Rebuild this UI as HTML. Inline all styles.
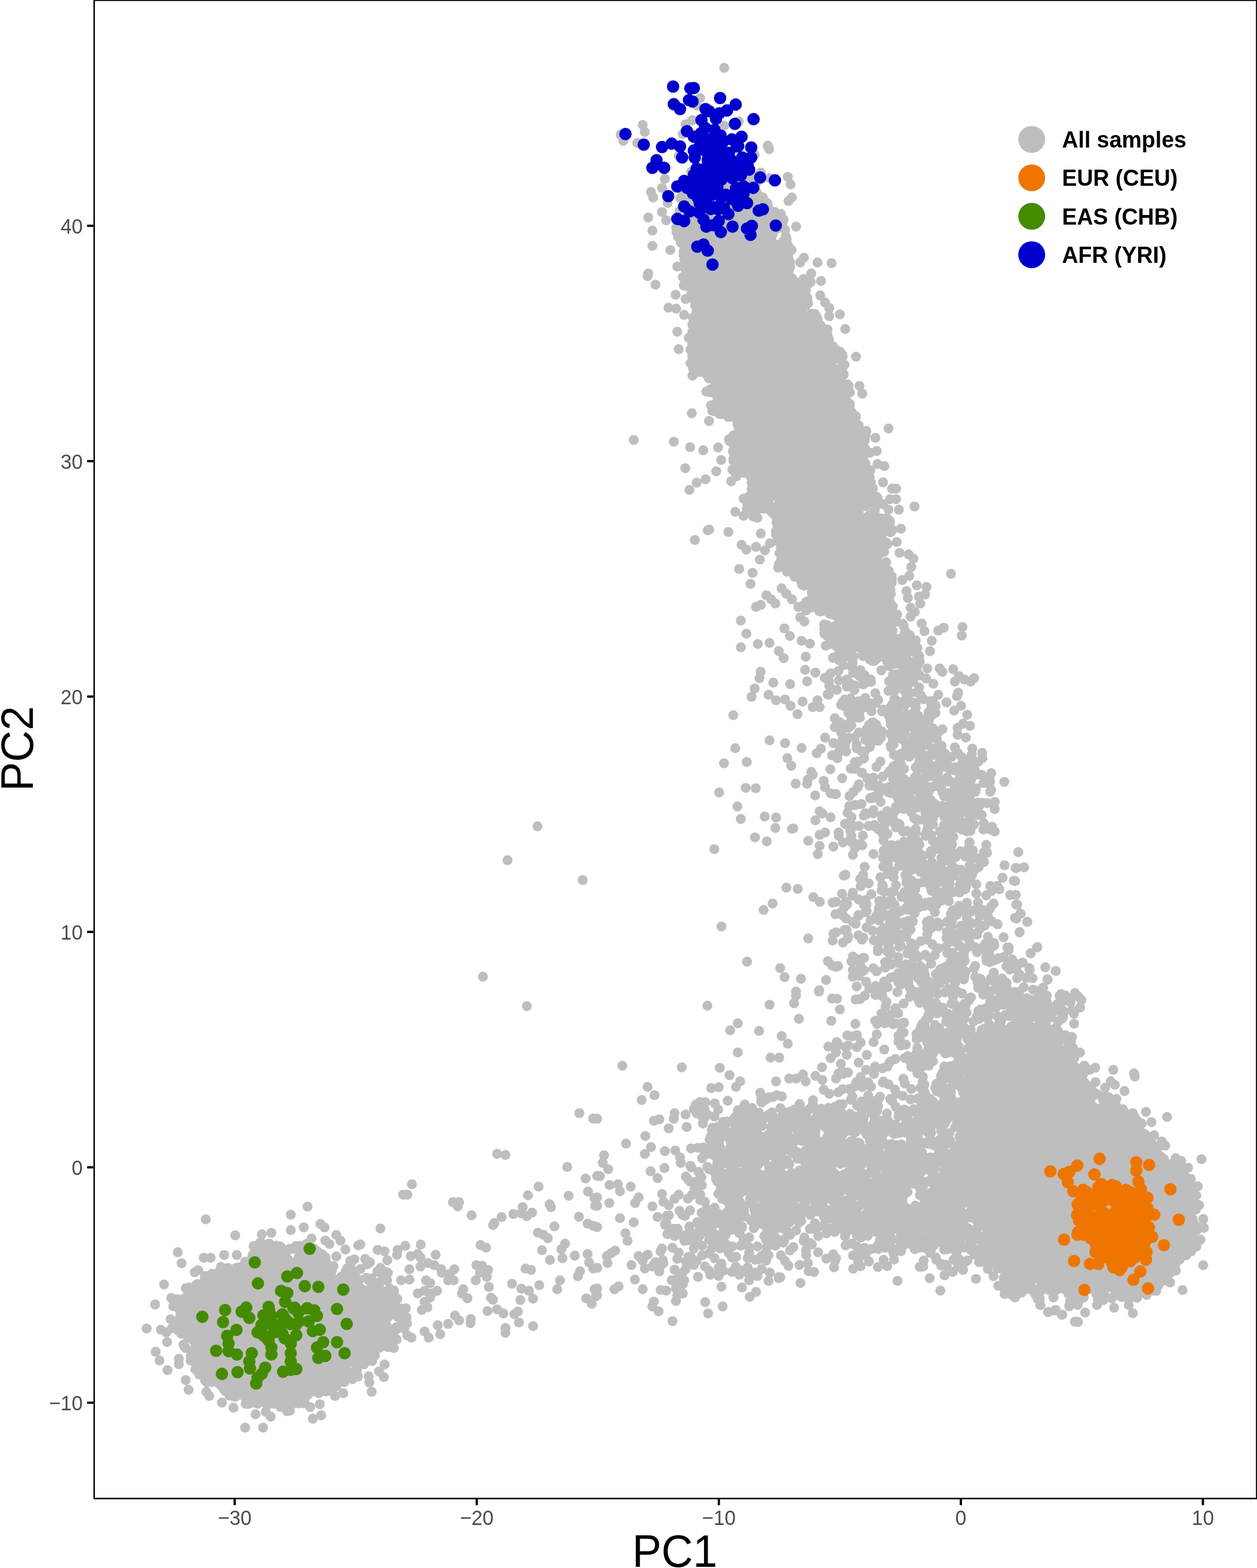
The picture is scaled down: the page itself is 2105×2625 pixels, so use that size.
<!DOCTYPE html>
<html lang="en"><head><meta charset="utf-8"><title>PCA plot: PC1 vs PC2</title>
<style>
html,body{margin:0;padding:0;background:#fff}
body{width:2105px;height:2625px;overflow:hidden}
svg{display:block}
text{font-family:"Liberation Sans",sans-serif}
.tick{font-size:33.33px;fill:#4d4d4d}
.title{font-size:73.33px;fill:#000}
.leg{font-size:37.5px;font-weight:bold;fill:#000}
.pt{fill:none;stroke-linecap:round}
</style></head>
<body>
<svg width="2105" height="2625" viewBox="0 0 2105 2625">
<rect x="0" y="0" width="2105" height="2625" fill="#fff"/>
<g id="points">
<path fill="#bebebe" d="M438 2096 L396 2137 L370 2138 L330 2166 L315 2187 L317 2202 L314 2221 L317 2233 L345 2288 L357 2299 L415 2332 L462 2332 L472 2334 L485 2344 L508 2324 L538 2319 L580 2297 L586 2291 L593 2275 L609 2262 L615 2249 L626 2239 L641 2236 L646 2221 L660 2206 L638 2186 L627 2167 L586 2152 L578 2143 L576 2131 L563 2134 L550 2132 L507 2099 L499 2105 L486 2107 Z"/>
<path fill="#bebebe" d="M1649 1751 L1638 1778 L1655 1904 L1650 1918 L1617 1942 L1608 1970 L1664 2048 L1664 2070 L1653 2081 L1650 2096 L1665 2107 L1687 2107 L1696 2115 L1701 2132 L1695 2150 L1722 2142 L1736 2145 L1747 2143 L1766 2146 L1769 2149 L1789 2149 L1800 2160 L1810 2151 L1820 2149 L1832 2151 L1843 2158 L1893 2157 L1904 2148 L1922 2143 L1937 2128 L1949 2123 L1985 2078 L1986 2023 L1971 1963 L1938 1955 L1923 1940 L1921 1928 L1903 1908 L1894 1887 L1877 1878 L1861 1855 L1822 1843 L1795 1805 L1781 1796 L1777 1786 L1737 1739 L1717 1736 L1710 1742 Z"/>
<path fill="#bebebe" d="M1167 314 L1153 346 L1149 382 L1163 428 L1161 472 L1179 495 L1181 505 L1174 555 L1169 570 L1174 588 L1174 605 L1190 610 L1199 620 L1205 633 L1207 649 L1204 673 L1215 679 L1235 682 L1249 695 L1251 708 L1242 738 L1242 779 L1260 780 L1272 792 L1276 822 L1271 836 L1297 838 L1310 851 L1318 877 L1316 892 L1325 916 L1320 940 L1335 944 L1354 965 L1361 967 L1373 979 L1375 992 L1369 1007 L1402 1012 L1414 1024 L1414 1046 L1402 1058 L1393 1059 L1396 1068 L1413 1070 L1437 1082 L1496 1097 L1524 1097 L1524 1086 L1519 1076 L1501 1060 L1491 1038 L1477 1021 L1473 996 L1476 971 L1470 961 L1464 932 L1475 884 L1460 882 L1448 870 L1446 857 L1454 835 L1442 812 L1438 797 L1442 768 L1434 734 L1420 720 L1417 706 L1406 685 L1404 671 L1408 657 L1397 639 L1392 622 L1396 602 L1377 586 L1371 575 L1368 559 L1356 546 L1340 519 L1335 484 L1319 482 L1307 470 L1305 455 L1308 422 L1291 374 L1267 349 L1251 313 Z"/>
<path class="pt" stroke="#bebebe" stroke-width="16.7" d="M1212.4 1277.8h0M1250.5 1275.5h0M1318.6 1269.3h0M1325 1282h0M1367.8 1261.2h0M1393.3 1264.6h0M1390.5 1287.8h0M1358.6 1292.4h0M1360.9 1297h0M1352.8 1305.1h0M1351.6 1312.1h0M1332.4 1312.1h0M1379.4 1307.4h0M1381.7 1317.8h0M1391 1328.2h0M1397.9 1329.4h0M1365.1 1331.7h0M1204.3 1326.6h0M1248.7 1319h0M1265.6 1319.5h0M1234.8 1350.2h0M1240.6 1371h0M1280.6 1366.9h0M1299.6 1368.7h0M1298.4 1386.1h0M1328.5 1386.8h0M1326.2 1387.7h0M1372.5 1358.3h0M1377.1 1361.8h0M1391 1368.3h0M1365.5 1373.4h0M1264.4 1401.8h0M1284.1 1408.5h0M1353.5 1407.6h0M1372.5 1397.7h0M1381.7 1393.7h0M1372.5 1416.2h0M1369.5 1430h0M1395.6 1417.3h0M1196.2 1421.5h0M1316.9 1486h0M1335.9 1488.1h0M1362.1 1501.8h0M1372.9 1509.9h0M1394.4 1511h0M1293.8 1512.6h0M1278.8 1523.3h0M1399.1 1530.7h0M1208.2 1551h0M1353.5 1571.2h0M1395.6 1563.1h0M1394.4 1574.6h0M1251 1609.8h0M1386.4 1609.3h0M1393.3 1616.3h0M1399.1 1618.6h0M1306.5 1620.9h0M1313.9 1635.9h0M1341.2 1638.7h0M1383.3 1640.6h0M1372 1657.9h0M1333.1 1660h0M1184.6 1683.6h0M1288.7 1682h0M1333.1 1666.9h0M1329.7 1679.7h0M1371.3 1660h0M1393.3 1671.6h0M1337.8 1705.6h0M1392.1 1709h0M1235.5 1713.2h0M1222.8 1724.8h0M1271.1 1725.9h0M1308.8 1734.5h0M1319.3 1747.4h0M1235.5 1761.8h0M1290.3 1770.6h0M1304.9 1770.6h0M1042.3 1784.2h0M1141.6 1786.8h0M1205.4 1787.7h0M1221.6 1800h0M1239.4 1810.4h0M1232.5 1819.6h0M1299.6 1810.4h0M1321.6 1805.7h0M1333.1 1805.7h0M1344.7 1798.8h0M1349.3 1810.4h0M1365.5 1801.1h0M1377.1 1808.1h0M1376.6 1786.8h0M1400 1805.7h0M1379.4 1824.3h0M1388.7 1831.2h0M1273 1829.3h0M1286.9 1837h0M1300.8 1833.5h0M1084.4 1819.6h0M1096 1833.5h0M1074.5 1841.6h0M1190.9 1821.5h0M1203.6 1820.1h0M1171.7 1845.1h0M1218.6 1842.8h0M1161.9 1856.6h0M1129.6 1863.6h0M1128.4 1872.8h0M1148.1 1865.9h0M1094.9 1876.3h0M1104.1 1874h0M1119.8 1889h0M1149.9 1886.7h0M1080.7 1901.8h0M1048.4 1914.5h0M1090.2 1920.3h0M1079.8 1931.8h0M1113.4 1927.2h0M1130.7 1926h0M1138.8 1937.6h0M1140 1946.9h0M1157.3 1922.6h0M1011.6 1934.1h0M1009.3 1946.9h0M1018.5 1957.3h0M1004.6 1968.8h0M1089.5 1960.8h0M1112.7 1955.4h0M1101.1 1972.3h0M1020.8 1983.9h0M1034.7 1982.7h0M1038.2 1994.3h0M1056.2 1986.7h0M1069.4 2004.7h0M1063.6 2014h0M1020.4 2014h0M1000 2004.7h0M1000 2018.6h0M1108.7 1998.9h0M1111 2011.6h0M1129.6 2007h0M1136.5 2000.1h0M1092.5 2019.7h0M1038.2 2039.4h0M1061.3 2046.4h0M1120.3 2034.8h0M1115.7 2046.4h0M1000 1872.8h0M1400 1752.5h0M1400 1761.8h0M1047.4 2064.6h0M1050.9 2077.4h0M1129.6 2069.3h0M1136.5 2064.6h0M1161.9 2078.5h0M1171.2 2069.3h0M1192 2066.9h0M1199 2073.9h0M1215.2 2060h0M1238.3 2064.6h0M1245.2 2073.9h0M1254.5 2071.6h0M1279.9 2069.3h0M1289.2 2076.2h0M1298.4 2071.6h0M1312.3 2075h0M1347 2071.6h0M1356.3 2080.8h0M1370.2 2069.3h0M1384 2064.6h0M1397.9 2062.3h0M1316.9 2060h0M1333.1 2060h0M1030.1 2093.5h0M1023.1 2098.2h0M1016.2 2102.8h0M1017.4 2114.4h0M1069.4 2102.8h0M1084.4 2100.5h0M1076.3 2110.9h0M1108.7 2090.1h0M1126.1 2088.9h0M1136.5 2097h0M1134.2 2107.4h0M1109.9 2109.7h0M1097.2 2113.2h0M1152.7 2104h0M1161.9 2090.1h0M1175.8 2085.4h0M1192 2090.1h0M1205.9 2090.1h0M1175.8 2101.6h0M1166.6 2110.9h0M1196.6 2106.3h0M1208.2 2115.5h0M1226.7 2086.6h0M1240.6 2085.4h0M1254.5 2087.8h0M1268.4 2086.6h0M1284.6 2087.8h0M1298.4 2085.4h0M1254.5 2097h0M1252.2 2106.3h0M1225.6 2105.1h0M1270.7 2108.6h0M1286.9 2101.6h0M1307.7 2101.6h0M1314.6 2110.9h0M1320.4 2119h0M1328.5 2087.8h0M1359.7 2083.1h0M1345.9 2077.4h0M1396.8 2106.3h0M1000 2122.5h0M1057.4 2117.8h0M1079.8 2123.6h0M1092.5 2120.2h0M1104.1 2122.5h0M1111 2114.4h0M1129.6 2125.5h0M1148.1 2124.8h0M1161.9 2117.8h0M1180.5 2120.2h0M1187.4 2127.1h0M1203.6 2122.5h0M1225.6 2129.4h0M1240.6 2128.2h0M1275.3 2124.8h0M1289.2 2130.6h0M1354 2128.2h0M1363.2 2129.4h0M1063.2 2142.1h0M1168.9 2137.5h0M1189.7 2134h0M1202.4 2132.9h0M1124.9 2143.3h0M1134.2 2141h0M1145.7 2143.3h0M1143.4 2150.2h0M1238.3 2134h0M1254.5 2134h0M1254.5 2143.3h0M1268.4 2136.3h0M1286.9 2144.4h0M1304.2 2139.8h0M1340.5 2147.9h0M1000 2157.2h0M1035.9 2153.7h0M1028.9 2158.3h0M1076.3 2158.3h0M1106.4 2159.5h0M1115.7 2160.6h0M1131.9 2157.2h0M1143.4 2165.3h0M1134.2 2168.7h0M1208.2 2154.2h0M1242.5 2155.5h0M1266 2162.9h0M1255.6 2171h0M1000 2168.7h0M1094.9 2179.1h0M1092.5 2187.2h0M1102.9 2195.3h0M1131.9 2178h0M1180.9 2179.8h0M1210.1 2187.2h0M1185.8 2198.8h0M1126.1 2211.8h0M1084.4 462.3h0M1097.6 476.7h0M1131.4 493.5h0M1148.1 500.5h0M1119.6 515.1h0M1132.3 516.7h0M1145.7 527.1h0M1134.2 555.3h0M1136.5 584.5h0M1159.6 628.9h0M1182.8 655.5h0M1158.5 691.8h0M1187.4 704.8h0M1061.3 736.5h0M1128.4 739.5h0M1155.7 748.5h0M1177.7 753.8h0M1202.4 749.2h0M1207.5 770h0M1147.6 783.9h0M1199.4 789h0M1181.6 802.4h0M1166.6 808.2h0M1154.5 820.2h0M1224.4 805.9h0M1374.8 470.4h0M1373.6 494.7h0M1381.7 506.3h0M1388.7 515.5h0M1388.7 529.4h0M1245.2 834.8h0M1231.3 856.8h0M1212.8 113.7h0M1172.4 164.1h0M1167.7 176.8h0M1076.3 209.2h0M1079.8 220.8h0M1039.3 225.4h0M1044 235.8h0M1067.1 239.3h0M1159.6 201.1h0M1148.1 208.1h0M1212.8 210.4h0M1237.1 203.4h0M1143.4 224.3h0M1285.7 243.9h0M1288 249.7h0M1136.5 261.3h0M1263.7 259h0M1157.3 287.9h0M1274.1 289h0M1113.4 299.4h0M1108.7 314.5h0M1289.2 298.3h0M1319.3 296h0M1323.9 308.7h0M1090.2 321.4h0M1093.7 330.7h0M1143.4 323.7h0M1326.2 330.7h0M1320.4 336.5h0M1108.7 355h0M1118 339.9h0M1085.6 364.2h0M1115.7 368.8h0M1284.6 339.9h0M1307.7 358.4h0M1312.3 367.7h0M1092.5 386.2h0M1333.1 379.3h0M1092.5 411.6h0M1122.6 418.6h0M1369 439.4h0M1392.6 440.6h0M1346.3 431.3h0M1340.1 439.4h0M1085.6 457.9h0M1134.2 446.4h0M1358.6 457.9h0M1245.2 863.5h0M1261.4 864.6h0M1268.4 866.9h0M1187.9 886.6h0M1185.1 887.8h0M1219.8 890.5h0M1163.6 904h0M1274.1 893.1h0M1289.2 909.7h0M1241.8 912.1h0M1249.9 920.2h0M1266 915.5h0M1281.1 921.3h0M1300.8 890.1h0M1272.5 936.8h0M1305.4 925.9h0M1237.8 952.5h0M1260.3 959h0M1256.8 977.5h0M1308.8 984.9h0M1316.9 994.2h0M1283.4 996.5h0M1291.5 1003.4h0M1298.4 1010.4h0M1274.1 1012.7h0M1266 1016.2h0M1326.2 1003.4h0M1240.6 1038.8h0M1340.1 1033.5h0M1347 1040.5h0M1313.5 1052h0M1249.9 1060.8h0M1322.7 1064.7h0M1342.4 1072.8h0M1356.3 1077.5h0M1269.1 1078.2h0M1288.7 1076.3h0M1240.6 1083.7h0M1304.2 1090.2h0M1312.3 1101.8h0M1349.3 1099.4h0M1348.2 1121.4h0M1273.7 1124.4h0M1271.8 1135.3h0M1365.5 1126h0M1391 1127.2h0M1295 1142.9h0M1323.2 1145.3h0M1351.6 1140.6h0M1263.7 1152.7h0M1258.6 1166.5h0M1286.9 1163.1h0M1299.6 1172.3h0M1314.6 1171.2h0M1323.9 1181.6h0M1344 1174.6h0M1369 1172.3h0M1360.9 1183.9h0M1372.5 1183.9h0M1335.5 1195.5h0M1227.9 1197.3h0M1397.9 1202.4h0M1397.9 1217.4h0M1381.7 1234.8h0M1288.7 1239.4h0M1314.6 1244h0M1231.3 1252.6h0M1342.4 1252.1h0M1374.8 1253.3h0M1395.6 1244h0M1681.8 1309h0M1645.2 1269.3h0M1638.3 1275h0M1705.4 1426.6h0M1682.2 1448.5h0M1700.8 1453.2h0M1714.6 1452h0M1697.7 1474.7h0M1691.5 1498.3h0M1700.8 1498.3h0M1701.9 1514.5h0M1708.8 1529.5h0M1699.6 1536.5h0M1720.4 1543.4h0M1707.2 1560.8h0M1736.6 1586.2h0M1726.2 1595.5h0M1686.9 1586.2h0M1689.2 1612.8h0M1703.1 1614h0M1712.3 1611.6h0M1723.9 1620.9h0M1750.5 1619.3h0M1767.8 1625.5h0M1754 1639.4h0M1747 1653.3h0M1402.3 1269.3h0M1410.4 1302.8h0M1400 1329.4h0M1415 1379.1h0M1404.6 1398.8h0M1411.6 1410.4h0M1413.9 1557.3h0M1411.6 1578.1h0M1400 1560.8h0M1403.5 1617.4h0M1440.5 1615.1h0M1406.9 1528.4h0M1400 1509.9h0M1400 2106.3h0M1435.9 2102.8h0M1437 2113.2h0M1479.8 2109h0M1497.2 2108.6h0M1546.9 2110.4h0M1575.8 2115.5h0M1595.5 2129.4h0M1581.6 2135.2h0M1612.8 2125.9h0M1556.9 2139.8h0M1502.9 2144.4h0M1574.7 2160.6h0M1634.4 2141h0M1663.7 2136.3h0M1671.8 2152.5h0M1682.2 2166.4h0M1699.6 2172.2h0M1741.2 2174.5h0M1742.4 2184.9h0M1764.4 2172.2h0M1755.1 2196.5h0M1767.8 2193h0M1778.3 2201.1h0M1791 2184.9h0M1800 2212.7h0M1531.9 2091.2h0M1427.8 2082h0M1469.4 2085.4h0M1490.2 2085.4h0M1406.5 526.4h0M1415.5 550.9h0M1433.5 597.2h0M1439.3 646.2h0M1444 659h0M1487.9 717.3h0M1465.9 733h0M1468.2 755h0M1481 780.4h0M1469.4 776.9h0M1478.7 807.7h0M1493.7 818.1h0M1500.6 818.1h0M1500.6 835.9h0M1490.2 835.9h0M1478.7 844h0M1531.4 848h0M1505.3 853.3h0M1487.9 853.3h0M1508.7 885h0M1501.8 907.4h0M1506.4 925.5h0M1521.5 928.2h0M1529.6 935.2h0M1526.1 949.1h0M1522.6 964.1h0M1511 971h0M1535.3 979.8h0M1551.5 982.6h0M1518 989.6h0M1549.2 995.3h0M1538.8 998.8h0M1520.3 1001.1h0M1541.1 1010.4h0M1524.9 1017.3h0M1531.9 1024.3h0M1524.9 1032.4h0M1543.4 1043.9h0M1548.1 1056.6h0M1592.5 960.6h0M1580.5 1050.9h0M1571.2 1055.5h0M1611.7 1049.7h0M1610.5 1064h0M1560.3 1072.8h0M1557.3 1090.2h0M1552.7 1119.1h0M1573.5 1119.1h0M1578.1 1124.9h0M1596.2 1120.3h0M1563.1 1144.6h0M1605.9 1131.8h0M1599 1141.1h0M1615.2 1137.6h0M1625.6 1141.1h0M1631.3 1135.3h0M1604.7 1159.6h0M1602.4 1165.4h0M1571.2 1163.1h0M1585.1 1175.8h0M1609.4 1181.6h0M1597.8 1189.7h0M1619.8 1196.6h0M1612.8 1211.6h0M1624.4 1215.1h0M1603.6 1218.6h0M1603.6 1230.2h0M1617.5 1234.8h0M1578.1 1220.9h0M1577 1248.7h0M1599 1251h0M1628.3 1253.3h0M1705.1 1426.6h0M1715 1452.1h0M1702.3 1453.2h0M1700 1475.2h0M1701.2 1498.3h0M1703.5 1514.5h0M1709.3 1529.6h0M1702.3 1537.7h0M1720.4 1543h0M1707.6 1560.3h0M1737 1585.5h0M1725.9 1596h0M1712.7 1611.7h0M1704.6 1615.2h0M1724.3 1623.3h0M1750.4 1619.3h0M1768.2 1625.6h0M1754.4 1640.1h0M1706.9 1633.7h0M1718.5 1637.1h0M1714.3 1652.6h0M1730.1 1656.8h0M1739.3 1659.1h0M1746.3 1654.5h0M1774.5 1667.2h0M1805.3 1667.9h0M1811 1674.1h0M1808.7 1686.9h0M1772.9 1684.6h0M1779.8 1691.5h0M1794.9 1691.5h0M1778 1705.4h0M1730.1 1674.1h0M1746.3 1689.2h0M1742.8 1703.1h0M1755.5 1722.7h0M1744 1722.7h0M1772.9 1728.5h0M1784.4 1733.1h0M1787.9 1740.1h0M1794.9 1754h0M1771.7 1747h0M1759 1751.6h0M1764.8 1760.9h0M1808.7 1762.1h0M1797.2 1767.8h0M1834.2 1787.5h0M1864.3 1791h0M1899 1796.8h0M1815.7 1784h0M1824.9 1791h0M1900.5 1802.3h0M1860 1810.4h0M1866.9 1816.2h0M1850.7 1820.8h0M1883.1 1826.6h0M1834.6 1811.6h0M1919 1861.3h0M1897 1863.6h0M1954.4 1869.9h0M1928.3 1878.7h0M1932.9 1900.6h0M1945.6 1911h0M1951.4 1918h0M2012 1940.7h0M1968.7 1938.8h0M1978 1943.4h0M1989.6 1955h0M1994.2 1973.5h0M2005.8 1986.2h0M2003.4 2001.3h0M2008.1 2017.5h0M2015 2040.6h0M2016.2 2055.6h0M2005.8 2054.5h0M2010.4 2075.3h0M2003.4 2086.9h0M2015 2118.1h0M1980.3 2159.7h0M1959.5 2147h0M1936.3 2160.9h0M1920.2 2167.8h0M1742 2184.7h0M1737.4 2174.3h0M1764 2172h0M1755.9 2196.3h0M1766.3 2194h0M1779 2200.9h0M1790.6 2187h0M1804.5 2184.7h0M1817.2 2197.4h0M1805.2 2212.9h0M1836.9 2184.7h0M1865.8 2189.3h0M1897 2198.6h0M1890.1 2184.7h0M1980.3 2159.7h0M515.1 2020.1h0M486.9 2033.5h0M344.6 2041.4h0M536.6 2049h0M543.6 2054.8h0M508.8 2054.8h0M486.9 2059.4h0M393.9 2068.2h0M454.5 2064h0M438.3 2066.3h0M521.6 2073.3h0M563.2 2067.5h0M570.2 2076.8h0M551.6 2082.5h0M544.7 2076.8h0M578.3 2091.8h0M563.2 2103.4h0M600 2084.9h0M297.6 2096.4h0M375.4 2101h0M396.6 2101h0M304.1 2114.9h0M341.1 2105.7h0M352.7 2105.7h0M331.9 2126.5h0M326.1 2130h0M274.7 2150.3h0M311 2156.6h0M286.8 2172.8h0M297.2 2175.1h0M259.7 2183.9h0M290.2 2186.6h0M285.6 2208.6h0M245.6 2224.1h0M269.4 2226h0M278.7 2230.6h0M287.9 2223.7h0M279.8 2246.8h0M260.6 2263h0M267.1 2277.6h0M299.5 2274.6h0M299.5 2283.8h0M280.5 2293.8h0M311 2310.4h0M315.7 2326.6h0M345.7 2330.1h0M350.4 2337h0M371.7 2348.1h0M390.9 2356.7h0M427.9 2367.6h0M445.2 2363.6h0M453.3 2371.7h0M410.5 2390h0M440.6 2390h0M523.9 2375.2h0M537.8 2369.4h0M519.3 2355.5h0M535.5 2350.9h0M574.8 2332.4h0M560.9 2337h0M970.2 1863.5h0M993.3 1872.7h0M832.5 1931.7h0M846.4 1933.6h0M949.8 1953.7h0M980.6 1972.9h0M1000 1968.7h0M689.8 1982.6h0M675.2 2000h0M682.1 2000h0M901.9 1986.5h0M884.1 2001.1h0M952.3 2001.8h0M984.7 1994.9h0M995.6 2005.7h0M996.8 2018.5h0M758.5 2012.7h0M768.9 2012.7h0M766.6 2019.6h0M875.3 2020.8h0M920.4 2016.2h0M922.7 2020.8h0M789.7 2034.7h0M839.9 2037.7h0M859.8 2032.4h0M873 2031.2h0M882.2 2035.8h0M891 2030h0M825.6 2050.9h0M827.9 2047.4h0M969.5 2037h0M984 2048.5h0M993.3 2052h0M1000 2054.3h0M637 2056.6h0M928.5 2053.2h0M900.8 2063.6h0M910 2067.1h0M917.4 2072.8h0M603.5 2083.3h0M704.6 2083.7h0M678.7 2085.6h0M665.9 2092.5h0M632.4 2092.5h0M644 2094.8h0M804.7 2084.4h0M814 2088.6h0M946.3 2082.1h0M940.1 2091.3h0M907.7 2093.2h0M984 2099.4h0M962.5 2102.2h0M729.6 2100.6h0M664.8 2100.6h0M687.9 2102.9h0M699.5 2099.4h0M704.1 2105.2h0M920.9 2109.4h0M941.9 2106.4h0M611.6 2107.5h0M619.7 2113.3h0M648.6 2109.9h0M986.4 2113.3h0M993.3 2123.7h0M637 2122.6h0M685.6 2124.9h0M704.1 2120.3h0M716.8 2114.5h0M727.2 2118h0M738.8 2124.9h0M740 2130.7h0M760.8 2124.9h0M752.7 2133h0M797.8 2118h0M807.1 2119.1h0M817.5 2126h0M803.6 2130.7h0M815.2 2137.6h0M796.6 2143.4h0M879.9 2123.7h0M889.2 2126h0M971.3 2128.4h0M967.8 2136.5h0M750.4 2143.4h0M759.6 2143.4h0M671.7 2143.4h0M685.6 2142.2h0M713.4 2143.4h0M720.3 2148h0M857.5 2149.2h0M937.8 2143.4h0M903.1 2151.5h0M818.6 2154.5h0M873 2157.3h0M885.7 2160.8h0M933.1 2158.4h0M995.6 2158.4h0M775.8 2158.4h0M773.5 2165.4h0M782.8 2173.5h0M699.5 2165.4h0M711 2160.8h0M722.6 2165.4h0M731.9 2160.8h0M720.3 2172.3h0M711 2179.3h0M715.7 2188.5h0M706.4 2193.1h0M822.1 2172.3h0M825.6 2175.8h0M871.4 2176.3h0M892.7 2174.2h0M981.7 2173.5h0M991 2182.7h0M997.9 2170h0M816.3 2194.8h0M832.5 2192h0M842.9 2198.9h0M867.2 2195.5h0M861.4 2200.1h0M761.9 2202.4h0M768.9 2210.5h0M788.5 2208.2h0M787.9 2215.1h0M869.1 2214h0M750.4 2216.3h0M733 2218.6h0M892.7 2220.2h0M846.4 2223.2h0M846.4 2231.3h0M711 2229h0M718 2239.4h0M737.2 2233.6h0M682.1 2235.9h0M689.1 2239.4h0M644 2284.4h0M634.7 2296h0M642.8 2305.3h0M617.4 2304.1h0M618.5 2314.5h0M622.4 2330h0M627.8 2269.4h0M623.1 2278.7h0M900.1 1383.3h0M849.9 1440.2h0M975.8 1473.5h0M808.7 1635.2h0M882.3 1684.3h0M1682.1 1736.7h0M641.9 2167.6h0M1231.3 306.9h0M526.1 2320.5h0M376.2 2326.6h0M583.4 2296.9h0M1473.1 947.5h0M1425.3 1078.1h0M1245.8 719.6h0M1312.4 879.5h0M1664.4 2039.1h0M1649.3 1763h0M1189.1 651.8h0M1427.8 1084.3h0M1170 566.9h0M1774.1 1755.2h0M1297.8 862.6h0M1635.4 2030.8h0M1964.9 2111.6h0M1411.9 680.1h0M1642.5 2102.7h0M1999.8 2008.5h0M1415.6 701.3h0M1494.7 1055.6h0M1877 2170.5h0M1702.2 2167.8h0M1340.5 484.1h0M1966 1957.5h0M1886.2 2168.2h0M1678.3 1731.9h0M1978.8 2081h0M1638.7 1909.3h0M1401.4 663.7h0M1387.3 618.3h0M1232.9 747.8h0M1930.8 2160.7h0M1146 461.8h0M1234.7 710.3h0M509.7 2335.9h0M1393.6 1028.7h0M1368.2 998.5h0M1144.5 323.7h0M1795.5 1814.2h0M1474 1024.5h0M1153.1 331.8h0M1635.4 1923h0M1766 2150.8h0M315.7 2176.7h0M1656 1735.5h0M1163.5 299.3h0M1243.1 302.6h0M1926.4 2137h0M1201.2 656.4h0M320.7 2230.1h0M1994.2 2073.1h0M1243.8 687.8h0M1468.1 918.3h0M1176.7 504.1h0M593.1 2128.2h0M1655.8 1734.2h0M1166.7 521.2h0M1754.6 2146.7h0M1669.6 2069.2h0M1421.5 691.3h0M1850.3 2169.3h0M1452.9 1086.2h0M1273.4 806.8h0M1936.1 1946.8h0M1991.9 2091.6h0M1740.9 2157.5h0M529.8 2326h0M1481.5 1012.5h0M582 2303.7h0M1302.5 362.4h0M1436.7 806h0M1160.5 555.5h0M1658.5 1897h0M1258.8 775.7h0M328.6 2170.7h0M597.8 2294.4h0M667.6 2196.2h0M1640.6 2013.7h0M1726.6 2140.2h0M1239.3 699h0M1261.4 854.6h0M1982.4 2085.7h0M1756.4 1757.5h0M1934.2 1936.5h0M1177.2 580.2h0M1297.4 365.6h0M1192.5 657.2h0M1468.6 952.7h0M534.2 2331.1h0M1244.9 305.3h0M1393.6 622.5h0M1440.5 797.3h0M1385.2 1046.7h0M1980.7 1974.9h0M1502.5 1028.9h0M1198.5 640h0M1445.2 1098.3h0M1476.8 1002.4h0M1221.6 309.9h0M1145.2 385.1h0M1154 415.6h0M1682.9 2158.2h0M1786.5 1783.4h0M1143.5 463.8h0M1494.9 1100.6h0M596.5 2288.9h0M1238.4 688.3h0M609.5 2266.7h0M1193.2 308.7h0M312.4 2234.1h0M1769.7 2158.9h0M1429.9 1078h0M1230 774h0M625.9 2145.9h0M1913 1925.7h0M312.2 2209.9h0M1167.3 559.1h0M1650.6 1856.7h0M593.5 2108.4h0M1321.1 416.7h0M1227 310.6h0M482.1 2111.5h0M1640.6 1880.2h0M1477.8 1006.3h0M317.9 2233.4h0M1642.7 2101.5h0M1723.3 1740.1h0M1984.6 2000.1h0M1445.5 736.4h0M1400.3 1072.3h0M315.5 2225.9h0M349.8 2136.3h0M1788.6 2153.6h0M1160.7 554.6h0M2001.1 2016.1h0M1199.8 621.3h0M1310.6 466.1h0M1892.6 1886.3h0M1197 659h0M1477.2 1019.5h0M1258.8 801h0M1440.5 740.3h0M1407.6 655.7h0M1409.1 653.2h0M1322.9 923.7h0M1195.2 622.5h0M1984.4 1969.2h0M1320.4 483.5h0M1928.7 1939.9h0M1765.3 2153h0M1260.4 298.6h0M1198.4 615.4h0M1241.7 298.7h0M404.1 2132h0M1653.3 1889.3h0M1230.4 697.9h0M428.3 2334.2h0M423.4 2100.3h0M344.4 2287.5h0M490.1 2349.8h0M1349.6 494.8h0M1476.4 868.2h0M1918.7 1911.9h0M650.9 2184.7h0M1717.1 1712.3h0M1146.7 429h0M319.3 2270.4h0M321.8 2187h0M1640.3 1819.6h0M1695 1736.3h0M1226.7 692.5h0M1458.7 832.2h0M1229.7 696.2h0M1154.6 332.8h0M1407.1 1084.3h0M1397.3 1013.9h0M1212.1 683.4h0M1515 1110.1h0M1196 686.1h0M1212.5 686.4h0M1669.7 2053.3h0M1929.5 2145.9h0M384.2 2324.9h0M1938.1 1936.2h0M1461.2 841.5h0M1721.3 1732.5h0M1932.1 1926.3h0M350 2151.1h0M1675.7 1737.6h0M1371.5 1005h0M1382.8 555.1h0M1162.7 433.4h0M1957.9 2122.1h0M1647.4 1818h0M626.9 2175.6h0M1247.3 722.2h0M1644.9 2112.4h0M475.1 2108.5h0M1664.4 2052.8h0M1247.1 737.8h0M307.9 2183.1h0M1405.7 591.7h0M1955.8 1957.9h0M1458.5 807.6h0M1374.6 1013.4h0M1638.1 2044.5h0M1308.5 934.3h0M1158.7 569.9h0M1972.5 1972.4h0M1911.5 1921.7h0M1795.3 2151.8h0M656.7 2231.7h0M597.6 2141.1h0M335.6 2287.9h0M1319.7 410.8h0M1295.1 859.5h0M617.7 2243.9h0M1637.1 1747.2h0M1293.2 371.3h0M1518.6 1071.4h0M333.9 2289.7h0M1918.7 1933.9h0M1979.9 1966h0M2004.4 2059.6h0M1172.7 525.9h0M546.2 2113.5h0M314.9 2203.2h0M1146 434.4h0M1196.2 637h0M1401.4 1082.6h0M601.6 2157.9h0M412.3 2117.3h0M1285.9 351.1h0M1466.6 888.1h0M629.8 2178.1h0M1635.8 1781.3h0M1755.9 2148.6h0M1529.8 1078.2h0M1723.7 1684.7h0M1357.4 964.6h0M1630.5 1793.8h0M1682 2101.8h0M1484.5 868.1h0M1368.6 974h0M332.2 2170.1h0M1883.2 1881.1h0M1854.5 1855.2h0M1132.9 388.9h0M1313.9 870.5h0M1793.4 1784.7h0M1156.4 337.6h0M1445.1 781.5h0M1410.6 1036.2h0M1160.2 594.4h0M1202.9 298h0M353.7 2144.3h0M1954.3 2110.9h0M584.3 2299.6h0M1159.7 471.3h0M1158.9 340.3h0M1369 533.7h0M1635.5 2096.6h0M1416.9 704.9h0M1514 1115.3h0M1883 1877.4h0M1213.7 692.4h0M1471.6 883.2h0M1380.2 1045.3h0M1446.3 754.7h0M1345.8 950.3h0M1807.8 2163.4h0M1478.8 980.7h0M467.5 2344.8h0M1517.8 1100.2h0M1305.9 454.3h0M544.1 2106h0M1478 951.7h0M1424 1078h0M310.8 2256.7h0M1156.8 364h0M1646.6 1739.8h0M1251.4 709.4h0M1197.6 648.3h0M1158.7 469.9h0M1188.4 608.9h0M550.8 2317.3h0M1487.1 962.3h0M1272.6 805.6h0M1391.2 1016.7h0M1654.3 1744.4h0M1237.1 735.7h0M1232.2 310.2h0M1163.9 622.3h0M1349.8 540.1h0M1630.5 1928.6h0M1270.7 342.5h0M614.2 2271.5h0M1388.9 1027.3h0M1461.4 1106.7h0M1359.4 991.6h0M1144.4 364.2h0M1452.5 828.1h0M1337.1 504.4h0M1865.3 1865.8h0M1185.1 619.3h0M1645.6 2070.6h0M1437.6 748.6h0M1292 857.2h0M1998.5 2048.1h0M1977.8 1959.5h0M1384 1063.1h0M1409.5 642.3h0M637.4 2173.9h0M1486.2 911.1h0M1298.4 357.3h0M1333.8 485.7h0M1168.3 490.8h0M1938.2 1952.1h0M1249.2 751.6h0M1994.8 1999.7h0M1911.2 1909.4h0M354.8 2132.6h0M1685.8 1728.2h0M1604.8 1947.2h0M1163 312.5h0M623.6 2244.6h0M1624.5 1940.2h0M1405.6 625.5h0M1648 2085.3h0M1960.4 1958.7h0M1354 1007h0M462.6 2085.4h0M297.9 2212.8h0M610 2251.3h0M1189 656.6h0M1639.6 1811.2h0M1662.9 1734.1h0M1624.7 1771.9h0M1257.8 325.2h0M1526 1082.8h0M1934 2135.8h0M1164.9 332.2h0M1537.2 1100.2h0M1380.5 1053.2h0M354.9 2143.8h0M374.3 2316.3h0M1594.1 1979.2h0M581.3 2132.3h0M525.7 2090.1h0M1152.6 314.8h0M1480.2 990.6h0M1815.3 1839.9h0M1762.5 1766.4h0M1307.9 375.5h0M1363.4 990.2h0M1361.1 976.3h0M1468 1102.9h0M342.9 2292.8h0M1335.5 947.4h0M1171.3 569.1h0M1521.3 1091.3h0M1635.5 2038.2h0M1975.5 2108.5h0M1160.1 404.6h0M1999.9 2049.8h0M1362.5 530.2h0M1894.7 1868.2h0M1355.8 552.3h0M1168.2 496.8h0M500.2 2104.3h0M1223.7 680.4h0M1285.4 346.9h0M1144.9 391h0M1467.6 967.4h0M394.6 2334.4h0M1449 775.3h0M1959.8 1948.8h0M1174.3 496.8h0M1639.7 1818.8h0M1896.5 1897.1h0M1827.5 1838h0M1144.9 410.3h0M1660.6 1743h0M1260.7 782.6h0M1226.4 786.3h0M1373.1 1012.2h0M1847.4 2176.4h0M635.2 2256.7h0M1194 652.2h0M1445.3 1095.2h0M495.8 2086h0M1985.5 1984.3h0M1276.8 829.8h0M1772.7 2148.9h0M1817.1 1841.6h0M1426.3 690h0M1435.1 754.9h0M1619.9 2010.1h0M1999.9 2060.5h0M1609.9 2004.5h0M585 2120.3h0M1230.2 769.6h0M1206 645.3h0M596.7 2142.3h0M322.4 2167.6h0M1805.8 1806.5h0M419.9 2348.7h0M669 2203.6h0M1187 311.2h0M412.5 2127.4h0M1450.7 721.4h0M1164.8 448.6h0M328.6 2256.6h0M320.5 2223.5h0M1323 438.1h0M1981.3 2026.2h0M587.2 2304.7h0M1168.4 561.2h0M1178.7 491.2h0M1450.3 870.2h0M1981.7 2041.5h0M1275 814.7h0M1240.2 768.3h0M1316.1 895.6h0M1256.6 791.3h0M1657 1893.4h0M1522.1 1080.8h0M335.5 2168.5h0M1919.6 2149.5h0M1794.4 1787h0M391.8 2136.6h0M1708.7 1695.1h0M1650.5 2030.3h0M1261.5 842.7h0M539.3 2127.7h0M1635.7 1796.1h0M512.9 2335.6h0M1643.3 1910.9h0M1182 527.6h0M1920.9 1936.7h0M1149.9 339.5h0M1627.9 1926h0M1608.8 1977.2h0M1685.6 2147h0M1529.5 1077.8h0M1277.7 822.8h0M1386 1162.5h0M1634.7 1883.7h0M582.9 2148.2h0M1147.5 470.6h0M1683.4 1741.9h0M1833.5 1830.1h0M1364.6 533.7h0M1485.7 1009.5h0M1272.5 842.9h0M1774.7 1781.7h0M1317.8 957.1h0M1699.7 1744.9h0M1635.7 2040.9h0M1163.4 567.8h0M1212.8 675.7h0M1442.5 778.5h0M343.9 2165.2h0M545.3 2105.2h0M1535.8 1096.8h0M1467.4 864.4h0M1645.8 2050.6h0M407.4 2119h0M635.5 2243.1h0M336.4 2286.4h0M1218.2 683.6h0M523.6 2113.7h0M1217.9 301.2h0M1619.3 1933.6h0M1903.7 2166.7h0M1790.1 2161.8h0M1491.2 891.1h0M1257 323.1h0M565.9 2302.2h0M1846.2 1853.9h0M1485.7 1016h0M1891 2151.7h0M1666.4 2114.3h0M1448.4 736.8h0M620.5 2269.9h0M1955.9 2110.6h0M1326.1 954.1h0M1157.5 334.8h0M1736 2164.7h0M1381 1134.9h0M1420.6 1076.1h0M1232.7 773.9h0M1633.3 2028.6h0M1251.6 844.6h0M1437.3 800.5h0M1330.9 486.6h0M319.2 2277.6h0M1440.7 742.1h0M1268.9 845.5h0M1648.2 2024.2h0M1250.1 301.8h0M1213.8 313.4h0M1190 625.2h0M1655 2033.8h0M1644.8 2077.2h0M601.3 2267.1h0M632.6 2257.5h0M1172.6 588.8h0M1476.8 1010.3h0M1237.4 767.2h0M1386.6 576.4h0M414.7 2336.3h0M475.4 2101.7h0M483.2 2109.2h0M1486.6 962.7h0M1643.1 1921.4h0M1466.5 916.4h0M1163.1 336.7h0M1456.7 758.2h0M1660.5 1749.8h0M1537.7 1107h0M1939.3 2146.2h0M1981.9 2075.7h0M1711.7 1683h0M323.7 2271.1h0M1654.2 2124.5h0M1951.6 2120.3h0M1845.9 2164.7h0M409 2134.1h0M548.5 2308.4h0M1637.4 1772.1h0M1656.9 2051.1h0M1633.1 2031h0M1315.8 901.9h0M1908.3 1904.2h0M1470.3 907.4h0M1587.6 1970.3h0M1153.7 448.7h0M1924.9 2132.9h0M1637.7 1850.9h0M466.8 2348.4h0M1860 2154.2h0M1649.9 1860.7h0M391.8 2126.1h0M1395.8 643.3h0M1747.3 1741.4h0M1289.8 380.7h0M1698 2155h0M1168.4 501.6h0M645.4 2167.4h0M399.9 2330.5h0M1371.2 553.4h0M1322.4 872.3h0M572.1 2136.8h0M1371.7 980h0M1652.7 1732.5h0M1874.9 2166.6h0M1491.9 1106.9h0M1825.5 1849.2h0M1319.3 487.9h0M1505.4 1102.4h0M1774.2 2149.8h0M382 2122.9h0M1177.2 558.2h0M1878.3 2171.4h0M1651.6 1752.7h0M1259.5 799.7h0M1692 2107.6h0M1209.6 303.1h0M651 2186.6h0M1797.5 1814.2h0M1395.5 635.8h0M1677.7 2111.1h0M1170.3 311.9h0M1412.1 1057.6h0M1196.9 647.7h0M474.6 2339h0M1704.3 2145.2h0M1458.3 878.7h0M1194.3 611h0M1494.1 1099.4h0M1415.4 647.6h0M1483.3 973.8h0M1378.9 999.9h0M1970.9 2111.4h0M512.4 2095.9h0M1478.2 982.9h0M1754.8 1750.3h0M1282 360.5h0M1394.2 1054.2h0M1265.4 836.4h0M1765.7 2150.7h0M475.8 2095.8h0M1625.4 1812.3h0M1277.4 330.5h0M1501.5 1040.6h0M1704.9 2141.4h0M1464.6 1106.2h0M1907.6 1893.6h0M1177.7 596.5h0M1653.1 2099.4h0M676.3 2221.2h0M315.9 2217.7h0M1441.9 1085.9h0M632.3 2150.3h0M442.5 2333.4h0M1995.4 2043.1h0M378.9 2327.9h0M1477.6 947.4h0M593.6 2282.5h0M1606.4 1995.7h0M1158.3 586.4h0M1898.8 1896.7h0M1812.2 1797.3h0M356.5 2151.2h0M1241.7 307.6h0M1808.4 1832.3h0M661.2 2194.2h0M1408.6 1077.5h0M1273.8 801.8h0M1732.7 1726.6h0M1847.2 1841.4h0M1270.9 791.8h0M526.7 2105.9h0M1920.8 1917.3h0M1406.9 1026h0M1891.6 1879.6h0M1465.8 941.8h0M376.9 2328.5h0M473.9 2091.4h0M1447.4 796.5h0M1649.6 1735h0M1484.2 991.8h0M1352 498.9h0M1169.9 622.5h0M1432.9 698.9h0M1949.4 1962.8h0M1147.2 377.4h0M670.2 2207.3h0M1839 2156.6h0M1776.3 2148.1h0M665.9 2193.9h0M1386 562h0M652.8 2249.3h0M1458.2 1099.5h0M1372.3 568.9h0M1411.2 1081.4h0M1313.2 423.7h0M1234.5 734.5h0M403.9 2133.6h0M1241.5 772.9h0M1197.6 296.9h0M1172.6 494.7h0M1399.5 1021.1h0M1314.6 861.9h0M1987.8 2085h0M1469.3 841.9h0M579.2 2128h0M1973 1972.2h0M1691.2 2104.8h0M1469.5 893.9h0M1639.4 2103.1h0M1660.3 2057.2h0M1486.8 970.9h0M1413.5 1040.6h0M1346.6 980.7h0M1487.8 1105.8h0M1215.4 318.5h0M1664.5 2075.2h0M1162.1 558.8h0M1995.4 2085.2h0M1775 1767h0M1761.4 1772.6h0M1672.9 2121.8h0M1357.4 981.6h0M1271 814.2h0M1300.4 850.6h0M1167.7 504.9h0M586.4 2148.4h0M1473.1 927.3h0M349.2 2142.8h0M1147.6 415.8h0M1658.1 1900.5h0M1369.7 577.2h0M1394.5 604h0M1966.6 1952.6h0M1249.6 726h0M1763.5 2154.4h0M1446.2 876h0M1240.5 761.7h0M475.5 2355.9h0M1312.2 850.5h0M1392.7 1062.2h0M1293.1 379.5h0M1307.5 465.9h0M1772.6 2154.2h0M1185.3 605.8h0M621.2 2274.3h0M330.3 2173.6h0M1258.7 808.2h0M1687.4 2158.9h0M1138.7 373.9h0M344.9 2306.5h0M510.3 2324.3h0M1176.5 601.9h0M1243.3 316.8h0M1289.3 352.2h0M1198.1 610.4h0M1531.8 1089.4h0M1665.6 1744.1h0M1984.3 2072.5h0M1726 1740.3h0M1268.8 325.1h0M1422.8 678.6h0M1407.2 632.2h0M601.7 2142.6h0M1620.3 1921.8h0M1917.5 1933.9h0M1173.3 611.4h0M1871.8 1880.3h0M393.8 2320.8h0M1173.7 518.6h0M1405.9 1058.2h0M661 2180.9h0M1321.3 452h0M1809 2173.9h0M1400.6 637h0M1162.2 320.3h0M1311.4 444.2h0M562.2 2303.9h0M499.5 2349.4h0M1413.4 1054.7h0M1390.7 585.4h0M1513.1 1066.3h0M1401.3 1029.2h0M1441.6 764h0M1467.6 939.1h0M1448.1 723.9h0M1619 1980.4h0M1492.5 1014.3h0M1720.7 1709.9h0M1308.6 441.7h0M1495 1014.9h0M1189.6 653h0M1271.3 845.7h0M1855.2 1842.8h0M1638.6 2006.6h0M1402.9 671.9h0M1634.3 2019.1h0M1849.7 2159.7h0M1371.3 585.4h0M1509.9 1096.2h0M1262.1 325.9h0M1790 1781.2h0M1408 615.5h0M1250.7 852.2h0M1393.1 594.5h0M305.2 2229.6h0M1760.4 2147.3h0M1186.8 633.3h0M1640.6 2014h0M640.9 2168.2h0M1994.7 2095h0M1290.2 847.7h0M1936.1 2150.9h0M1278.7 851.7h0M1326 927.4h0M316.6 2155.3h0M1235.8 297.6h0M1623.2 1935.9h0M1644.6 2036.2h0M1442.3 1078.7h0M622.6 2158.4h0M1710.7 1680.1h0M1982.2 2008.1h0M1431.7 738.7h0M1448.7 1088.6h0M1353.3 507.5h0M1356.4 528.1h0M1701.8 2120.1h0M1591.3 1975.7h0M1200.9 672.1h0M1828.8 1826.2h0M343.9 2297.1h0M1640 1904.3h0M1433.3 696.8h0M1159.3 453.2h0M594.3 2135.9h0M500.6 2334.5h0M1658.6 2083.1h0M1366.6 528.7h0M345 2283.2h0M1357.9 525.5h0M1696.3 1731.6h0M1183.4 627.1h0M302 2202.3h0M327.5 2161.4h0M1139.8 375.4h0M1632.3 1793.5h0M533 2118.9h0M1163.1 558.9h0M1725.6 1698.1h0M1309.3 854.7h0M1309.9 916.8h0M1166.3 586.5h0M1926.8 1942.6h0M1235.5 791.1h0M587.2 2301.1h0M307.2 2174.7h0M1414.5 683.5h0M1670.6 2118.2h0M1162.2 500.6h0M1635 1747.2h0M1160.5 617.2h0M1321.1 898h0M1469.8 833.8h0M571.7 2298.1h0M1382.4 555h0M1693.5 2141.7h0M1343 978.7h0M589.2 2136.9h0M1508.7 1113.2h0M1999 2020.3h0M593.4 2270.2h0M640.4 2172.5h0M437.2 2086.9h0M328.6 2261h0M1310.6 867.2h0M1228.1 768.3h0M1536.6 1084.9h0M1508.8 1103.9h0M1353.8 969.5h0M1170.4 301.2h0M1323 932.8h0M635.6 2158.3h0M1750.1 2157h0M1661.5 2103.2h0M1762.9 1756.1h0M1804.5 1796.5h0M1671.7 1738.2h0M1644.6 1867.2h0M1173.4 519.2h0M1848.8 1845.5h0M1862 1845.5h0M1270.8 782.1h0M427.8 2085.7h0M1295.7 376.7h0M1383 1047.4h0M1209.8 681.7h0M1929.8 1915.6h0M1244.4 709.8h0M1242.1 780.9h0M635.8 2186.5h0M1314.6 458.7h0M339 2278.2h0M1656.8 2078.3h0M358.4 2311.8h0M587.7 2299.1h0M1637.4 2012.2h0M1227.4 755.4h0M1228.4 685.8h0M1373.5 585.6h0M1220.2 682.3h0M1699.5 2121.6h0M1208.4 300.8h0M448.4 2328.2h0M1164.3 511.5h0M1168.8 578.7h0M1177.2 312h0M646.9 2199.6h0M1303.5 409.9h0M1465.7 862.6h0M1365 560.5h0M438.8 2329.4h0M1599.9 1961.4h0M1466.4 947.8h0M468.4 2339.2h0M346.6 2314.1h0M1238.1 309.6h0M1880.5 1857.1h0M539.4 2100h0M450.9 2081.9h0M1260.1 790.4h0M1372.2 1023.7h0M1700.5 2117.6h0M1173.9 488.6h0M1269.6 326.7h0M1248.2 309.7h0M372.9 2125.6h0M1752.9 1730.3h0M1167.3 505.6h0M1340.1 968.5h0M1628.1 1780.6h0M1304.9 439h0M1149.3 449h0M1498.3 1095.3h0M1405 636.1h0M1780.6 1797.5h0M1360.7 1010.4h0M1649.7 1838.6h0M317.8 2172.3h0M408.5 2133.1h0M1169.3 610.5h0M545.8 2116.9h0M528.7 2329.3h0M1929.4 1946.8h0M1528.9 1086.9h0M469.4 2355.3h0M1270.7 841.5h0M1693.8 1729.4h0M1414.2 610.4h0M1640.5 1755.7h0M631.4 2149h0M384.1 2336.4h0M1515.2 1059.2h0M1721.9 2155.9h0M1246 791.6h0M1466 1103h0M1231.2 311h0M1644.3 1821.9h0M1411.4 1033h0M1385.8 551.7h0M1726.6 2153.6h0M1646.7 1851.2h0M510.3 2323.4h0M1526.1 1077.6h0M1159.6 555.2h0M1631.9 2100.1h0M1491.4 884.2h0M1313.8 455.2h0M1602.1 1950.8h0M1447.4 738.7h0M1274.7 329.9h0M1182.3 516.8h0M1708.5 1689.8h0M1949.3 2130.1h0M1486.6 1001.9h0M1999.3 2019.6h0M1894.6 1885.1h0M370.6 2126.8h0M1420.3 692h0M1264.3 825.4h0M309.6 2184.2h0M1453 875.9h0M1754.6 1747.4h0M1259.8 325.1h0M1161.7 617.8h0M1369.4 559.4h0M1401.9 674.2h0M1477.6 1093.5h0M1446.5 808.6h0M1352.6 528.7h0M1256.2 705.8h0M1792.4 2164.3h0M1711.2 1722.8h0M1951.9 2131.9h0M1218.8 310h0M1412 704.5h0M424.7 2086.1h0M1630 1788.1h0M1721.6 1740.9h0M1899.5 1905.9h0M1390.2 1014.7h0M1984.6 2033.1h0M1515.3 1102.7h0M1638.5 1740.7h0M1485.5 883.8h0M1704.6 1723.6h0M1146.8 397.9h0M1219.6 698h0M379.6 2131.9h0M1798.5 2158.8h0M328.4 2160.4h0M1344.7 497.9h0M1426.9 1075.9h0M1782.6 1778.9h0M1184 308.2h0M1330.3 965.3h0M641.5 2225.8h0M1132.9 384.6h0M1824.1 1820.4h0M546.7 2135.9h0M1975.1 1989.9h0M555.8 2318.8h0M1959.6 2131h0M1171.7 516.4h0M364 2310.5h0M672 2208.6h0M1613.8 1936.7h0M1774 1788.1h0M1645.9 1759.1h0M363.4 2302.5h0M1166.9 584.2h0M1282.3 366.8h0M1354.4 474.7h0M1207.1 660.7h0M343.5 2311h0M1209.4 633.4h0M1633.3 1769.2h0M1982.6 2041.2h0M1635.3 1768.5h0M1262.9 332.2h0M1491.2 987.9h0M1660.7 1731.4h0M1376.1 1008.3h0M498.2 2333.1h0M1419.3 1032.4h0M1724.7 1733h0M1981.3 2028.2h0M1625.2 1993.2h0M1891.7 1873.6h0M1446.2 868.4h0M542.4 2117.5h0M1358.8 1001.8h0M1748.8 1743.5h0M1326.7 466h0M1237.9 688.5h0M624.8 2253.1h0M1281.5 841.5h0M1879.5 1874.6h0M1877.9 1858.3h0M1801.4 2166.8h0M299.5 2212.5h0M1998.9 2054h0M1610.4 1966.8h0M1334.5 480.3h0M1375.1 1023.7h0M1469.6 876.1h0M1605 1986.5h0M1369.6 993.8h0M333.6 2301h0M308.7 2254.3h0M1862.7 1860.7h0M1500.8 1039.3h0M1624.4 2004.4h0M333.5 2283.3h0M1367.1 969.2h0M1772.4 2150.2h0M1956.6 1958.4h0M1394.6 1052.2h0M629.6 2151.6h0M1235.9 692.8h0M1407.9 1023.5h0M1156.6 452h0M1344.5 511.4h0M1816.1 1812.4h0M1754.5 1757.5h0M1632 1816.1h0M620.5 2268.3h0M1877.3 2166.4h0M1725.9 2158.9h0M1438.2 742.3h0M1663.6 1747.7h0M1457.6 787.3h0M1785.7 2148.5h0M303.5 2217.9h0M1253.3 831.9h0M561.7 2317.7h0M1408.4 1052.3h0M1805.7 1815.6h0M1644.1 1762.1h0M562.7 2318h0M1723.5 1717.1h0M1975.7 1948.3h0M1166.6 498.4h0M627.8 2262h0M1166 325.7h0M327 2158.1h0M1414.5 1051.9h0M1899.3 2165h0M579.8 2147.2h0M1776.2 1766.8h0M486.6 2345.9h0M318.8 2206h0M1170.6 320.8h0M353.6 2293.8h0M584.7 2138.5h0M1467.9 831.7h0M403.3 2138.6h0M1148.9 357.6h0M1162.9 609.1h0M1449.2 1084.4h0M1977.6 2081.2h0M477.1 2353.7h0M431.5 2112.2h0M1240 294h0M1428.7 722.9h0M579.7 2308.5h0M1272.2 328.7h0M1310.2 931h0M358.5 2145.4h0M1536.5 1114h0M1901.1 1902.7h0M1686.1 2124.3h0M1250.2 689.7h0M1220.6 735.3h0M634.5 2150.8h0M1475.1 1014.4h0M1369.4 986.8h0M511.9 2332.8h0M1480.4 1027.9h0M1651.8 1742.5h0M560.9 2312.1h0M1286.3 835.7h0M592.7 2278h0M1424.9 718.6h0M1827.4 1833.4h0M421.9 2332.3h0M1245.3 297h0M1449.1 807.8h0M1233.3 797.4h0M1978.9 2078.2h0M435.9 2339.3h0M1260.8 804.9h0M610.5 2275.9h0M451.3 2350.3h0M1770.8 1779.7h0M1811.9 2169.5h0M1198.9 684h0M667 2196.2h0M1286.7 364.9h0M1878.9 2156.6h0M441.8 2336.4h0M1837.7 1832.2h0M1404.1 599.8h0M1389.5 593.8h0M1810.1 1832.2h0M1630.7 1933.5h0M348.1 2138.7h0M1403.5 1051.2h0M422.2 2104.6h0M1271 794.4h0M1473.2 998.6h0M1281.7 337.7h0M1336.4 501.8h0M1200.3 643.8h0M1158.9 591h0M1157.5 562.2h0M314.7 2239h0M1910.7 2157.3h0M1165.9 556h0M1481.9 1010.4h0M504.3 2091.6h0M1765 1759.9h0M1986.4 2070.5h0M1406.1 1015.6h0M635.2 2241.1h0M414.5 2129.1h0M1919.4 1917.5h0M1511.8 1044.3h0M1448.7 760.3h0M1513.3 1097.3h0M1335.4 475.1h0M1703.5 1746.9h0M1228.4 728.6h0M1767.6 1782.5h0M1238.1 751h0M1171.3 548.9h0M1421 645.6h0M1679.1 2121h0M1211.1 683.7h0M1627 2016.5h0M1403.7 1083.7h0M1179.4 535.9h0M338.6 2296.2h0M1364.2 566.8h0M394.2 2123.3h0M1465.7 888.6h0M1156.4 608.2h0M1407 1026.4h0M621.6 2249.8h0M1263.1 786.4h0M1926.1 1913.9h0M1997.4 2040.5h0M681.7 2215.6h0M1830 1851.8h0M657.1 2187.6h0M1256.5 337.9h0M1465.9 870.7h0M1472.5 896.1h0M1898.3 1870.8h0M1359.4 1016.8h0M562.4 2308.2h0M1261.5 294.9h0M1373.9 1010.6h0M657.2 2184h0M335.4 2290.3h0M1652.3 1913.2h0M1694 2132.4h0M1987.4 2027.9h0M1161.7 329.5h0M299 2183.2h0M1421.5 1075h0M1675 2100.2h0M1698.1 2157.2h0M665.5 2223.6h0M1264 832.4h0M1258.9 319.2h0M1308.1 420.7h0M1915.8 2157.6h0M485.3 2090.5h0M1197.9 677.3h0M301.9 2224.6h0M1239.2 780.2h0M1416.6 1068.6h0M1896.6 2164.3h0M1317.4 934.7h0M1629.5 1792.1h0M1637.7 1824.2h0M1285.9 343.4h0M1297.5 354.8h0M1925.6 2145.1h0M602.5 2263h0M1622.5 1936.1h0M1319.9 440.6h0M1658.3 2031.9h0M1989.2 2037.7h0M1320.3 486.2h0M327.2 2255.6h0M1491.8 994.3h0M1232.9 780.5h0M1988.5 2088.6h0M1738.5 1745.8h0M592.9 2296.9h0M1381 1004.8h0M1938.2 1934.7h0M460 2331.2h0M1244.4 312.2h0M503.7 2085.6h0M1173.6 526.9h0M1622.1 2013.5h0M1241.1 735.3h0M1660.4 2107.8h0M1684.7 2152.5h0M1468.8 953.4h0M1159.3 596.5h0M1406.9 588.8h0M1673.5 1740.4h0M513.4 2082.3h0M1703.5 2156h0M1243.9 719.2h0M306.3 2187.9h0M1856.1 1836.5h0M1409.2 1012.2h0M1423.2 657.2h0M1746.4 1738.9h0M1431.9 1080.7h0M660.3 2225.3h0M1156.3 585.4h0M1393.8 1062.3h0M1438.8 790.5h0M1773 1788.4h0M650.4 2196.7h0M1828.2 2158.3h0M1639.2 1749.8h0M1789 2165.8h0M1894.5 1886.7h0M1867.4 2165.7h0M635.7 2178.7h0M389.8 2321h0M1469.5 953h0M1467.2 842.2h0M1687.5 1750.2h0M1340.6 472.8h0M1448.7 838.2h0M1668.5 1734h0M1224.7 695.4h0M1599 1982.8h0M1998.6 2077.5h0M397.8 2121.9h0M1609.2 1925.4h0M1178.6 306h0M464.5 2099.9h0M1406.3 1024.6h0M1699.7 2164.8h0M1473.8 888.7h0M1885.7 1865.1h0M1231.2 308.9h0M1817.6 2146.3h0M1493.4 975.4h0M1667.4 1748.1h0M1288.5 853.4h0M1637.1 1863.8h0M1170.2 528.1h0M1271 851.8h0M1493.2 1021.9h0M658.9 2189.2h0M1439.8 773.1h0M1604.8 1991.4h0M338.2 2154.9h0M1214.4 303.6h0M347.4 2299.9h0M1208.8 305.9h0M1942.6 2126.8h0M341.5 2159h0M1440.6 1085.1h0M1386.5 590.7h0M1202.3 645.8h0M1225.7 697.7h0M1950.6 2132.5h0M1481.6 965.5h0M1719.6 1689.5h0M1927.2 1917.3h0M1921.5 2152.2h0M1330.6 485h0M1785.2 1801.3h0M338 2269h0M1645.5 2089.6h0M1315.6 473.9h0M1515.4 1062.6h0M1487.1 1092.3h0M1913.1 2158.9h0M1351.8 530.7h0M1659.9 2038.7h0M1643 2042.8h0M668.1 2191.4h0M1690.4 1740.5h0M1320.8 454.7h0M1717.4 2143.7h0M1342.9 527.1h0M354.1 2156.3h0M1980.2 2019.8h0M1410.8 666.2h0M1138.1 353.4h0M1920.2 2142.6h0M1210.9 655.5h0M1482.6 977.6h0M1140.1 406h0M1440.1 728.3h0M1287.6 841.5h0M1634 1917.3h0M404.7 2326.3h0M634.1 2152.7h0M1773.1 2154.2h0M457.2 2100h0M1733.6 2166.5h0M1229.7 762.6h0M1954.9 2129.2h0M1965.3 2113.5h0M532.3 2095.7h0M1160.4 532h0M1703.5 2129.1h0M1707.7 2154.7h0M1713.7 1672.2h0M1410.5 621.2h0M343.7 2136h0M1382.8 1081h0M397.8 2335.7h0M1772.6 2152.5h0M1423.6 1091.5h0M1883.4 2160.5h0M1473.1 910.1h0M1904.3 2144h0M612.6 2265.9h0M1145.7 446.8h0M1151.5 326.6h0M1359 1010.1h0M1372 986.4h0M1627 1807.2h0M1184.1 506.9h0M1331.3 964.2h0M1158.8 297.6h0M1250.3 729.3h0M1318.9 893.2h0M1409 1086.4h0M631.7 2183.7h0M534.1 2332.4h0M1162.6 338.7h0M1479.7 873.4h0M1519.8 1068.5h0M541.1 2111.1h0M1198.1 302.7h0M1787 1779.2h0M1742 1741.8h0M1895.5 2161.1h0M1646.4 1927.2h0M311.3 2194.5h0M1884.9 1864.1h0M1223.6 308.1h0M1647.1 1924.5h0M1164.8 544.3h0M1316.6 441.9h0M1972.6 1949.4h0M1661.3 2037.7h0M317.7 2207.7h0M1157.7 492.6h0M1489.5 1115h0M654.1 2193.1h0M1305.5 907.9h0M491.4 2336.9h0M1180.4 512.5h0M547.7 2121.9h0M1411.5 1086.4h0M1813.9 2169.4h0M1770.6 1761.6h0M1346.6 487.1h0M1642.6 2070.6h0M1496.9 1036.9h0M1681.7 1736.6h0M1307.7 436.2h0M1397 1011.7h0M1985.4 1972.4h0M1927.2 2151.2h0M668.6 2190.4h0M1180 299.6h0M1655.3 2102.3h0M1940 1943.8h0M1350 1021.7h0M1223.1 316.1h0M510.3 2334.3h0M1440.1 725.4h0M1729.1 1726.1h0M1591.1 1962.3h0M385.1 2133.6h0M1349.5 484.8h0M1375 981.6h0M1976.1 1995h0M1464.2 872.2h0M617.9 2274.9h0M1336.8 1016h0M598 2268h0M1698.5 2145.9h0M1303.1 950.3h0M1155.5 304.6h0M1863.9 1867.3h0M579.4 2301.7h0M1208.4 693.3h0M1155.6 384.2h0M1539.3 1098h0M1466.1 923.2h0M1757.6 2160.3h0M1204.5 692.7h0M469.2 2099.2h0M459.2 2344.7h0M1810.6 2168h0M658.3 2183.5h0M1145.2 478h0M377.7 2305.6h0M1150.2 478.8h0M328.8 2169.1h0M1265.1 822.9h0M1622.5 1943.8h0M1485.9 878.8h0M448.2 2342.2h0M628.7 2149.6h0M1498.9 1108.7h0M1207.3 307.6h0M1429.6 1099h0M355 2310.5h0M1897.5 1904.7h0M299.5 2191.4h0M466.2 2346.2h0M393.5 2338.4h0M1489.5 1099.7h0M428.2 2343.3h0M1474.8 909.3h0M1321.4 449.9h0M1150 393.4h0M1160.2 492h0M1360.9 543.9h0M558.5 2119.6h0M641.6 2177.7h0M509.8 2345.9h0M1357.6 472.1h0M1262.7 808.4h0M666.5 2197.8h0M1203.9 624.7h0M1170.6 298h0M331 2149.7h0M652.1 2192.6h0M1285.3 839.4h0M1428.8 729.3h0M1670.9 2123.6h0M1411.9 697.6h0M680.6 2206.6h0M365.9 2130h0M1491.1 990.2h0M1302.9 451h0M1448.2 818.3h0M1254.5 317.2h0M631.2 2239.2h0M1506.8 1094.1h0M1380.6 1060.9h0M1313.2 462.4h0M1643 1828.1h0M1437.4 725.6h0M1315.2 866.9h0M1627.6 1994h0M1869.5 1839.6h0M555.7 2127.6h0M563.6 2320.6h0M666.3 2190.7h0M1448.7 750.6h0M1675.3 1742.4h0M1159.3 564h0M1245.5 736.9h0M557.5 2321h0M1761.6 1743h0M379.6 2308h0M1772.4 1781h0M1656.9 2082.4h0M1470.2 971.1h0M1634.1 1827.2h0M1462.8 834.3h0M1710.9 1706.9h0M1409 1075.3h0M331.8 2296.7h0M1637.2 1932.8h0M1256.6 849.1h0M317.4 2202.3h0M1741.5 2163.2h0M525.2 2094h0M1520.7 1107.3h0M1702.3 1737.6h0M1981.7 2014.4h0M421 2114.2h0M1348.2 483.8h0M1266.4 306.1h0M431.8 2336.1h0M1360.9 1015.3h0M415.8 2350.4h0M1372.5 543.3h0M1304.8 846.4h0M355.1 2304.9h0M1317.8 893.3h0M1635.4 1928.4h0M1453.2 882.8h0M408.8 2127.8h0M1169.2 595.4h0M1924.7 1911.1h0M552.8 2309.3h0M1945 2134.3h0M1764.9 2153.4h0M1646.3 1750.1h0M625.4 2264.1h0M1787 1803.6h0M1959.8 2121.4h0M1460.9 862.5h0M1328.5 477.5h0M1515.9 1099.5h0M1303.4 855.3h0M1465.5 852.6h0M603.4 2265.9h0M1744 1720.4h0M1239.1 316.4h0M1912.9 1922h0M1967.3 1961.6h0M1936.2 1956h0M1476 996.6h0M1480.6 923.8h0M1412.7 644.2h0M1482.1 1018.7h0M511.2 2088.8h0M1416.6 669.8h0M1444.2 824.4h0M1212.9 644.1h0M485.5 2361.4h0M456.9 2348.2h0M1533.7 1072.2h0M642.5 2193.4h0M1169.2 549.7h0M1521.4 1064.7h0M1245.9 710.1h0M1304.9 842h0M1706.5 1729h0M438.3 2081.1h0M1157.2 608.3h0M322.6 2265.1h0M1150.9 408.5h0M1789.3 1778h0M1968.6 2116.8h0M448.9 2095.6h0M1523.5 1063h0M431.4 2350h0M1729.2 2157.8h0M1318.6 453.7h0M1610.5 1936.4h0M1779.8 2148.7h0M1142.5 332h0M1905.4 1891.3h0M1947.1 2142.5h0M1682.4 2154h0M1876.3 1865.9h0M1352.2 473.5h0M1421.4 646h0M445.1 2349.6h0M1337.9 956h0M432.2 2097.8h0M1251.6 716.7h0M396.5 2136.2h0M409.5 2338h0M1874.9 2165h0M1889 2168.5h0M1971.1 1966.3h0M1327.8 945.4h0M1445.7 783.3h0M1482 954.1h0M587.6 2303.2h0M1370.4 571.3h0M1981 1974h0M1762.7 1772.8h0M1197 636.7h0M664.7 2198.2h0M1328.1 472.7h0M1391.4 1062.4h0M1306.9 451.9h0M1192.2 318.7h0M1196 688.3h0M357 2309.7h0M1982.2 2035.5h0M1159.3 576.2h0M1293.8 392.2h0M1159.6 481.6h0M1814.9 2172.2h0M1887.1 2172.7h0M1632.4 1929.8h0M1229.3 697.1h0M1400.9 1031.8h0M661 2183h0M1867.2 2156.1h0M1971.2 2093.3h0M1485.8 1000.7h0M562.2 2315.7h0M1344.4 469.9h0M1198.8 314.1h0M1319.6 463.2h0M1867.9 2155h0M390.7 2314.8h0M1484.2 941.4h0M1461 1094.4h0M1399.8 585.5h0M1759.9 1774h0M1490.8 963.9h0M1634.4 1822.1h0M1752.8 1746.9h0M455.4 2345.4h0M1295.6 851h0M1648.1 1845.8h0M1200.8 640.7h0M1381.8 577.6h0M553.8 2328.6h0M1306.9 476.9h0M576.1 2143.6h0M1708 1682.4h0M1621 1991.4h0M1480.6 1097.3h0M1401.9 1030h0M1708.3 1706.8h0M1713.2 2159.2h0M1477.3 1099.2h0M1155.7 399.9h0M1210.2 296.9h0M1769.9 2152.4h0M1258.4 845.9h0M538.3 2108.7h0M1465.9 902.6h0M1305.3 845.5h0M1163.6 304.5h0M1235.2 697h0M1672.8 1732h0M1625.7 1766.3h0M609.3 2284h0M1637.6 1735.2h0M1419.1 643.5h0M1306.4 369.3h0M364.2 2314.4h0M1140.7 370h0M336.5 2282.3h0M1683.2 2120.7h0M1489.2 974.2h0M1988.6 1973.5h0M1698.1 1744h0M1896 1880.3h0M459.8 2336.8h0M1819.3 1841.9h0M1228.4 743.6h0M1443.7 796.1h0M1922.2 1923.9h0M607.3 2281.7h0M1490.5 872.3h0M1537.9 1097.6h0M1600.1 1987.3h0M1691.2 2111.9h0M376.6 2139.2h0M1323.4 909.1h0M1348 493.5h0M1666.4 2115.3h0M1726.8 1724.8h0M582.9 2135.7h0M1168.9 433.8h0M1493.4 1023.7h0M411.2 2350.1h0M658 2225.4h0M589.3 2275.4h0M1658.7 2048h0M330.7 2261.4h0M1170 535.5h0M1908.8 1899.2h0M352.7 2297.9h0M330.2 2249.9h0M1202.3 634.4h0M646.7 2175.2h0M1540.4 1107.7h0M1798.3 2160.1h0M1145.8 420.7h0M1291.2 853.4h0M372.2 2126.5h0M1394.9 579.7h0M1498.8 1035.6h0M1177.4 606.3h0M1155.1 379.7h0M1627.3 2023h0M1374.4 544.9h0M1366.6 971.4h0M1485.1 867.7h0M1442.6 758.2h0M1678.7 1742.8h0M1767.2 2160.9h0M387.6 2137h0M618.2 2277.6h0M512.5 2084.2h0M1682.1 2128.1h0M1137.9 398h0M535 2321.4h0M1307.6 917.6h0M1495.6 1040.7h0M1983.2 2033h0M1227.7 677h0M1841.9 2162h0M1232.3 771.8h0M1352.7 958.1h0M1638.5 2004.2h0M1825.7 1838.3h0M1171.6 612.6h0M1486.6 1014.9h0M1624.1 1924.7h0M298.5 2217.1h0M1619.9 2013.3h0M1801.6 2156.3h0M648.1 2188.8h0M1451.1 1084.7h0M1438 712.2h0M1695.1 2168.3h0M1616.1 2006h0M1621.1 1917.2h0M1139 387h0M1683.6 1749.1h0M1145 373.4h0M1266.3 320.8h0M1609.8 1979.2h0M1300 369.3h0M1200.2 681.2h0M537.2 2112.7h0M1299.4 888.9h0M607.8 2256.5h0M1719.5 1687.5h0M648 2175.4h0M1449.4 847.2h0M1300.9 862.8h0M1344.7 967.8h0M1165.4 476.8h0M1654.2 1897h0M1524.7 1110.7h0M1249.6 756.5h0M1456.5 800h0M1190.6 678.9h0M1283 848.3h0M1305.5 368.4h0M1623.7 1939.2h0M640.6 2253.5h0M1921.8 2157.6h0M469.7 2330.3h0M1888.9 2169.4h0M1185.6 621.3h0M1474.9 1002.7h0M1627.6 1775.9h0M1697.9 2115.4h0M1729.3 2141.3h0M1653.2 1746.3h0M1606.1 1958.8h0M1301.4 382.9h0M319 2167.3h0M1136 387.9h0M1420 721h0M1154.9 431.6h0M1970 2088.1h0M599.5 2304.6h0M1657.8 2102.6h0M1608.2 1945.9h0M2001.5 2082.6h0M1318 913h0M1644 1779h0M1622.6 1917.5h0M1186.6 309.5h0M1895.9 2171.8h0M1191 656.4h0M1643.3 1857.8h0M1134.3 381.3h0M1164.9 469.6h0M1990.3 2057.2h0M452 2091.2h0M1149.2 459.7h0M1242 710.4h0M331.1 2267h0M339 2148.9h0M1153.9 380.7h0M1714.5 1704.3h0M1159.4 543.5h0M394.2 2132.4h0M640.9 2161.5h0M1313.5 864.5h0M1478.5 1029.9h0M1160.6 567.7h0M1471.9 1002.8h0M358.7 2137.8h0M1151.4 408.6h0M497.3 2326.9h0M656.8 2244.5h0M1239.6 762h0M342.3 2275.6h0M1290.9 354.5h0M1372.1 560.2h0M1913.1 1927.4h0M671.1 2190.7h0M450.2 2346h0M671.1 2220h0M1446.8 1098h0M598.4 2270.8h0M1639.8 1737.3h0M335 2274.9h0M374.7 2304.9h0M1680.7 2139.8h0M311.6 2196.7h0M1401.6 676.1h0M1175.2 317.7h0M610.9 2249.2h0M1641.2 2037.3h0M1311.6 403.9h0M444.2 2088h0M1631.5 2026.1h0M1888.5 1888.4h0M389.4 2131.9h0M1261 313.3h0M1639.5 1774.4h0M1372.5 978.7h0M534.5 2320.1h0M528.6 2110.1h0M1481.3 975.8h0M339.3 2277.2h0M649.2 2196h0M1431.6 698.2h0M628.7 2257.1h0M1893.1 2158.6h0M581.6 2123.3h0M1310.2 378.8h0M1649.6 1882.5h0M318.1 2180.3h0M1309.6 939.1h0M1708.6 1713.9h0M1132.4 381.5h0M636.4 2174.1h0M641.5 2172.1h0M1180.9 509.9h0M506.9 2321.9h0M1918.2 1899.6h0M528.7 2317.4h0M421.7 2348.6h0M1620.1 1925h0M1957.9 1951.9h0M1992.7 2032.5h0M1446.8 867.9h0M1244.8 782.7h0M575 2136.3h0M1422.3 1072.5h0M1152.3 471.8h0M1162 619.4h0M1911.8 2163.3h0M1485.8 1108.3h0M1164.3 598.2h0M1302.5 467.3h0M1668.9 2116.1h0M1876.9 1882.2h0M1406.2 1056.7h0M510.7 2338.1h0M1406.6 1039.4h0M1848.6 1836.4h0M1960.5 2107.1h0M1861.1 1848.8h0M1461.1 937.8h0M1421.3 1069.7h0M1163.4 621.5h0M1312.3 469.3h0M1267.2 829.8h0M1411 653.9h0M630.8 2168.3h0M1476.2 900.8h0M1398.4 1048.2h0M1135.5 396.9h0M1196.9 616.5h0M317.5 2192.7h0M1750.3 2144h0M1436.5 787.1h0M1311.3 902.3h0M2002.5 2025h0M1840.2 2152h0M1649.9 1734h0M1831.7 2149h0M1386.1 598.8h0M1891.5 1878.7h0M1426.4 1083.9h0M1151.3 421.6h0M613.6 2265.3h0M1603.3 1988h0M1602.9 1984.9h0M1957.7 2109.6h0M1908.3 2145.1h0M1147.9 313.8h0M1269.3 336.9h0M1358.6 525.1h0M1895.3 2156.2h0M1649.8 1754.8h0M1463.6 855.4h0M1960.9 2121.4h0M1228.1 313.7h0M1687.9 1730.9h0M1779.8 2157.4h0M1310.5 891.6h0M1135.5 363.9h0M576.7 2313.8h0M1638.6 2042.1h0M479.1 2355.2h0M1639.6 2112.9h0M543.9 2126.6h0M1372.3 586.6h0M1904.2 2172.5h0M469.5 2086.9h0M434.9 2100h0M1807.8 2168.6h0M1160.6 545.4h0M313.9 2169.8h0M1649.1 2050.3h0M1631.3 2033.2h0M551.2 2119.7h0M1482.4 1096.2h0M1614.3 1946.8h0M389.1 2336.9h0M1473.6 1015.5h0M1162.2 454h0M1178.8 308.6h0M1467.5 956.6h0M1294.4 377h0M1437.2 762.3h0M554.1 2316.8h0M1437.6 716.8h0M342.9 2138.6h0M1683.7 2146.2h0M1486.1 969.7h0M1695.9 2148.2h0M1454.8 822.4h0M586.6 2110.9h0M1644.9 1793.8h0M1169.8 301.7h0M1615.8 1989.8h0M1663.3 1736.6h0M1413.1 627.2h0M1994.9 1997.2h0M1398.4 644.2h0M1520.2 1081.4h0M1940.1 2151.7h0M1989.2 2083.1h0M593.5 2268.5h0M1239.4 299h0M645.9 2215.9h0M1452.6 821.1h0M1974.7 2091.2h0M1644.6 1741.1h0M1792.7 2170.2h0M1176.9 621.8h0M1221.6 738.1h0M386.2 2139.4h0M1267.7 803.5h0M1663.9 2113.6h0M662.3 2227.2h0M378.1 2319.8h0M1442.9 787.8h0M589.9 2308.8h0M1636.5 2028.4h0M503.6 2100.9h0M1296.2 359h0M1651.7 1741.1h0M588 2114.1h0M1461.9 817.3h0M1479.8 1094.7h0M1392.2 606.3h0M1239.2 779.1h0M1161.3 434.7h0M1149.5 429.5h0M388.5 2323.6h0M1467.6 1097.1h0M1665.1 2072.3h0M1336.7 943.8h0M1519.5 1061.9h0M1246.7 692.8h0M1434.6 714.9h0M1653.3 2070.2h0M1259.6 776.6h0M328.6 2284.2h0M298.7 2227.7h0M631.5 2153.6h0M1776.3 1775.4h0M1819 1816.1h0M1360.5 968.6h0M1887.5 1870.5h0M1511.1 1072.8h0M1635.1 1885.4h0M1274.4 354.2h0M314.9 2161.8h0M1480 991h0M1992.1 1982.2h0M1490.2 873.5h0M1206.1 653h0M1462 877.9h0M1267.1 791.3h0M618.2 2255.1h0M1520.6 1071.4h0M1905.3 1876.5h0M1253.5 717h0M1787.1 1798.4h0M1188.7 622.8h0M1378.4 1016h0M1402.9 657h0M424.3 2330.6h0M1454.5 794.3h0M495.6 2345.2h0M369.8 2121h0M1234 728.3h0M1757.8 1739.9h0M1302.9 369.4h0M1325.9 910.4h0M1140.5 376.2h0M664.6 2190.3h0M587.9 2302.3h0M1382.9 594.6h0M1422.4 1086.7h0M1215.2 673.5h0M1716.4 1712.2h0M1302 906.1h0M1657.8 1889h0M1352.3 505.2h0M1481.1 942.5h0M1698.9 2137.4h0M1646.9 1751.3h0M1638.8 1911h0M1660.2 1735.7h0M1234 733.5h0M1630.5 1808.8h0M1600.6 1945.7h0M459.1 2350.2h0M1304.6 848.5h0M1893.9 1870.9h0M563.8 2311.8h0M1812.3 2149.6h0M1879.5 2160.7h0M1169.3 303.4h0M1648.2 2035.8h0M328 2166.8h0M1301.8 416.1h0M1332.8 473.2h0M1400.7 1068.1h0M1412.3 683.6h0M1325 478.6h0M592.2 2271h0M680.8 2205.3h0M1374.5 981.7h0M1168.7 559.2h0M1457.5 1097h0M1994.3 2090.6h0M1175.4 601h0M1252.9 295.4h0M1901 2157.5h0M1172.5 558.3h0M1251.1 696.8h0M331.3 2285.8h0M335.6 2293.9h0M669.3 2198.3h0M1192.7 687.5h0M382.9 2319.4h0M1626.8 1806.3h0M1602.3 1987.6h0M321.6 2157.2h0M1195.1 615.1h0M1307.4 904.4h0M1350.4 1007.5h0M1160.3 601.2h0M666.2 2204.5h0M1210.9 299.9h0M1169.9 299.3h0M1391.3 1078.2h0M1969.9 1976.7h0M491.9 2337.1h0M508 2349.4h0M1266.1 782.5h0M1752.6 1756h0M1484.4 908.7h0M1491.7 1108.7h0M1255.5 700.6h0M1621.8 1930.2h0M1792 2178.7h0M1228.2 770.8h0M478.4 2098.9h0M1140.7 380.3h0M1808.1 1804h0M1369.1 1013.4h0M1988.7 2091h0M1669.7 2114.5h0M1632.6 2074.6h0M1388.1 568.6h0M1637.1 1799.2h0M1394.9 1101.3h0M1331.7 939.3h0M612.2 2160.4h0M1189.6 631.9h0M1396.6 618.1h0M1748 1724.5h0M1664.1 2103.3h0M1481.1 986.1h0M1651.8 1898.5h0M1450.4 866.6h0M1311.8 435h0M1317.9 857.7h0M1916.6 1901.6h0M1272.8 841.6h0M1384.9 1023.3h0M1148.2 388.6h0M1150.7 308h0M1346.9 470.6h0M1807.8 1793.7h0M1387.6 1005.7h0M1242.1 742.3h0M1298.6 410.2h0M1343.3 523h0M1237 716h0M1903.1 2148.1h0M1649.7 1893.6h0M1980.1 2009.5h0M1996.6 2075.1h0M1456.8 1104.2h0M1825.1 2155.8h0M1843.4 1855.1h0M1148.7 457.2h0M1401.5 1074.1h0M329.7 2279.6h0M1947.3 1950.1h0M1144.7 427.3h0M1251.9 839.9h0M1449.1 872.1h0M1432 739h0M1638 1799h0M308.3 2221.8h0M1653.6 1869.7h0M1180.3 613.3h0M1387.2 1066h0M1311.5 901.1h0M1641.6 2026.2h0M457.2 2338.3h0M617.1 2263.4h0M2002.8 2076.1h0M344.7 2301h0M1749.2 1731.3h0M1290.4 363.8h0M1485 909.4h0M1645.4 2081.3h0M663.2 2222.2h0M1364.6 544.9h0M1684.9 2155.4h0M1472.1 886.3h0M1336.7 491.4h0M1768.4 1779.2h0M1863.9 1851.7h0M1270.4 839.5h0M1941.1 1946.5h0M490.9 2090.6h0M1450.7 754.3h0M1476.5 880.7h0M1322.5 441.3h0M1446.2 869.3h0M1321.4 477.6h0M303.2 2218.8h0M1464.2 949.6h0M1449.7 727.7h0M1408.8 1010.7h0M1151.1 359.4h0M1341.1 972h0M1606.3 1960.6h0M1159.9 478.7h0M674.9 2214.5h0M1489.8 964.6h0M1456.3 862.4h0M1806.7 2174.1h0M1860.7 1859.5h0M1368.4 993.1h0M1151.6 312h0M1788.2 2158h0M1627 1838.9h0M1916.5 1918.3h0M1330.1 472.9h0M1205.2 307.7h0M1494.5 887.2h0M1174.1 298.2h0M1966.1 1959h0M1162.2 419.9h0M1172.3 509.5h0M1764.2 1776.6h0M1733.3 1742h0M1350.1 1017.4h0M1914.1 2156.1h0M1257.4 798.6h0M1497.2 1111.6h0M1305.7 839.7h0M1734 1736h0M303.3 2232.6h0M1460.9 884.8h0M1987.8 2087.9h0M1279.5 839.4h0M1828.4 2154.7h0M1633.4 1854.1h0M373.9 2324.1h0M1912.9 1900.8h0M1299.5 895h0M1310.2 450.3h0M1938.1 1930.2h0M1749.4 2139.1h0M1642.7 1795.4h0M1309.4 452.4h0M1168.3 321.8h0M1403.2 1052.7h0M1668.1 1744.7h0M1165.4 574.2h0M1698.8 2165.1h0M1657.8 2115.3h0M547.2 2127.1h0M1154.9 566.1h0M1968.8 2092.2h0M1349.6 478.5h0M1316.7 877.4h0M635.5 2169.4h0M371.6 2145.7h0M425.3 2344.9h0M1976 1952.6h0M1389.7 590.9h0M1840.7 2158.8h0M395 2329.5h0M1174.9 547.6h0M1329.7 923.1h0M440.1 2342.1h0M1803.2 1811.7h0M1305.7 428.1h0M1983.9 1989.7h0M1914.9 1897.5h0M1384.6 1134.2h0M551.4 2126.7h0M1813 1822.8h0M1636.2 1858.8h0M1636.9 2033.2h0M1612.9 1935.9h0M1153.8 359h0M1535.9 1103.9h0M1168.1 619.9h0M1349.8 511.2h0M658.2 2232.4h0M458.6 2086.7h0M1493.5 969.4h0M1237.3 751.1h0M1935.4 1942.2h0M1361.1 536.3h0M1443.5 810h0M1509.5 1068.7h0M1743.1 1751.7h0M1638.4 1779.2h0M327.8 2154.3h0M1162.2 494.8h0M1647.9 1890.1h0M1654.7 1891.6h0M1179.8 546.3h0M1639.7 2024.9h0M316.2 2217.8h0M1774.4 1765.8h0M1381.3 554.8h0M621.2 2157.6h0M1839.6 2152.2h0M633 2180.5h0M313.9 2176.7h0M296.9 2222.7h0M353.4 2313.9h0M1699.7 1745.5h0M1274.6 832.2h0M1325.5 418.5h0M1634.9 1877.3h0M1231.4 792.2h0M1654.9 2070.4h0M1987.9 2039.1h0M605.8 2266.7h0M640 2252.3h0M1988.3 2060.6h0M337.3 2289.6h0M1242.8 737.6h0M650.2 2201.7h0M1868.9 1850.8h0M369.7 2319.4h0M1358.1 528.7h0M1402.3 1019.1h0M1788.1 1784.5h0M1155.1 462.5h0M1160.5 298h0M1919.2 2161.7h0M1838.5 2175.1h0M1183.1 315.3h0M1701.1 1735.7h0M1640.4 2091.6h0M1488.1 979.2h0M1348.6 958h0M1982.4 2004.3h0M1682.9 2109.3h0M1140.9 372h0M1317.2 949.2h0M1937.2 2138.5h0M1160.1 574.2h0M1379.4 996.1h0M1983.1 2090.1h0M471.4 2336.6h0M1478.4 916.6h0M1182.5 625.7h0M1398.1 633.2h0M1291.7 354.2h0M1650.8 2039.8h0M358.7 2139.5h0M1312.5 880.4h0M1763.1 1756.4h0M1742.3 2159.6h0M1890.4 1877.2h0M1160 426.5h0M1493.2 976h0M1174.6 588.9h0M1367.7 982h0M1944.8 1937.1h0M1639.4 1791.9h0M1448.3 825.5h0M1300.5 873.7h0M1383.4 571.9h0M1347 535.6h0M1671.4 2058.7h0M1516.2 1075.7h0M655.7 2246.1h0M1314.8 418.8h0M1717.7 2158.1h0M1988.2 1980.3h0M1911.8 1880.8h0M1155 337.6h0M1949 1940.4h0M1377.8 984.9h0M1439.7 787.7h0M1150 361.4h0M1487.2 870h0M1252.7 319.6h0M1845.8 2158.2h0M1645.3 2077.7h0M1161.6 547.8h0M1706.4 2158.7h0M1611 1948.4h0M1240.5 689.2h0M1937.9 1932.7h0M2000 2051.9h0M1972.2 1978.9h0M1162.7 474.1h0M1644.1 1831.1h0M1150.7 390.1h0M535.3 2316.2h0M1320.1 430.3h0M1418.2 707.9h0M1889.9 1885.1h0M1830.2 1828.9h0M379.3 2123.3h0M1515.8 1056.4h0M1300.8 875.8h0M1288.1 366.6h0M650.3 2252.7h0M1907.5 1888.4h0M1306.9 460.9h0M1643.8 2019.9h0M1464.2 886.3h0M650.9 2244.5h0M322.1 2243h0M1168.4 309.4h0M1345.7 467h0M1323.6 930.5h0M1737.2 1729.1h0M1816.1 2156h0M1491.1 1014.4h0M351.6 2155.5h0M1245.6 716.1h0M1890.9 1888.8h0M1387.9 1012.6h0M459.4 2337.7h0M1656.9 2060.1h0M1648.1 1920.1h0M488.1 2341.7h0M619 2257.8h0M1646.6 2051.6h0M528.4 2326.2h0M1744 2144.8h0M1993 2012.5h0M589.1 2272.1h0M1443.8 764.4h0M1313.3 867.7h0M1886.1 1877.3h0M1420.5 703.4h0M1494.5 1034.6h0M1640.2 2069.7h0M1266.3 797.5h0M1683.8 2142.3h0M1358 982.4h0M1260.7 302.9h0M1455.9 817h0M1332.2 954h0M1610.3 1988.4h0M1486.7 889.6h0M1424.7 1073.7h0M1304.6 944.3h0M1625.7 2013.5h0M1480.3 979.4h0M338.4 2286.4h0M606.7 2263.8h0M1926.1 1941h0M327.1 2292.7h0M1877.9 1866.5h0M1473.5 883.4h0M333.4 2169.9h0M638 2250.4h0M1476 1097.2h0M593.8 2160.1h0M1479.9 1023.3h0M436.1 2097.6h0M1314.8 384.6h0M460.4 2338h0M1151.5 322.3h0M509.3 2099.4h0M337.8 2299.3h0M1608.6 2000.5h0M1813.7 1814.9h0M552.4 2321.9h0M1478.2 981.2h0M1772.5 1787h0M499.5 2341.6h0M1257.2 854.2h0M1836.3 2166.8h0M1439.9 722h0M1277.4 819h0M1910.7 2147.5h0M1991.5 1980.1h0M1475.3 924.4h0M1645.1 1852.5h0M1339 497.6h0M1174.8 585.4h0M1388.7 1147.9h0M1631.4 1757.1h0M313.3 2174.6h0M1258.8 819.2h0M1423 676h0M400.9 2131.6h0M1639 1771.8h0M1407.9 673.9h0M1700.8 2152.2h0M1669.5 1738.5h0M1480.1 957.9h0M1938.3 1922.1h0M1303.3 374.1h0M1776.2 2144h0M462.3 2348.1h0M1260.1 812.7h0M299.1 2211.9h0M1151.4 378.3h0M377.1 2316.6h0M1813.6 1799.3h0M1361.2 990.1h0M1695.2 2153.5h0M408 2131.1h0M420.7 2334.4h0M1353 977.3h0M1891.6 2153.2h0M1724.6 1694.2h0M1310.3 376h0M1399 1025.7h0M1771.3 2152.7h0M1705.6 2124.2h0M1680.2 2115.9h0M1388 1140.1h0M1458.6 1104.4h0M512.3 2318.8h0M652.1 2248.7h0M1841.1 2172.2h0M1410 593.1h0M1378 976.8h0M643.9 2226.9h0M1163.1 482.8h0M1229.3 758.2h0M1680.8 2119.1h0M1485.4 966.7h0M1680.6 1744.8h0M1834.8 2149.7h0M1404 1077.5h0M1172.4 622.6h0M545.6 2329.4h0M520.9 2330.2h0M1249.2 706.6h0M501 2341.2h0M1238.7 745.8h0M1632.3 1781.9h0M1975.6 2103.5h0M1210.1 312.5h0M1313.5 914h0M1161.6 431.7h0M1899.8 1869.9h0M1323.2 447.2h0M1941.8 1960.3h0M1533.2 1106h0M1153.5 565.5h0M1481.2 911.9h0M1182.1 515.3h0M550.2 2309.4h0M1160.9 406.9h0M330.1 2289.3h0M1646 1804.6h0M1335.6 509.7h0M1482.5 1091.2h0M1772.3 2151.9h0M1921.3 1902.7h0M1306.7 469.8h0M1986.5 2101.4h0M1177.8 309.3h0M1402.9 1050.6h0M496.3 2086.1h0M1713.5 1699.3h0M1809.2 1836.1h0M1652.1 2113.9h0M1709 1682.7h0M1453.3 827h0M435.8 2080.4h0M1368.9 570.5h0M1694.5 2134.2h0M1808.7 2175.4h0M1937 2130.4h0M1192 621.2h0M1937.5 2135.6h0M1489.7 1005.1h0M1632 1848.3h0M480.8 2362.5h0M1794.7 2148.1h0M410.4 2112.3h0M1493.2 965h0M1411.3 705.7h0M1986 2031.6h0M1156.7 366.1h0M1144.8 420.7h0M1949.7 2143.9h0M1394.6 622.2h0M1851.6 1837.4h0M1152.3 359.8h0M503 2343.7h0M1196 298.3h0M1166.1 594.4h0M345.2 2306.7h0M1457.4 1083.7h0M511.2 2094.1h0M1349.2 1012.6h0M1979.5 2094.9h0M1910.1 2152.9h0M1964.8 1961.9h0M1159 448.7h0M1197.1 305.9h0M1411.1 596.4h0M1416.3 676.1h0M1488.5 955.6h0M1988.1 2044.1h0M1177 514.3h0M1411.9 1053.2h0M1880.5 2166.5h0M1160.4 456.9h0M1800.4 2169.3h0M1310 917.1h0M1337.7 501.6h0M1476.6 869.5h0M1685.4 2141.2h0M1710.6 2164.4h0M1159.6 397.7h0M1920.6 2158.5h0M1890.1 2164.4h0M1157.4 317.3h0M319.4 2189.4h0M404.6 2334.7h0M516.7 2330.7h0M1166 523.9h0M1316.8 951.2h0M1387.9 1162.8h0M1969.2 2127.1h0M1709.1 1743.8h0M433.1 2347.8h0M1364.4 525.5h0M1139.3 331.7h0M1862 2173.6h0M1317.4 400.5h0M1743.5 2149.5h0M1639.3 1780.7h0M611.5 2266.3h0M364.5 2134.7h0M514.7 2335.5h0M1320 925.1h0M1345.5 951.3h0M1258 848.9h0M1936.5 2132h0M585.8 2133.4h0M1424.6 691.8h0M1434.2 794.6h0M469.1 2353.8h0M666.7 2205.3h0M1307.6 938.6h0M1981.5 2005.5h0M434.2 2089h0M1800.8 1799.6h0M307.2 2251.1h0M621.9 2266h0M1476.6 903h0M1429.3 704.5h0M480.2 2342.1h0M1155.7 416.9h0M1344.2 1014.4h0M1469.9 957.1h0M1444.3 727h0M1632 2035.3h0M1152.1 434.4h0M517.4 2102.9h0M316.2 2236.4h0M1820.2 1831.7h0M1172.1 481.5h0M466.5 2331.9h0M650.8 2193.4h0M1633 1931.7h0M1618.3 1949.8h0M1367.3 1014.2h0M1713.5 1679h0M1315.9 395.9h0M1457.7 1102.1h0M604.4 2156.8h0M1655.2 1882.7h0M1363.9 978.5h0M1376.4 980.1h0M1169.8 588.3h0M502.1 2098.3h0M1513.3 1048.1h0M328.9 2151h0M1406.4 1086.9h0M1377.4 995.4h0M1694.1 2153.9h0M586 2303.2h0M1176.6 303.5h0M364.8 2145.7h0M1198.4 623h0M1781.6 1800.5h0M1404.7 623.3h0M1978.2 1955.8h0M300.3 2207.9h0M1975.1 1977.3h0M1168.8 516.1h0M1630.2 1770.8h0M1207.5 678.8h0M1326.9 957.5h0M1411.1 668.7h0M552.3 2126.8h0M1161.1 500.5h0M1719.3 1671h0M1978.1 2079.5h0M312.1 2219h0M315.9 2218.1h0M592.1 2158h0M1381.2 1910.7h0M1295.1 1935.1h0M1315.4 1947.2h0M1242.8 2034.5h0M1359.2 1985.9h0M1297.7 1980.2h0M1356.2 2006h0M1273.2 1873h0M1349.4 1980.9h0M1229.8 1950h0M1257.2 1888.5h0M1281.5 1912.7h0M1335.2 2003.6h0M1388.2 1887.2h0M1289.2 2026h0M1270.7 1939.3h0M1270.8 1862.6h0M1258.5 1954h0M1398.6 1936.3h0M1308.5 2031.4h0M1216.2 1929.7h0M1197.7 1935.7h0M1257.6 1981.8h0M1319.1 2017.1h0M1318 2029.9h0M1222 2019.4h0M1392.1 1893.4h0M1249.6 1890.5h0M1301.6 1910h0M1274.7 1973h0M1246 1885.8h0M1399.3 1966.1h0M1263.9 1862.2h0M1240.3 1920.2h0M1257.9 1937.9h0M1374.6 1963.7h0M1385.4 1863.5h0M1304.2 1880.9h0M1267.9 2024.5h0M1209.6 1895.5h0M1203.9 1912.3h0M1315 2013.2h0M1202.9 1998.7h0M1374 2015.1h0M1258.2 1950.7h0M1316.8 1924.7h0M1248.9 1875.6h0M1364.6 1925.6h0M1276.9 2026.5h0M1352.3 1954.4h0M1330.4 2019.8h0M1383 1976.9h0M1283.3 1903.4h0M1220.8 1985.3h0M1285.5 1908.3h0M1247.1 1900.2h0M1301.9 2030.9h0M1347 1875.5h0M1256 1935.4h0M1246.2 1961.4h0M1241.3 1882h0M1383.1 1868.4h0M1271.7 1966.6h0M1280.7 2016.4h0M1346.2 1999.1h0M1301.1 1945h0M1281.2 1996.7h0M1309.3 1996.6h0M1256.2 2014h0M1360.4 1975.3h0M1378.7 1924.7h0M1351.5 1984h0M1338.8 1935.7h0M1394.3 1891h0M1212.8 1878.3h0M1318 2003.4h0M1298.1 1978.5h0M1326.1 1928.9h0M1327.6 2003.6h0M1344.9 1965h0M1365.9 2000.3h0M1250.4 1871.3h0M1291.3 1886.9h0M1241.6 1920.1h0M1382.3 1865.2h0M1344.8 1907.2h0M1229.8 1871.6h0M1327.3 1886.8h0M1315.8 1862.2h0M1228.5 1911.9h0M1260 1992h0M1260.5 1995.8h0M1348.5 1997.8h0M1209.5 2007h0M1223.3 1990.3h0M1369.2 2028h0M1346.7 1964.2h0M1348.4 1947.8h0M1300.1 1986.9h0M1287.9 1910.1h0M1305.5 2005.6h0M1290.8 1896.3h0M1230 1891.5h0M1378.2 1989.5h0M1213.7 1980.9h0M1242.3 1913.3h0M1265.8 1894.7h0M1253.7 1894.4h0M1209.5 1979.7h0M1318.1 1897.4h0M1201.6 1960.9h0M1241.3 1946h0M1234.5 1866.4h0M1241.1 1996.5h0M1351.6 1873.6h0M1248.3 1860.1h0M1239 1932h0M1362.3 1995.6h0M1331.6 2006.3h0M1349.3 1901.1h0M1379.6 1861.1h0M1317.5 1970.4h0M1259.2 1983.7h0M1205.9 1920.6h0M1309.7 2010.9h0M1299.3 1960.9h0M1226.3 1927.5h0M1272.7 1985.7h0M1310.9 1870.1h0M1295.5 1904.6h0M1239.4 2028.6h0M1290.9 2037.9h0M1285.4 1964.9h0M1286.7 1899.3h0M1233.1 1986.6h0M1273.3 1906.9h0M1238 1992.4h0M1341.6 1887.3h0M1281.2 1905.5h0M1346 1933.9h0M1372.7 1925.7h0M1249.3 1977.2h0M1365.8 1892.5h0M1298.6 1908.8h0M1365.3 1920.3h0M1270.6 1879.3h0M1233.5 1973.4h0M1369.8 1956.8h0M1399.3 1906.5h0M1302.8 2018.7h0M1267.9 1896.9h0M1232.7 1994.8h0M1378.2 1950.4h0M1313.5 1970.1h0M1327.5 2007.4h0M1199.1 1973.9h0M1239.6 1913.6h0M1326.2 1906.4h0M1298.3 1947.8h0M1363.1 1953.5h0M1235.8 1858.7h0M1339.2 1855.4h0M1390.3 1926.5h0M1222.4 2026h0M1386.4 1997.6h0M1261.6 1967.2h0M1220.1 1995.3h0M1375.1 1986.4h0M1385.7 1903.3h0M1239.6 1967.5h0M1303.3 1984.7h0M1248.8 1867h0M1388.5 1863.3h0M1223.5 1987.8h0M1293.7 1974.5h0M1280.1 2030.8h0M1223.6 1973.3h0M1325.5 1973.6h0M1320.2 2017h0M1306.8 1855.3h0M1203.3 1910h0M1269.4 1993.3h0M1222.8 1921.2h0M1267.1 1952.5h0M1398 1910.8h0M1380.9 1987.6h0M1228 1993.6h0M1283.3 2014.1h0M1208.4 1890.4h0M1263.5 1992.3h0M1300.6 2011.5h0M1224.2 1941.4h0M1394.4 1923.3h0M1392.5 1889h0M1269.2 1941.4h0M1355.7 1998.1h0M1338.8 1959.7h0M1387 1904.5h0M1340.2 2021.8h0M1229.2 1982.3h0M1249.3 1877.7h0M1204 1928.3h0M1259.7 1989.8h0M1398.3 1980.7h0M1345.4 1862.4h0M1387.3 1987.8h0M1369.3 2018.6h0M1265.7 1996.9h0M1246.5 1924.3h0M1319.8 1968h0M1239 1941.1h0M1194.3 1959.9h0M1385.2 2030.9h0M1315.7 2023.7h0M1363 1940.5h0M1349.9 1885.1h0M1319.3 2026.8h0M1340.6 1939.7h0M1236.2 1895.5h0M1260.3 1878.1h0M1226.8 1931.3h0M1234.1 1979.6h0M1352.5 1945.1h0M1223.7 1911.8h0M1351.9 1966.6h0M1334.6 1928.5h0M1216.2 1941.7h0M1238.8 1904.2h0M1267.6 1895.3h0M1383 2024.4h0M1236 2009.9h0M1317.7 1942h0M1228 1903.4h0M1208.5 1967.8h0M1371.7 1940.4h0M1375.1 1855.9h0M1295.1 2013.1h0M1359.3 1894.2h0M1283 1966.1h0M1264.8 1961.6h0M1257.7 1983.2h0M1366 2028.2h0M1309 1965h0M1232 1926.6h0M1379.5 2002.5h0M1385.4 1945.4h0M1351.2 1896.2h0M1296.8 2005.1h0M1269.7 1940.4h0M1230.8 1962.3h0M1237 2020.6h0M1274.4 2022.1h0M1299.3 2026.1h0M1386.8 2030.9h0M1316 2001.9h0M1186.1 1923.5h0M1260.1 1874.7h0M1213 2003.1h0M1335.5 1977.1h0M1262 2008.8h0M1299.8 1873h0M1319.5 1974.7h0M1339.7 2004.8h0M1329.9 2027.6h0M1348.5 1903.2h0M1262 1965.2h0M1375.4 1958h0M1198.9 1955.4h0M1235.1 1873.2h0M1373.3 2006.3h0M1386.1 1935.6h0M1335.3 1939.7h0M1387.1 2002.9h0M1358.7 1886.4h0M1314.5 1991.6h0M1261 1974.8h0M1324.5 1877.3h0M1269.7 1949.3h0M1249.4 1962.1h0M1356.5 1919.2h0M1385.4 1950.1h0M1364.2 1874.2h0M1272 2021.7h0M1241.1 1912.1h0M1289 1984.6h0M1256.8 1931.6h0M1215 1902.5h0M1311.6 1895.2h0M1285.8 1903.1h0M1201.3 1977.9h0M1301.3 1971.3h0M1329.4 1861.2h0M1280.5 2014h0M1291.1 1996.6h0M1201.3 1947h0M1198.4 1928h0M1385.2 1881.9h0M1326.4 1970.7h0M1274.7 1986.5h0M1384.8 1888.9h0M1188.2 1907.6h0M1233 1974.6h0M1271.5 1989.4h0M1219.4 1878.4h0M1266.2 1880.2h0M1378.2 1872.3h0M1277.2 1874.8h0M1400.3 1981.7h0M1305.9 1935.9h0M1312.7 1967.9h0M1321.6 1949h0M1373.2 1918.9h0M1244.7 1986.6h0M1201.4 1886.6h0M1318 1912.7h0M1337.5 1968.9h0M1300.8 1907.2h0M1264.8 1866.1h0M1379.9 2009.2h0M1207 1989.4h0M1353.3 1874.2h0M1211.8 1937.1h0M1290.1 1989.9h0M1330.6 1884.6h0M1272.8 2025.6h0M1378.4 1997.5h0M1291.9 1864h0M1322.4 1879.7h0M1281.1 1911.5h0M1377.1 1948.3h0M1277.7 1943.7h0M1264.3 2002.4h0M1227.2 1895.1h0M1266.9 1891.9h0M1232 1929.2h0M1237.1 1859.8h0M1354.6 1916.8h0M1274.4 1928h0M1289.6 1977.8h0M1252.3 1894.2h0M1233.7 1968.7h0M1299.9 1927.4h0M1265.2 1959.3h0M1361.2 1848.2h0M1293.2 1966.9h0M1265.9 1926.7h0M1261 1914.9h0M1231.9 1994.2h0M1390.4 2006.3h0M1227.5 1934.5h0M1302.7 1875.6h0M1294 1961.7h0M1395.3 2035.6h0M1259.4 1987.7h0M1292.5 1886.8h0M1252.6 1917.6h0M1270.3 1877.3h0M1220 1993.1h0M1317 1871.2h0M1324 1999.1h0M1250.8 1926.3h0M1305.7 1996.1h0M1202 1893.9h0M1190.5 1901.8h0M1362 2006.2h0M1223.4 1924.1h0M1329.1 2007.4h0M1193.5 1914.8h0M1299.8 2017.7h0M1309.2 1997.2h0M1312.2 1926.3h0M1207.6 1949.6h0M1215.4 1967.9h0M1223.4 1991.3h0M1337.3 1904.6h0M1323.7 1863.8h0M1342.6 2024.1h0M1371.9 1873.8h0M1298.1 1972.1h0M1237.7 1903.3h0M1331.8 1881.8h0M1229.2 1993.6h0M1334.9 2026.1h0M1210.3 1891.7h0M1371.6 1984.4h0M1255.8 1881.1h0M1320.8 1985h0M1389.5 2026.9h0M1217.3 1894.5h0M1336.4 1871.6h0M1304.3 1979h0M1285.9 2032h0M1217 2010.5h0M1398.7 1882.4h0M1298.1 1919.8h0M1249.5 1992.3h0M1204.1 1925.8h0M1256.2 2006.3h0M1372.9 1944.6h0M1279.9 1870h0M1332 1875.2h0M1342.7 1897.6h0M1296 1871h0M1343 1910.1h0M1197.6 1928.7h0M1229 2020h0M1372.4 1874.2h0M1265.6 2025.6h0M1283.6 1998.6h0M1233.4 1982.1h0M1266.1 1959.1h0M1388 1949.7h0M1348.3 1926.9h0M1235.1 2027.6h0M1369.7 2007.4h0M1394.9 1926.7h0M1309.8 2026.1h0M1289.5 1959.4h0M1257 1907.9h0M1331.9 1877.4h0M1339.6 1861.5h0M1263.7 1922.8h0M1359.7 1931h0M1206.2 1901.9h0M1227.7 1904.3h0M1276.1 1885h0M1335.6 1897.7h0M1395.4 1962.6h0M1235.3 1936.5h0M1389 1885.1h0M1297 1909.8h0M1339.9 1991h0M1216.7 1996h0M1302.2 1892.1h0M1220.8 1904.1h0M1280 2001.8h0M1210.8 1878.1h0M1388.2 1942.4h0M1235.5 1979.1h0M1386.3 1946.7h0M1308.9 1869.6h0M1397.3 1887.9h0M1227.4 2006.1h0M1335.8 1906.6h0M1366 1971.3h0M1241.3 1894.8h0M1195.2 1915.3h0M1313.4 1887.1h0M1213.9 1892.3h0M1193.1 1888.1h0M1242.5 1880.7h0M1343.4 1885.2h0M1327.5 1878.7h0M1274.4 1988.4h0M1377.8 1916.7h0M1362.7 1993.3h0M1234.4 2022.9h0M1227.9 1932.9h0M1329.4 1878.8h0M1225.7 1974.8h0M1305.8 1969.7h0M1331.9 1976.1h0M1364 1911.1h0M1348.3 1965.3h0M1367.3 1857.4h0M1353.7 1903.6h0M1280.4 1903.4h0M1386.5 1863.9h0M1271 1965.7h0M1308.2 2000.4h0M1226.2 1996.6h0M1241.7 1863.3h0M1370.4 1953h0M1354.6 1857.1h0M1281.3 2002.3h0M1217.8 1877.6h0M1301.7 1993.1h0M1330.4 1857.7h0M1379 1922.2h0M1303.2 2035.9h0M1201.6 1900.3h0M1342.3 1874h0M1355.9 1904.1h0M1283.1 1966.5h0M1287.5 1866.2h0M1275.3 2006.1h0M1375.4 1879.4h0M1391.1 1881.5h0M1329.8 1930.8h0M1226.4 1902.4h0M1241.1 1892.4h0M1257.6 1948.7h0M1384.7 1906.5h0M1287.3 1922.8h0M1286.9 2004.4h0M1381.3 1923.2h0M1317.1 1905.8h0M1328 1923.2h0M1350.4 1860.2h0M1265.5 2029.9h0M1398.7 2006.5h0M1239 1900h0M1287.4 1965.6h0M1269.6 1866h0M1288.1 1933.1h0M1251 1895.3h0M1384.3 2002.1h0M1234.1 1962.1h0M1277.6 1916.3h0M1239.8 2013h0M1316.9 1885.9h0M1236 1859h0M1338.3 1882.9h0M1398.3 1945h0M1262.8 1918.8h0M1196.5 1869.4h0M1247.1 1849.2h0M1234 1960.9h0M1367.1 1923.3h0M1268.4 2042.7h0M1155.6 1978h0M1282.8 1840.7h0M1172.6 1999.7h0M1208.3 2036.5h0M1213.3 1983h0M1379.8 2037.8h0M1221.7 1962.9h0M1166.9 1864.1h0M1314 2000.8h0M1299.7 2032.5h0M1332.2 1886.4h0M1382.3 2044.9h0M1266.2 1947.6h0M1174.8 2030.3h0M1230.6 1992.7h0M1176.8 1870.2h0M1398.4 1852.9h0M1313.2 1925.4h0M1399.3 2043.7h0M1236.3 2044.6h0M1296.3 2060.7h0M1356.8 1996.5h0M1387.1 1854.6h0M1315.4 1890.5h0M1302.2 2028.8h0M1378.7 1942.2h0M1224.5 2017.5h0M1338.1 1868.1h0M1174.6 1970.9h0M1192.8 2046.7h0M1311 2035.5h0M1378.1 1972.9h0M1185.5 1866.4h0M1282.6 1983.6h0M1238.4 1938.1h0M1379.2 1878.5h0M1318.3 1896.3h0M1245.9 1931.8h0M1341.5 1899h0M1198.8 1967h0M1341.1 1968.4h0M1214.4 2060h0M1244.7 1973.8h0M1116.9 2035.4h0M1264.8 1976.3h0M1164 1991h0M1329 1992.3h0M1272.2 1902.4h0M1307.6 2007.7h0M1259.6 1879.7h0M1250.5 1946.8h0M1331.2 2032.8h0M1197.9 1923.5h0M1220.7 1930.5h0M1292.9 1862.3h0M1365.2 1900.8h0M1341.9 2043.7h0M1395.1 1868.3h0M1127.7 2057.2h0M1235.8 2004.6h0M1331.8 1858.5h0M1291.6 2028.7h0M1259.6 1855.2h0M1244.8 1921.7h0M1277.3 1928h0M1381 1873.5h0M1276.9 1989.6h0M1177.7 1921.1h0M1293.9 1836.8h0M1211.9 1964.8h0M1343.5 1976.1h0M1364 1966.6h0M1387.7 1896.3h0M1236.2 1983.7h0M1310.9 2027.4h0M1173.3 1968.9h0M1187.5 1957.5h0M1318.3 1985.5h0M1391.1 1971.3h0M1305.6 1925.3h0M1342.7 1868h0M1309.5 2012.9h0M1309.4 1835.6h0M1316.6 2041.8h0M1236.8 1922h0M1330.1 1911h0M1349.1 1887h0M1369.9 1935.4h0M1137.9 2027.2h0M1373 2009.2h0M1366.7 1887.2h0M1322.1 1911.9h0M1276.3 2047h0M1262.2 2056.2h0M1197.1 1847.3h0M1313.4 1949.3h0M1366.1 1875.6h0M1328.4 2039.7h0M1291.7 1868.1h0M1181.2 1845.4h0M1187.7 1931.7h0M1292.9 2058.3h0M1302.4 1957h0M1158.4 2000.7h0M1389 1958h0M1356.6 2026.3h0M1292.3 2034.7h0M1286.6 1983.1h0M1180.8 1863.3h0M1170 1961.9h0M1267.6 2035.7h0M1336.7 1973.5h0M1212.3 1896.9h0M1309.7 1908.4h0M1400 1905h0M1264.9 2035.8h0M1399 2052.1h0M1274.9 1840.1h0M1364.9 2013.4h0M1151.9 2006.5h0M1305.9 1961.6h0M1264.2 2027.4h0M1233.5 1905.8h0M1192 1891.9h0M1228.6 2023.9h0M1312.6 2014.5h0M1385.8 1922.9h0M1179.9 1856.8h0M1263.5 1915.9h0M1313.9 1975.6h0M1393.3 2009.2h0M1184 2034.5h0M1246.3 2020.3h0M1175.3 1984.2h0M1251.1 1951.4h0M1268.5 2022.9h0M1349.8 1866.8h0M1268.4 1978.5h0M1380.2 1942.8h0M1361.6 1841.8h0M1222 1951.2h0M1329.9 1985h0M1327.6 1982.9h0M1349.1 2012.6h0M1254.5 1934.6h0M1228.6 2053h0M1231 1881.9h0M1166.2 1857.7h0M1268.4 1969.2h0M1208.9 2050.3h0M1370.4 1948h0M1281.7 1999.5h0M1156 1951.5h0M1389.3 1894.9h0M1339.1 1908.1h0M1362.7 2024.4h0M1280.7 1943.5h0M1284.6 2029.3h0M1175.9 1939h0M1201.1 1974.4h0M1164.8 1860.1h0M1242.4 1900h0M1270 1911.3h0M1231.1 2039.1h0M1264.2 1865.4h0M1263.8 2054h0M1380.4 2051.2h0M1263.1 2001.9h0M1190.1 2028.1h0M1324.6 1860.7h0M1183 2023.9h0M1249.5 1862.5h0M1353.3 1983h0M1397.3 1946.9h0M1179.3 2042.8h0M1113.6 2049.5h0M1239.6 1931.7h0M1265.6 1925.3h0M1373.1 1911.8h0M1339.3 2003.9h0M1142.6 2033.6h0M1212.4 2002.8h0M1177 1880.9h0M1265.2 1924.2h0M1348.2 1863.4h0M1330 1979.2h0M1202.7 1857.7h0M1204.5 1977.9h0M1384.5 1904.7h0M1364 2006.3h0M1286.1 2037.5h0M1368.6 2055.1h0M1322 1970.8h0M1394.5 1939.5h0M1309.9 1904.8h0M1167.5 2046.2h0M1386.2 1962.5h0M1302.8 1945.4h0M1365.6 1894.4h0M1302.8 2038.7h0M1153 1975.3h0M1339.1 1848.3h0M1227.8 1901.1h0M1244.4 1855.2h0M1289.6 1871.8h0M1345 1996.5h0M1165.4 1849.3h0M1134.6 2057h0M1244 1990h0M1148.4 1969.6h0M1273.7 1979.3h0M1245.7 2020.7h0M1157.7 1954.4h0M1368.3 1867.6h0M1326 1963.4h0M1114.3 2051h0M1381.7 1858.6h0M1319.9 1906.8h0M1373.5 1978.3h0M1266.2 1949h0M1279.5 2050.8h0M1184.5 1953.5h0M1242 2055.8h0M1287.8 1953.6h0M1386 1956.1h0M1168.8 1921.5h0M1289.2 2046.7h0M1400.6 2034h0M1179.5 1871.8h0M1347.7 1937.9h0M1154.5 2053.7h0M1282.6 1926.6h0M1334.2 1936.1h0M1273 2023.2h0M1396.2 2024.1h0M1227.7 1954.5h0M1345.4 2029.6h0M1352.4 1958.4h0M1194.8 1910.5h0M1393.1 2027.4h0M1290.4 1968.5h0M1246 2027.7h0M1259.8 1888.4h0M1275.7 1845.7h0M1392.1 2026.7h0M1262.5 1926.8h0M1273.6 1968.2h0M1312.7 1917.2h0M1294.6 1891.4h0M1163.2 1989.7h0M1326.2 2041.9h0M1274.7 1843.4h0M1396.7 1866.8h0M1262.6 2042h0M1204.9 1953.2h0M1384.8 1969.9h0M1201.6 2031.4h0M1382.4 1887.1h0M1288.7 1921.8h0M1196.6 2021.9h0M1348.5 1971.4h0M1177.9 2054.3h0M1279.6 2004.1h0M1179.9 1927.1h0M1264.9 1997.6h0M1165.4 1978.3h0M1232.8 2027.1h0M1337.9 1903.5h0M1373.9 1999.9h0M1398.7 2053.3h0M1321.5 2046.9h0M1174.9 2047.6h0M1257.8 2043.5h0M1316.9 2041.1h0M1195.3 2049.9h0M1267.4 2022.4h0M1263.2 2024.5h0M1273.1 2032.2h0M1277.7 2034.3h0M1275 2024.3h0M1176.3 2058.4h0M1356.3 2057.3h0M1340.3 2039.6h0M1362.8 2025.6h0M1211.9 2054.9h0M1236.1 2048h0M1384.3 2060.1h0M1171.9 2054.1h0M1308.3 2036.6h0M1277.4 2043.1h0M1385.2 2029.4h0M1327.3 2027h0M1392.9 2034.8h0M1366.5 2054.9h0M1264.7 2052.4h0M1293.5 2055.3h0M1227.4 2036.4h0M1332.3 2037.7h0M1191.3 2042.8h0M1226 2058.8h0M1277.3 2037.6h0M1376.7 2023.1h0M1309.6 2038.3h0M1277.1 2028.5h0M1216.9 2033.4h0M1223.4 2051.2h0M1242.8 2053.4h0M1173.7 2051.9h0M1359.3 2057.5h0M1297.4 2047.2h0M1338.1 2046.8h0M1307.4 2044.6h0M1212.1 2033.5h0M1291.4 2040h0M1370.2 2023h0M1356.9 2033.6h0M1308.1 2055.8h0M1174.5 2052h0M1183.1 2055.7h0M1218.4 2028.9h0M1248.1 2036.7h0M1239.6 2056.7h0M1364.7 2048h0M1290.4 2073h0M1146.2 2077.3h0M1194.5 2064.1h0M1220.1 2097.4h0M1287.4 2079.4h0M1187.1 2098.5h0M1323 2067.5h0M1275.5 2102.4h0M1313.3 2077h0M1211.3 2127.4h0M1214.9 2082.5h0M1243 2126.9h0M1177.3 2062.5h0M1282.8 2110.4h0M1281.7 2097.9h0M1322.9 2093.3h0M1252.1 2121.9h0M1156.4 2104h0M1152.5 2076.1h0M1203.5 2136.1h0M1144.5 2071.7h0M1630.7 1297.9h0M1430.8 1287.1h0M1567.1 1507.1h0M1690.9 1623.1h0M1598.2 1466.1h0M1567.2 1415.7h0M1680.6 1569.2h0M1599.4 1646.2h0M1559.4 1613.4h0M1489.2 1374.9h0M1660.2 1491.8h0M1565.5 1316.1h0M1659.6 1517.7h0M1647.9 1443.2h0M1500.5 1482.1h0M1428 1635.2h0M1661.2 1384.2h0M1614.4 1525.9h0M1604.1 1580.1h0M1510.3 1419.3h0M1474.7 1342.6h0M1419.4 1571.7h0M1462.7 1429.7h0M1592 1495h0M1473.8 1525.4h0M1504 1629.2h0M1621.8 1425.4h0M1566.9 1653.1h0M1445.1 1603.6h0M1513.8 1303.9h0M1479.4 1407.1h0M1547.8 1516.6h0M1665.8 1392h0M1507.4 1449.3h0M1521.1 1559.9h0M1554.2 1383.7h0M1549 1465.3h0M1546.9 1622h0M1539.5 1274.8h0M1553.2 1551.1h0M1651.9 1307.8h0M1475.5 1535h0M1474.4 1275.2h0M1482.2 1610.8h0M1610.1 1375.9h0M1505.3 1379h0M1479.5 1424.5h0M1568.9 1588.8h0M1424.3 1391.4h0M1442.6 1346h0M1508.3 1648.3h0M1440.6 1471.5h0M1457.8 1335.6h0M1669.8 1483.2h0M1470.3 1587.9h0M1499.4 1562.9h0M1523 1329.4h0M1533.1 1391.7h0M1590.3 1348.4h0M1496.7 1459.2h0M1658.5 1483.4h0M1490.8 1507.2h0M1594.9 1617.5h0M1464.3 1383.3h0M1654.5 1568.3h0M1470 1592.5h0M1488.9 1317.5h0M1490.1 1572.5h0M1665.1 1583.2h0M1463.4 1574.2h0M1479.5 1319.5h0M1623.9 1331.9h0M1434.6 1651.3h0M1462.8 1356.3h0M1610.8 1267.7h0M1519 1327.2h0M1561.8 1516.3h0M1463.9 1381h0M1491.8 1636.6h0M1512.2 1392.2h0M1443.2 1626.5h0M1611.1 1388.8h0M1544.7 1432.5h0M1646.9 1388.5h0M1422.5 1332.6h0M1614.8 1471.8h0M1582.6 1497.8h0M1596.8 1288.8h0M1586.5 1595.7h0M1445.2 1468.3h0M1638.9 1451.6h0M1637.5 1510.8h0M1670.6 1547.4h0M1437.2 1275.1h0M1577 1440.4h0M1654.6 1535h0M1595.4 1560.9h0M1622.8 1361.1h0M1657.4 1610.9h0M1538.9 1441.1h0M1487.2 1326.4h0M1521.8 1523.1h0M1477.5 1481.3h0M1460.1 1312h0M1410.1 1496.3h0M1423.7 1408h0M1477 1364.9h0M1586.6 1479.9h0M1619.2 1511.4h0M1580.3 1357.8h0M1570.4 1638.2h0M1566 1452.9h0M1451.2 1552.7h0M1449.3 1506.8h0M1488.1 1428.2h0M1577.6 1493.9h0M1524.6 1309.1h0M1607.1 1481.8h0M1502.7 1574h0M1609 1456.1h0M1432 1286.3h0M1540.6 1307.2h0M1647.1 1310.8h0M1546.2 1311.4h0M1569.1 1465.6h0M1628.4 1279.7h0M1419.4 1360.6h0M1499.4 1357.2h0M1540.6 1270.6h0M1563.1 1366.8h0M1462 1336h0M1506.5 1380.3h0M1506.2 1318.1h0M1574.3 1622.8h0M1446.8 1514.8h0M1511.9 1547.3h0M1623.5 1383.7h0M1427.5 1409.1h0M1600.4 1284.3h0M1661.1 1542.4h0M1559.2 1429.9h0M1479.7 1553.8h0M1471.1 1330.3h0M1582.2 1261.6h0M1659.6 1640.9h0M1493.3 1434.3h0M1584.8 1570.3h0M1508.4 1582.6h0M1492.2 1574h0M1500 1385.1h0M1479.2 1450.6h0M1577.7 1400.4h0M1703.3 1637.9h0M1474.9 1558.9h0M1594.4 1309.5h0M1558.8 1424.8h0M1447.1 1603.5h0M1561.1 1518.9h0M1614.6 1565.1h0M1492 1493.7h0M1659.4 1389.1h0M1499.3 1434.4h0M1646.7 1523.7h0M1593.6 1576.2h0M1528.7 1517.3h0M1471.3 1388.7h0M1581.1 1461.5h0M1632.2 1564h0M1560.2 1453.3h0M1523 1589.6h0M1428.2 1543.1h0M1692.7 1611h0M1461.3 1558.4h0M1484.1 1435.6h0M1543.5 1659h0M1571.5 1587.7h0M1580.7 1381.7h0M1533.8 1371.9h0M1649.6 1580.4h0M1632.9 1617.2h0M1634.7 1436.9h0M1533.6 1410.7h0M1486.4 1652.7h0M1576.5 1436.2h0M1613.9 1600.7h0M1556.4 1510.3h0M1519.9 1315.2h0M1689.2 1586.1h0M1625 1472.9h0M1678.9 1469.3h0M1641.3 1554.3h0M1561.4 1363.3h0M1459.3 1496.9h0M1509.4 1414.8h0M1625.1 1390.9h0M1610.2 1623.3h0M1566.2 1421.9h0M1634.4 1356.6h0M1518.4 1439.6h0M1591.9 1543.3h0M1488.4 1293h0M1485.6 1357.8h0M1525 1596.6h0M1535.5 1633.5h0M1433.1 1347.5h0M1665.7 1354.4h0M1527.1 1484.7h0M1449.3 1527h0M1483.8 1554.1h0M1584 1585.1h0M1484.9 1514.6h0M1585.6 1628.6h0M1491 1540.8h0M1437.6 1532.1h0M1583.2 1403.9h0M1555.5 1602.9h0M1562.3 1380.4h0M1595.1 1609.6h0M1521 1645h0M1435.6 1318.8h0M1521.4 1484.8h0M1565.5 1479.8h0M1707.9 1631.9h0M1565.3 1599.1h0M1492.4 1507.1h0M1576.4 1445.4h0M1486.4 1557.2h0M1490.6 1589.6h0M1537.9 1372.8h0M1505.6 1435.4h0M1559 1554h0M1616.4 1433.9h0M1626.6 1545.3h0M1478.6 1655.9h0M1617.8 1482.9h0M1485.5 1513.5h0M1499.9 1558.3h0M1610.7 1474.1h0M1643.5 1297h0M1559.8 1491.1h0M1673.6 1488.7h0M1532.2 1583.3h0M1519.7 1596.2h0M1536.3 1503.9h0M1532.7 1489.1h0M1664.4 1578.5h0M1660 1294.3h0M1548.8 1462.6h0M1549.7 1598.7h0M1429.3 1412.3h0M1693.5 1620.4h0M1596.6 1401.3h0M1657.4 1589.4h0M1420.4 1567.6h0M1526.7 1456.2h0M1645.7 1433.3h0M1608 1632.7h0M1480.5 1384.7h0M1478.2 1395.7h0M1569.6 1550.6h0M1609.7 1559.4h0M1665.9 1342.5h0M1451.3 1525.6h0M1448 1451.1h0M1572 1550.6h0M1655 1311.4h0M1701.8 1622.6h0M1634.9 1480.4h0M1588.9 1508.7h0M1454.8 1479h0M1634.3 1319.5h0M1521.4 1508.5h0M1437.6 1565.9h0M1593.4 1550.6h0M1526.6 1579.7h0M1455.8 1315.2h0M1471.3 1315.1h0M1695.2 1606.4h0M1513 1354.4h0M1490.7 1290h0M1599.4 1639.6h0M1459.1 1315h0M1477.3 1370.6h0M1411.5 1532.7h0M1589.3 1379.6h0M1427.1 1499.3h0M1464.7 1656.4h0M1632.2 1288.6h0M1500.4 1423.1h0M1525.4 1337.9h0M1537.2 1637.3h0M1592.8 1415.8h0M1529.5 1495.7h0M1573.4 1646.1h0M1415.8 1464.5h0M1590 1392.5h0M1463.6 1334.2h0M1657.9 1308.9h0M1569.7 1409.5h0M1595.7 1524h0M1437.9 1505.8h0M1413.1 1465.9h0M1478.5 1483.8h0M1636.1 1594.1h0M1683.8 1656.3h0M1471.3 1577.6h0M1669 1606.3h0M1452.1 1302.5h0M1690 1618.1h0M1428.2 1494.5h0M1462.9 1361.6h0M1617.2 1626.7h0M1508.4 1525.1h0M1643.9 1364.4h0M1523.6 1422.4h0M1579.5 1625.7h0M1539 1518.8h0M1504.3 1602.4h0M1618.4 1336.9h0M1425.8 1609.3h0M1561.3 1374.6h0M1556.4 1653.8h0M1445.8 1569.9h0M1680.4 1602.3h0M1514.8 1341.8h0M1536.2 1452.4h0M1451 1514.1h0M1426.7 1385.7h0M1476.2 1490.4h0M1618.3 1353.6h0M1647.4 1378.1h0M1450.5 1643.7h0M1418.9 1513.6h0M1496.5 1635.4h0M1467.7 1283.8h0M1609.1 1550.4h0M1622.1 1419.2h0M1445.5 1464.5h0M1431.1 1626.2h0M1428.4 1601.4h0M1487.8 1320.2h0M1613.8 1484.8h0M1644.7 1260.4h0M1487.1 1447.1h0M1519.7 1322.9h0M1496.8 1263.3h0M1629.2 1423.8h0M1425.7 1398.8h0M1457.9 1540.9h0M1608.4 1337.6h0M1562.1 1652.8h0M1431.5 1275.8h0M1517.2 1614.7h0M1478.9 1383.7h0M1560.4 1516.6h0M1590.6 1421.8h0M1477.9 1564.6h0M1624.9 1284.4h0M1607.1 1583.5h0M1625 1581.3h0M1498 1554.2h0M1457.2 1336.4h0M1488.4 1455.4h0M1565.4 1483.2h0M1560.1 1479h0M1462.4 1301.9h0M1517.3 1520.4h0M1566.1 1264.1h0M1502.9 1284.6h0M1427.9 1381.8h0M1420.5 1381.9h0M1533.4 1285.1h0M1422.2 1349.5h0M1615.8 1608.3h0M1424.7 1286.9h0M1526.7 1619.4h0M1478.6 1435.8h0M1503.7 1638.8h0M1443.3 1293.5h0M1437.8 1533.2h0M1572.2 1285.9h0M1486.1 1395.9h0M1462.4 1620.9h0M1417.5 1556.6h0M1428.1 1624.3h0M1521.3 1648.1h0M1438.6 1382.9h0M1585.7 1272.1h0M1649.5 1549.1h0M1430.2 1348h0M1592.7 1464.9h0M1413.4 1519.6h0M1619.2 1536.6h0M1438.3 1633.9h0M1585.6 1560.2h0M1441.3 1483.5h0M1513.5 1429.3h0M1533.8 1394.8h0M1502.7 1660.9h0M1658.3 1325.5h0M1609.6 1474.8h0M1638.7 1296.4h0M1653.2 1344.7h0M1438.3 1313.2h0M1636.3 1564.7h0M1416.4 1509.5h0M1625.3 1525.9h0M1592.2 1424.6h0M1518.3 1453.6h0M1482.5 1422.4h0M1449.1 1361.5h0M1527.5 1402.3h0M1603.6 1660.3h0M1445 1398.6h0M1495.2 1365.6h0M1651.6 1602.3h0M1624.6 1362.6h0M1432.8 1546.5h0M1548.6 1631.6h0M1584 1640h0M1630 1379.7h0M1612.9 1623.8h0M1627.2 1327.6h0M1510.3 1323.6h0M1688.9 1591.1h0M1570.4 1359.9h0M1541.1 1459.6h0M1659.7 1322.2h0M1633.1 1360.8h0M1469.5 1319.2h0M1429 1325.9h0M1443.4 1573h0M1471.8 1520.5h0M1425.9 1367.9h0M1663.9 1636.6h0M1499 1571.6h0M1568 1514.9h0M1672.1 1604.2h0M1533.1 1429.3h0M1546.3 1454.6h0M1549.7 1511.7h0M1607.1 1362.3h0M1663.9 1512.7h0M1533.4 1388.1h0M1580.3 1421.3h0M1536.8 1302.5h0M1540 1341.6h0M1602.2 1531.7h0M1504.3 1414.6h0M1685.7 1645.6h0M1439.7 1413h0M1551.8 1391.4h0M1651.7 1414.4h0M1616.2 1488.9h0M1685.4 1617.9h0M1416.8 1537.7h0M1528.5 1542.8h0M1567.4 1631h0M1618.9 1332.7h0M1518.2 1503.6h0M1657.4 1521.8h0M1551.8 1475.9h0M1596.2 1400.9h0M1613.4 1594.6h0M1446.9 1269.6h0M1613.6 1609.8h0M1431.7 1419.8h0M1446.5 1365.5h0M1592 1284.9h0M1606.3 1606.6h0M1604.8 1376.3h0M1495.6 1304.3h0M1592 1631.2h0M1574.6 1505h0M1558.6 1451.8h0M1633.1 1563.2h0M1485.8 1592.9h0M1580.6 1474.5h0M1559 1468h0M1619 1568.4h0M1515.8 1639.3h0M1606.2 1323.9h0M1651.6 1499.1h0M1552 1458.1h0M1613.9 1639.7h0M1492.4 1596.7h0M1585.8 1543.1h0M1543.1 1644.3h0M1428 1497.8h0M1404.4 1393.6h0M1519.8 1424.2h0M1478.1 1300.2h0M1653 1427.6h0M1556.9 1430.6h0M1647.7 1427h0M1517.6 1568.7h0M1479.7 1508.8h0M1610.4 1279.3h0M1422.7 1407.4h0M1524.3 1516.7h0M1533.1 1418.7h0M1433.3 1605h0M1561.7 1656.8h0M1586 1415h0M1454.6 1382.6h0M1428.2 1431.1h0M1594.2 1540.5h0M1729.2 1637.6h0M1531.7 1528.7h0M1524.5 1344.4h0M1455.5 1654.6h0M1657.3 1303.3h0M1480.7 1492.6h0M1647.8 1646.7h0M1624.1 1448.4h0M1594.1 1413.9h0M1444 1415.2h0M1604.9 1292.4h0M1638.1 1653.9h0M1446.8 1624.3h0M1474.6 1388.4h0M1635 1496h0M1503.9 1603.5h0M1588.8 1366.3h0M1581.1 1333.1h0M1482.4 1619.9h0M1595.7 1595.2h0M1595.3 1338.6h0M1523.3 1626.1h0M1645 1344.1h0M1452.2 1362.4h0M1492.2 1327.6h0M1602.4 1337h0M1527 1474.6h0M1493.7 1539.9h0M1477.1 1561.2h0M1571.6 1302.3h0M1604.8 1386h0M1562.1 1407.4h0M1584.6 1400h0M1557 1541.1h0M1541.2 1617.3h0M1621.4 1278.3h0M1552.2 1543.4h0M1530.2 1604.2h0M1514.6 1617.5h0M1605.6 1609.1h0M1471.5 1527.5h0M1513.7 1409.2h0M1551.4 1394.5h0M1534 1623.7h0M1544.2 1640.2h0M1649.3 1657.6h0M1507.5 1433.3h0M1503.7 1612.1h0M1544.2 1443.5h0M1594.5 1449.2h0M1622.2 1464.4h0M1557.1 1543.9h0M1547.7 1287.2h0M1637.1 1343.5h0M1487.4 1581.9h0M1595.5 1385.4h0M1519.6 1435.7h0M1638.1 1519h0M1624.3 1435.7h0M1504.7 1644.7h0M1631 1380.3h0M1545.3 1476.9h0M1633.4 1325.5h0M1619.1 1428.9h0M1584.6 1387.2h0M1624.2 1390.7h0M1582.5 1458.7h0M1616.4 1459.2h0M1515.4 1417h0M1578.4 1327.3h0M1574.1 1392.2h0M1664.3 1628.3h0M1547 1455.6h0M1546.5 1338.9h0M1636.2 1546.4h0M1493.3 1366.6h0M1604 1602.1h0M1580.6 1283.5h0M1522.1 1590.6h0M1618.1 1472.4h0M1557.8 1457.3h0M1572 1476.9h0M1560.3 1443.3h0M1530.5 1393.8h0M1532.7 1428.7h0M1614.5 1595h0M1603.5 1348.3h0M1618.9 1586.8h0M1523.8 1654.1h0M1517.6 1468.8h0M1618.3 1387.7h0M1496.4 1373.6h0M1518.6 1522.8h0M1610.5 1522.9h0M1682.5 1655.2h0M1583 1476.7h0M1587 1655.4h0M1501.1 1436.2h0M1506.1 1449.2h0M1484.3 1435.1h0M1594.7 1636.7h0M1537.9 1280.6h0M1596.4 1368.5h0M1553.6 1277.5h0M1496.4 1543.6h0M1610.6 1624h0M1477.7 1514.8h0M1534.9 1298.9h0M1579.2 1633.8h0M1594.6 1345.5h0M1486.5 1463.1h0M1552.8 1554.5h0M1581.6 1354.6h0M1537.7 1602.2h0M1619 1475.8h0M1656.4 1598.1h0M1472.3 1508.3h0M1581.8 1368.2h0M1633.4 1348.5h0M1573.6 1547.2h0M1503.7 1527.5h0M1613.4 1292.2h0M1632.7 1455.5h0M1643.6 1587.1h0M1600.3 1434.8h0M1626.5 1304.5h0M1592 1530.3h0M1637.1 1645.4h0M1624 1313.4h0M1539.7 1414.1h0M1555 1317.8h0M1581.8 1472.4h0M1538.1 1624.3h0M1617.4 1319.8h0M1565.1 1345.7h0M1475.7 1533h0M1474.7 1570.8h0M1584.3 1618.4h0M1538 1627.4h0M1562.2 1473.2h0M1556.2 1292.1h0M1627.2 1343.6h0M1626.3 1424h0M1580.7 1425.7h0M1532.2 1619.3h0M1545.4 1303.6h0M1496.5 1468.9h0M1528 1309.3h0M1615 1636.2h0M1559.2 1397.9h0M1517.5 1559.5h0M1605.6 1629.1h0M1604.5 1569.9h0M1524 1310.6h0M1480.3 1529.7h0M1626.9 1525.8h0M1503.5 1316h0M1492.6 1434.9h0M1633.2 1635.3h0M1587.2 1308.3h0M1623.1 1573.5h0M1601.4 1261.6h0M1509.3 1324.4h0M1516.1 1464.8h0M1540.4 1330.8h0M1536.8 1351.9h0M1590.1 1479h0M1559.1 1339.6h0M1476.8 1566h0M1632.7 1291.7h0M1613.1 1335.1h0M1611.7 1308h0M1502.9 1543.2h0M1629.3 1323.6h0M1506.2 1585.1h0M1530.5 1399.8h0M1617.8 1352.8h0M1490.3 1543.1h0M1585.5 1488h0M1598.9 1316.7h0M1550.4 1399.4h0M1485.2 1423.7h0M1607.7 1302.2h0M1607.1 1494.1h0M1509.7 1565.2h0M1602.8 1455.7h0M1603.3 1620.7h0M1549.9 1361.2h0M1487.2 1608.9h0M1643.3 1589.2h0M1637.5 1364.4h0M1519.6 1391.8h0M1609.8 1549.8h0M1527.5 1621.9h0M1492.8 1614.6h0M1560.2 1282.3h0M1518.1 1342.6h0M1560 1466.3h0M1579.4 1429.8h0M1622.4 1329.2h0M1555.2 1300h0M1526.5 1393.9h0M1522.2 1324.4h0M1620.5 1377.3h0M1500.6 1526.6h0M1557.2 1483h0M1501.4 1544.6h0M1544.7 1644.2h0M1565.7 1527.1h0M1514.6 1543.6h0M1581.2 1409.5h0M1581 1367.1h0M1618.7 1291.4h0M1509.8 1501.3h0M1576.2 1507.8h0M1633.2 1523.1h0M1527.2 1415.2h0M1628.5 1327h0M1623.9 1545h0M1619.3 1521.5h0M1639.2 1350.1h0M1485.1 1573.9h0M1624.1 1567.9h0M1553 1564h0M1572 1457.8h0M1553.8 1465.5h0M1570 1544.3h0M1598.4 1332.6h0M1575.4 1317h0M1632.1 1585.4h0M1600.8 1357.1h0M1571.2 1279.9h0M1517.9 1477.6h0M1513 1350.6h0M1644.7 1646.9h0M1546.9 1625.5h0M1540.6 1429.3h0M1541.9 1575.5h0M1518.5 1559.5h0M1652.2 1608.8h0M1561.3 1580.8h0M1522 1616.3h0M1522.1 1541.4h0M1567 1495.4h0M1471.4 1525.6h0M1516.1 1416.4h0M1527.4 1443.2h0M1617.4 1344.3h0M1550 1265.1h0M1578.2 1355.2h0M1652.6 1658h0M1603.7 1606h0M1507.5 1438.9h0M1537.8 1409.3h0M1525.1 1355.5h0M1591.9 1609.6h0M1671.3 1650.9h0M1583 1463.2h0M1590.9 1561h0M1631.2 1621.1h0M1522.6 1266.9h0M1640.8 1534h0M1519.4 1465.4h0M1595.9 1288.3h0M1586.1 1301.8h0M1507.9 1337.9h0M1498.1 1514.4h0M1579.2 1279.5h0M1641.8 1638.7h0M1665.5 1656.6h0M1507 1567.7h0M1496.3 1282.9h0M1686.4 1655.2h0M1605.9 1516.6h0M1468 1626h0M1557.8 1550.7h0M1598.3 1492.8h0M1524.8 1556h0M1678.1 1638.1h0M1490.7 1319.7h0M1518.7 1391.2h0M1537.3 1479.2h0M1569.7 1282.1h0M1507.8 1447.1h0M1585.1 1412h0M1495.2 1528h0M1591.8 1360.1h0M1678.9 1652.3h0M1549.8 1397.9h0M1474.3 1468.7h0M1497.7 1307.4h0M1488.9 1429.1h0M1608.3 1425.1h0M1536.7 1319.5h0M1608.2 1457.5h0M1613.2 1556.8h0M1627.9 1464.4h0M1497.5 1570.6h0M1586.6 1440.2h0M1608.9 1323.4h0M1621.7 1551.9h0M1580.8 1271.9h0M1556.3 1542.4h0M1563.8 1316.6h0M1619.5 1391.9h0M1525.9 1579.9h0M1486.8 1580.5h0M1664.2 1608.1h0M1493.2 1414.9h0M1532.8 1597.1h0M1541.6 1325.2h0M1603.3 1323.2h0M1496.8 1492.4h0M1561.3 1372.3h0M1526.3 1485.2h0M1514.6 1493.6h0M1471.8 1540.8h0M1467.5 1532.9h0M1552.1 1572.9h0M1500.3 1353.2h0M1559.1 1656.3h0M1524.6 1633.9h0M1589.1 1626.2h0M1623.6 1410h0M1500.1 1351h0M1602.4 1334.7h0M1555.5 1324.9h0M1622.7 1280.8h0M1554.5 1642.9h0M1601.4 1333h0M1542.2 1306.8h0M1562 1262.5h0M1507.2 1283.7h0M1609.5 1359.5h0M1575.8 1265.6h0M1586.5 1333.1h0M1595.6 1340.5h0M1592.8 1342.7h0M1576.2 1320.8h0M1616.1 1349.9h0M1530.9 1369.3h0M1593.2 1267.4h0M1505.2 1274.1h0M1528.1 1309h0M1535.4 1322.1h0M1625.1 1269.1h0M1504.2 1337.7h0M1499.4 1300h0M1551.7 1322h0M1525.9 1359.6h0M1606.2 1316.8h0M1586.8 1281.3h0M1618.8 1330.3h0M1624.3 1370.5h0M1504.3 1292.7h0M1587.7 1327.5h0M1613.5 1297.4h0M1550.8 1297.5h0M1514.4 1309.9h0M1559.3 1355.1h0M1585 1304.5h0M1623.7 1321.2h0M1504.1 1291h0M1508.5 1262.2h0M1552.7 1325.6h0M1562.2 1369.6h0M1536.8 1287.8h0M1514.7 1323h0M1514 1287.3h0M1625.7 1282.3h0M1548.6 1373h0M1577.9 1349.2h0M1509.4 1353h0M1554.4 1269.2h0M1570.5 1293.3h0M1597 1365.2h0M1604.5 1337.8h0M1507.3 1272.2h0M1541.6 1281.9h0M1502.5 1280.3h0M1616.3 1289h0M1627.4 1262.8h0M1601.8 1329.2h0M1502.1 1332.6h0M1508.9 1279.6h0M1555.6 1291.7h0M1506.5 1294.6h0M1604.1 1260.8h0M1622.2 1296.2h0M1542.6 1333.5h0M1586.2 1308h0M1608.8 1284.9h0M1625.1 1326.5h0M1629.9 1276.2h0M1571.9 1358.5h0M1539.6 1277.8h0M1599.4 1374.1h0M1532 1301.3h0M1580.3 1350.1h0M1503.7 1268.1h0M1549.2 1351.5h0M1590.6 1287.9h0M1601.2 1314h0M1568 1302.9h0M1617.6 1359.9h0M1541.8 1309h0M1626.1 1293.6h0M1404.2 1797h0M1403.2 1862.1h0M1465.6 1785.7h0M1435 1732.8h0M1432.4 1714.1h0M1445.7 1873.6h0M1479.4 1810.7h0M1438 1778.8h0M1477.7 1667.9h0M1470.4 1851.8h0M1509.3 1728h0M1480.8 1757h0M1477.7 1788.7h0M1416 1752.7h0M1495.7 1714.7h0M1441.4 1803.1h0M1443.5 1858.9h0M1499.4 1772.8h0M1506.7 1738.4h0M1451.5 1766h0M1407.2 1876.4h0M1513.3 1728.5h0M1420.1 1871.5h0M1515.2 1814h0M1410.8 1793.3h0M1484.6 1677.5h0M1483 1685.6h0M1422.1 1823.4h0M1526 1661.1h0M1430.1 1819.7h0M1486.7 1701.8h0M1466.9 1843.8h0M1514 1712h0M1448.1 1666.8h0M1418.9 1733.3h0M1494.1 1843.4h0M1465.6 1708.8h0M1473.1 1875.5h0M1526.6 1661.4h0M1420.3 1875.9h0M1534.3 1660.5h0M1427.8 1734.8h0M1468.3 1731.7h0M1493 1698.8h0M1476 1696.8h0M1465.9 1665.6h0M1529.5 1662.6h0M1410.9 1823.3h0M1478.6 1701.5h0M1405.8 1849h0M1408.6 1861.9h0M1437 1810.5h0M1441.3 1745.4h0M1499.6 1687.8h0M1481.6 1713.2h0M1523.6 1668.7h0M1538.2 1674.2h0M1450.4 1791h0M1446.2 1871.7h0M1476.7 1703.7h0M1420.6 1750.3h0M1458.5 1819.4h0M1432.8 1673.3h0M1473.5 1836.1h0M1470 1841.5h0M1442.1 1806.9h0M1526.2 1786h0M1498.6 1824.1h0M1535.1 1739.7h0M1504.7 1734h0M1474 1878.4h0M1534.7 1731.1h0M1412.1 1868h0M1455.9 1849.2h0M1406.5 1689.9h0M1457.7 1856.2h0M1468.8 1714.2h0M1504.1 1696.5h0M1522.3 1860.3h0M1440.3 1672.6h0M1504.5 1868.8h0M1486 1785.5h0M1491 1777.1h0M1516.8 1748.8h0M1423 1873.3h0M1401.6 1672h0M1513.2 1680.2h0M1427.4 1835.8h0M1490.7 1839.8h0M1532.3 1898.2h0M1736.8 1685.3h0M1565.2 1759.2h0M1616.9 1683.7h0M1732.9 1674.2h0M1588.1 1786.2h0M1605.1 1751h0M1565.1 1940.5h0M1706.8 1660.1h0M1553.7 1953.2h0M1602.7 1861.8h0M1580.8 1866.6h0M1576.4 1830.4h0M1691.9 1693.6h0M1570.5 1855.2h0M1752.9 1682.8h0M1538.9 1762.1h0M1746.8 1672.4h0M1586.5 1866.1h0M1601.4 1727.6h0M1582.5 1739.8h0M1577.1 1728.2h0M1562.7 1844.3h0M1545.3 1785.3h0M1791.4 1740.8h0M1553.1 1683.6h0M1599.6 1859.9h0M1726.2 1690.5h0M1778.2 1669.2h0M1739.2 1679.2h0M1798.7 1713.8h0M1597.1 1762.5h0M1535.9 1766.3h0M1561.4 1678.6h0M1774.9 1742.8h0M1589.3 1727.5h0M1581.6 1841.5h0M1589.3 1912.2h0M1594.4 1701h0M1611.9 1878.9h0M1536.1 1754.4h0M1591.7 1838.3h0M1546.9 1849.9h0M1592.3 1828.7h0M1568.4 1814.2h0M1536.6 1791.5h0M1584.5 1792h0M1701.4 1706.8h0M1556.4 1664.1h0M1577.3 1743h0M1559 1727.2h0M1726.8 1692.9h0M1525.9 1879.2h0M1555 1704h0M1733.1 1685.6h0M1565.8 1716.2h0M1584.6 1710.1h0M1639.3 1705.8h0M1573.1 1926h0M1549.1 1829.6h0M1552.7 1875h0M1652.7 1704.2h0M1539.8 1890.2h0M1788.9 1669.9h0M1540.4 1894h0M1569.7 1852.5h0M1567.3 1851.8h0M1532.2 1913.8h0M1570.2 1663.6h0M1574 1944.3h0M1591.2 1909.4h0M1598.6 1796.6h0M1704.3 1661.3h0M1744.2 1692.4h0M1534.4 1769.8h0M1765.3 1690.3h0M1586.4 1848h0M1549.9 1732.7h0M1541.1 1722.4h0M1573.3 1908.1h0M1600.4 1871.4h0M1646.7 1702h0M1595.8 1669.2h0M1569.5 1687.3h0M1553.3 1758.4h0M1568.6 1818.6h0M1546 1863.4h0M1591.9 1832.6h0M1683.1 1699.4h0M1785.2 1740h0M1744.8 1703.4h0M1795.2 1754.3h0M1597 1660.7h0M1556.5 1691.8h0M1791.4 1762.4h0M1772.3 1683.4h0M1554.1 1759.7h0M1529.4 1899.8h0M1604.4 1886.4h0M1590 1896.9h0M1539.9 1671.1h0M1587.3 1762.2h0M1661.3 1686h0M1583.6 1900.3h0M1599.6 1752.4h0M1745.4 1692.3h0M1760.3 1697.3h0M1689.8 1699.9h0M1753.2 1667.1h0M1545.4 1826.6h0M1668.3 1686h0M1556.2 1957.8h0M1565.6 1753h0M1582 1661.5h0M1732.9 1702.6h0M1616.4 1692.7h0M1597.3 1740.2h0M1557.3 1839.5h0M1548 1816h0M1571.1 1815.6h0M1614.5 1888.8h0M1578.8 1827.3h0M1572.6 1868.5h0M1559 1911.3h0M1768.5 1732.4h0M1582.9 1916.4h0M1568.4 1817.5h0M1576.6 1813.4h0M1723.8 1673.8h0M1578.3 1873.7h0M1563.6 1872.9h0M1795.2 1735.8h0M1590 1756.6h0M1737.9 1661.1h0M1770.8 1681h0M1611.2 1663.3h0M1566.3 1821.5h0M1585.6 1699.5h0M1551.6 1878.6h0M1554.4 1942.9h0M1541.5 1821.2h0M1609.1 1876.5h0M1540.7 1782.9h0M1680.4 1682.2h0M1601.3 1695.3h0M1765.4 1686h0M1551.3 1674.4h0M1592.2 1847.4h0M1603.1 1689.2h0M1582.4 1792.8h0M1583.3 1763.6h0M1595.7 1815.4h0M1584.8 1751.9h0M1586.1 1707h0M1767.8 1692.5h0M1588.4 1845.7h0M1789.2 1757.1h0M1792.9 1678.1h0M1535.3 1889.9h0M1533.3 1905.2h0M1602.6 1882h0M1614.9 1705.3h0M1561.6 1855.2h0M1646.4 1665.1h0M1610.1 1882.1h0M1593.3 1721.1h0M1558.5 1937.6h0M1561.3 1963.7h0M1608.6 1844.5h0M1537.2 1873.1h0M1662.1 1673.5h0M1661.3 1681.7h0M1544.3 1714.7h0M1528.6 1891.1h0M1556.1 1950.7h0M1675.4 1677h0M1550.4 1724.5h0M1599.8 1886.9h0M1587.2 1741.5h0M1638.2 1692.7h0M1776.6 1664.3h0M1538.4 1858.2h0M1699.2 1660.9h0M1695.9 1686.2h0M1550.8 1851.2h0M1630.3 1709.9h0M1621.9 1675.7h0M1707 1676.5h0M1543.8 1929.1h0M1780.4 1697h0M1576.7 1756.3h0M1783.8 1666.5h0M1598.4 1681.6h0M1554.3 1700.3h0M1555.5 1783.8h0M1661.3 1675.9h0M1755.2 1699h0M1560.6 1859.5h0M1539.9 1678.8h0M1586.6 1800.6h0M1558.9 1742.2h0M1559.8 1862.9h0M1571.4 1945.8h0M1614.9 1687.6h0M1537.1 1898.4h0M1689 1675.3h0M1530.4 1856.8h0M1602.8 1738.1h0M1568.5 1936.1h0M1607.6 1847.4h0M1554.1 1895.8h0M1569.3 1696.6h0M1705.2 1675.8h0M1800.2 1662.6h0M1713.1 1676.7h0M1599.7 1735.2h0M1567.1 1719.2h0M1568.6 1826.7h0M1568.2 1881.2h0M1692.4 1667.1h0M1581.8 1863.4h0M1780.8 1675h0M1577.7 1889.9h0M1796.3 1693.2h0M1702.2 1667.8h0M1658.2 1676.9h0M1767.7 1721.5h0M1613 1717.8h0M1543.3 1849.6h0M1694.6 1668.2h0M1686.5 1678.2h0M1522.6 1888.9h0M1599.1 1716.5h0M1542.8 1718.1h0M1547.2 1845.7h0M1753.2 1678.1h0M1562.1 1941.9h0M1548.3 1716.4h0M1780.2 1703.3h0M1689.8 1700.9h0M1533.5 1880.5h0M1614.4 1680.9h0M1566.9 1918.8h0M1626 1669.8h0M1564.4 1847.9h0M1782.5 1675.4h0M1771.9 1710.3h0M1557.9 1693.4h0M1575.8 1801.5h0M1572.8 1721.4h0M1593.3 1680.4h0M1556.3 1665.1h0M1606 1873.4h0M1559.4 1915.9h0M1560.5 1881.6h0M1580.8 1799h0M1558.1 1891.8h0M1589.8 1805.1h0M1603.6 1883.3h0M1536.4 1796.9h0M1799 1771.7h0M1651.2 1688h0M1701.8 1703.4h0M1610.7 1868h0M1591 1785h0M1603.5 1855.7h0M1720.3 1684h0M1798.5 1697.1h0M1540.8 1787.6h0M1550 1707.8h0M1588.3 1902.1h0M1516.2 1881.6h0M1544.3 1875.3h0M1612.3 1896.4h0M1540.4 1736.4h0M1534.6 1764h0M1528.5 1899.5h0M1543.5 1676.2h0M1562.1 1763.4h0M1797.3 1754.7h0M1582.8 1800.3h0M1620.9 1901.9h0M1580 1936.5h0M1608.5 1704h0M1712.5 1706.2h0M1556 1680.3h0M1576.3 1879.9h0M1557.4 1748.4h0M1580.5 1820.2h0M1587.7 1825.1h0M1581.8 1881.7h0M1687.6 1698.5h0M1597.8 1702.4h0M1562.3 1776.5h0M1596.8 1745.6h0M1545.3 1811.1h0M1573.3 1749h0M1549 1775.2h0M1592.2 1789.7h0M1594 1866.4h0M1567.7 1731.2h0M1612.4 1699.1h0M1550.8 1765.5h0M1787.9 1754.3h0M1545.5 1802.6h0M1618.6 1695.4h0M1661.1 1683.8h0M1771.2 1725h0M1577.7 1815.2h0M1582.5 1900h0M1604.5 1691.2h0M1567.7 1679.4h0M1560.6 1910.2h0M1581.6 1785.4h0M1581.7 1928.3h0M1788.4 1757.3h0M1584.9 1859.4h0M1793.5 1743.8h0M1675.9 1666.5h0M1677.6 1705.1h0M1604.8 1865.3h0M1561.5 1915.6h0M1760.9 1702.6h0M1525.6 1861.1h0M1545.4 1936.6h0M1558.3 1686.7h0M1597.1 1733.5h0M1580.8 1881.8h0M1548.6 1727.2h0M1569 1734.5h0M1655.6 1693.4h0M1523.1 1976.3h0M1404 2028.1h0M1488.6 1923.3h0M1435 1989.8h0M1417.4 2051.1h0M1441.1 2016.7h0M1406.1 2012.7h0M1427.2 1892.9h0M1402.3 1914.4h0M1424.5 2005h0M1506.7 1996.6h0M1456.3 2011.1h0M1589.6 2040.2h0M1596.9 2017.1h0M1471.1 2052.6h0M1500.7 1988.4h0M1404.3 1981.4h0M1418.6 2024.3h0M1423.2 2029.3h0M1409.4 1895.3h0M1423 1995.4h0M1551.2 2007.8h0M1547.2 1999.9h0M1537.9 1942.4h0M1444 2040.7h0M1511.7 2001.1h0M1477.1 1937.6h0M1468.8 1924.2h0M1594.6 2037.4h0M1539.7 2027.6h0M1407.2 1905.8h0M1499 2009.3h0M1533.5 2046.5h0M1451.5 1899.9h0M1507.6 1939.3h0M1455.9 2047h0M1503.4 1892h0M1404.8 2010.5h0M1511.7 2020.3h0M1435.2 1926.8h0M1508 2020.8h0M1451.2 1967.7h0M1464 1887.9h0M1521.2 2056.2h0M1516.6 1896h0M1500.3 1884h0M1442.8 2037.1h0M1521.3 1922.6h0M1438.4 1966.9h0M1489.5 2010.3h0M1495.8 2039.3h0M1524.9 1976.8h0M1556.6 1999h0M1421.9 1925.7h0M1615.5 2041.6h0M1525.2 1910.3h0M1556.7 2050.6h0M1486.2 1943.8h0M1561.7 2052.3h0M1431.9 1937.6h0M1499.3 1882.9h0M1486.6 1970h0M1507.4 2060.6h0M1506.2 2056.9h0M1406.3 1984.8h0M1500.3 2056.5h0M1625.6 2059h0M1469.6 2021.9h0M1485.8 1933.8h0M1529 1942.4h0M1606.7 2049.5h0M1540.5 2000.9h0M1544.3 1957.8h0M1425.6 1954.5h0M1449.6 1971.4h0M1613.7 2040.3h0M1415.2 1890.6h0M1409 1982.6h0M1429.2 2051.7h0M1497.1 2036.6h0M1565.1 2027.8h0M1524 1954.1h0M1489.8 1881.4h0M1591 2019.8h0M1558.4 1976.7h0M1427.5 1992h0M1439.4 1913.7h0M1481.5 1894.4h0M1468.8 1912.7h0M1439.9 1976.3h0M1408.7 2029.1h0M1591.6 2016h0M1443.3 1948.6h0M1495.4 2012.3h0M1492.2 1931.7h0M1415.1 1946.5h0M1536.4 2042.9h0M1478.5 1977.5h0M1407.5 1970.9h0M1521.8 1933.5h0M1480.4 1947.4h0M1482.9 1939.1h0M1482.5 1940.4h0M1590 2046.7h0M1425.8 2043.2h0M1469.4 1893.2h0M1475.2 2055.8h0M1548.6 2014.1h0M1450.3 2032.1h0M1424.8 1887h0M1416.5 1937.2h0M1514 1945.2h0M1455.2 1927.8h0M1409.5 1912.2h0M1468.6 1956h0M1403.9 2036h0M1425.5 1958.4h0M1475.2 2024h0M1428 1960.4h0M1502.3 2043.4h0M1418.3 1881.9h0M1406.9 2022.5h0M1509.2 2024.3h0M1487.4 1942h0M1483.9 1882.1h0M1470.8 2042.4h0M1528.3 1944.7h0M1498.5 1949.4h0M1533.2 2018.3h0M1465.9 2034.4h0M1607.7 2045.4h0M1507.3 1928.9h0M1450.8 2004.5h0M1435.6 1912.6h0M1469.1 2050h0M1401.8 1999.5h0M1495.6 1976.5h0M1529.5 1949.6h0M1465.9 1963.9h0M1495.5 1884.5h0M1497.8 1978.5h0M1561.4 2053.4h0M1553.4 2055h0M1480.7 2059.5h0M1504 1917.8h0M1401.9 1940.5h0M1403.4 2051.5h0M1579.4 2057h0M1557.9 2023.2h0M1456.3 2021.2h0M1420.7 1934h0M1468.5 1888.9h0M1577.6 2004.7h0M1471.6 2022.1h0M1445.1 1979.5h0M1423.5 2024.7h0M1581.8 2006.4h0M1505 1894.5h0M1497.4 2035.1h0M1594.8 2058.8h0M1446.7 2046h0M1566 2044.2h0M1421.1 1893.2h0M1403.7 1982.7h0M1497 1985.7h0M1549.4 1954.8h0M1538.7 1972.6h0M1477.1 1906.3h0M1437 2044.3h0M1461.9 2030.1h0M1534.4 1957.1h0M1425.9 1937.9h0M1446.1 2050.8h0M1585.4 2028.9h0M1549.4 1980.8h0M1440.9 1975.4h0M1449 1930.2h0M1497.3 1990.8h0M1519.5 1960.2h0M1483.5 1983.6h0M1447.8 1977.3h0M1564.2 2044.5h0M1482.4 1979.7h0M1495.6 2052.3h0M1590.3 2007.4h0M1552.4 2039.2h0M1436.4 2021.8h0M1465.5 2027.1h0M1411.9 2043.8h0M1568.7 2036.7h0M1497.1 1965.4h0M1543.2 2041.4h0M1494.9 1933.4h0M1495.3 2018.1h0M1569.6 2048.9h0M1588.7 2058.7h0M1541 1976.9h0M1554 2030.6h0M1447.9 1943.2h0M1495 2046.3h0M1513.2 2031.1h0M1445.7 1929.6h0M1474.8 1940.8h0M1497.5 1898.4h0M1464.2 2015.9h0M1510.2 1956h0M1470.8 1995.1h0M1478.3 2010.4h0M1444.3 1997.4h0M1475.7 2000.6h0M1504.9 1963h0M1524.9 2026.6h0M1493 2048.2h0M1516.7 2021.6h0M1481.3 1915.7h0M1555.6 1977.1h0M1576.8 2000.3h0M1528.3 1967.6h0M1428.7 2030.3h0M1487.5 1958.1h0M1584.2 2019.9h0M1420 1962.6h0M1537.9 1926.3h0M1534.4 1978.4h0M1401 1901.1h0M1538.9 2043.2h0M1502.8 1971.2h0M1413.9 1881.8h0M1475.3 1972.8h0M1407.2 1948.3h0M1562.1 2015.5h0M1603.2 2036.2h0M1437.7 1985.9h0M1444.5 1993.4h0M1563.5 2051.8h0M1502.2 2044.9h0M1620.7 2056.4h0M1407.4 1912h0M1506.7 2028.1h0M1447.3 1883.9h0M1595.7 2041.9h0M1599.7 2045.2h0M1410 2047.1h0M1411.8 2058.7h0M1521.3 2048h0M1479.1 1943.3h0M1492.8 2022.9h0M1508.7 1989.2h0M1586.7 2038.5h0M1533.4 1915.1h0M1511.8 2049.4h0M1607.9 2041.6h0M1479.2 2017.4h0M1503.6 2016h0M1606.9 2035.6h0M1521.2 1960.9h0M1562.6 2060.5h0M1518.4 1928.4h0M1587.2 2014.7h0M1473.5 1883h0M1499.3 1986.2h0M1579 2060.7h0M1427.2 1962.4h0M1422.5 1963.6h0M1608 2038.9h0M1505.6 1959.5h0M1487.2 2014.7h0M1434.9 1975.5h0M1530.4 1933.6h0M1490.1 1918.2h0M1453.9 2043.2h0M1520.4 2023.7h0M1407.2 1884.4h0M1415.5 2044.1h0M1524.5 2027.9h0M1494.4 1953.7h0M1467.6 1923.4h0M1511 1941.8h0M1489 1951.9h0M1471.4 1977.6h0M1493.9 2044.9h0M1539.4 2026.2h0M1551.5 2022.2h0M1509.2 1938.9h0M1463.5 1982.6h0M1491.9 2046.6h0M1534.4 1969.1h0M1574.8 2018.6h0M1440 1990h0M1572.8 2022.3h0M1511.6 2026.4h0M1500.4 1933.2h0M1572.2 2027.4h0M1423.8 2058.9h0M1552.4 2028h0M1527.9 1944.4h0M1521.5 1942.7h0M1566.5 1998.1h0M1425.2 1910.8h0M1469.1 1988.9h0M1516.6 1987.4h0M1450.1 1936.9h0M1503.9 1963.6h0M1501.1 1953.4h0M1410.9 2029.9h0M1534 2034.6h0M1470.4 1938.8h0M1519.2 2027.4h0M1514.8 1947.5h0M1578.9 2039.5h0M1428.7 2050.5h0M1599.3 2054.3h0M1456.7 1985.3h0M1492.5 2060.5h0M1456.6 1909.7h0M1488.8 1938.8h0M1470.8 1974.1h0M1477.9 2023.9h0M1518.4 1986.6h0M1475.6 1937.2h0M1551.1 1952.7h0M1535 2021.8h0M1562 2010.6h0M1504 1990h0M1507.5 2022.1h0M1588.9 2060h0M1481.3 2042.1h0M1435.1 2052.6h0M1423.2 1934.1h0M1606.2 2043.5h0M1518 1976.5h0M1526.1 2057.6h0M1462.2 1985.7h0M1432.5 1953.6h0M1739.4 1734.1h0M1629.5 1904.8h0M1766.2 1738.7h0M1668.2 1720.5h0M1626.4 1886.9h0M1693.4 1718.3h0M1651.7 1926.6h0M1652.6 1865.5h0M1626.4 1779.3h0M1620.9 1837.2h0M1585.8 1965.9h0M1718 1709.1h0M1653.9 1858.6h0M1634.1 2022.9h0M1643.4 1724.6h0M1776.4 1764.9h0M1659.9 1892h0M1587.2 1937h0M1678 1741.8h0M1607.1 1810.9h0M1783.2 1788.4h0M1607.6 1968.9h0M1635.2 1839.7h0M1692.3 1731.6h0M1640.3 1868.6h0M1621.3 1846.9h0M1641.3 1898.4h0M1722.6 1717.6h0M1603.8 1807.1h0M1700.7 1714.2h0M1605.5 1964h0M1650.7 1897.3h0M1582.4 1948.9h0M1736.9 1722h0M1602.3 1944.9h0M1633.4 2016.7h0M1761.6 1750.3h0M1630 1743.4h0M1790.7 1780.9h0M1632.3 1997.8h0M1655.8 2032.4h0M1777.5 1778.6h0M1730.2 1732.4h0M1621.1 2037.6h0M1791.3 1808h0M1620.1 1866.7h0M1751.5 1712.5h0M1592.3 1989.7h0M1734.8 1746.6h0M1670 1735.5h0M1617.8 1942.3h0M1653 1746.6h0M1645.8 1782.5h0M1775.9 1775.7h0M1634.1 1932.2h0M1602 2021.9h0M1623.1 1880.9h0M1621.3 1988.5h0M1629.1 1915h0M1606.1 1764.1h0M1787.9 1780.4h0M1767.8 1761.9h0M1724.8 1733.6h0M1606.2 1801.3h0M1636.6 2045.1h0M1583.3 1999.8h0M1637.6 1779.7h0M1583.9 1933.6h0M1708.3 1747h0M1605.4 1786h0M1636.1 1857.6h0M1621.5 1754.4h0M1598.4 2016.8h0M1655.3 2035.7h0M1726.1 1731.4h0M1637.9 2007.4h0M1696.4 1732.5h0M1657.5 1900.1h0M1617.4 1809h0M1629.8 1753.5h0M1740.6 1715.1h0M1649.3 1873.4h0M1611.3 1859.1h0M1740 1744.7h0M1794.5 1816.6h0M1577.6 1942.8h0M1590.3 1960.5h0M1636 1759.6h0M1612.6 1774.8h0M1599.4 1965.3h0M1788 1774.4h0M1582.5 1979.9h0M1600.1 1962.3h0M1613.3 1978.7h0M1673.7 2051.6h0M1636.5 1829h0M1600.6 1931.1h0M1654.4 1728.4h0M1600.5 1956.2h0M1661.4 1888.1h0M1612.8 1828.5h0M1656.9 2051.3h0M1752.9 1759.9h0M1658.8 1880.6h0M1601.7 1946h0M1736 1732.5h0M1608.6 2021.8h0M1659.6 2028.4h0M1594 1939.8h0M1637.3 1739.3h0M1648.7 1839.5h0M1617.4 1906.4h0M1624.4 1915.3h0M1618 1870.2h0M1712.1 1729.6h0M1619 1861.9h0M1617.6 1935.8h0M1628.8 1823.3h0M1791.1 1767.5h0M1586.9 1939.6h0M1637.1 1872h0M1795.9 1817.3h0M1608.5 2024.7h0M1627.4 1842.6h0M1636.9 2027.3h0M1633.5 1816.6h0M1652 1830.8h0M1624 1877.6h0M1632.3 1920.9h0M1628.4 1781.3h0M1588.9 1995.3h0M1719.1 1727.1h0M1707.9 1727.1h0M1616.1 1729.8h0M1642.4 1732.7h0M1787.5 1761.4h0M1603.6 1816.7h0M1609.5 1791.1h0M1626.4 1811.3h0M1620 1739.7h0M1629.7 2005.9h0M1580 1986.5h0M1616.7 1842.5h0M1763.6 1784h0M1638.4 1739.6h0M1615.2 1978.1h0M1634 1840.6h0M1726.5 1718.8h0M1672.6 1714.3h0M1653.6 1874.4h0M1648.4 1882.4h0M1781.5 1775.8h0M1643.6 1882.7h0M1781.3 1808.9h0M1639 2022.4h0M1629.1 1754.6h0M1615 2004.7h0M1758.3 1740.2h0M1774.8 1763.8h0M1686.7 1754.3h0M1652.6 2059.7h0M1609.3 1958.5h0M1797 1797.8h0M1780.5 1786.8h0M1615.6 1990.3h0M1624.1 1725.6h0M1603.3 1809.5h0M1597.1 2005.2h0M1615.9 1772.2h0M1682.1 1731.8h0M1607.5 1811.5h0M1630.5 2028.1h0M1632.8 2059.6h0M1657.9 1923.8h0M1700.6 1730.8h0M1608.3 1817.5h0M1746.1 1759.3h0M1601.9 1968.4h0M1585.9 1992.9h0M1608.7 2028h0M1631.5 1833.6h0M1603.2 1813h0M1750.7 1755.5h0M1636.2 1935.1h0M1630.5 1804.6h0M1656.3 1715.1h0M1798.7 1815.1h0M1625.6 1723.5h0M1620.5 1825.6h0M1632.5 1912.1h0M1734 1730.7h0M1747.8 1727.1h0M1620.6 1930.9h0M1772.8 1764.3h0M1621 1982.7h0M1672 1730.5h0M1647.1 2050h0M1681 1732.8h0M1699.6 1725.4h0M1653.3 1762.5h0M1609 1760.5h0M1704.1 1720.8h0M1757.8 1748.1h0M1766.2 1741.1h0M1616 1865.9h0M1651 1888.3h0M1641.6 1823.1h0M1660.8 1753.3h0M1574.1 1970.4h0M1621.2 1830.1h0M1683.9 1734.4h0M1651.3 1863.7h0M1645.2 1738.8h0M1792.4 1794.8h0M1582.6 1988.4h0M1625.7 1831h0M1638.1 1801.8h0M1620.9 2006.6h0M1649 1874.9h0M1664.4 2040.9h0M1713.4 1742.6h0M1619.3 2037h0M1779.3 1798h0M1708.8 1747.1h0M1651.1 1905.8h0M1637.4 1742.3h0M1599.7 1957.4h0M1608.1 2029.1h0M1627.4 1883.9h0M1634.9 1860.8h0M1663.5 2060.1h0M1631.1 1743.4h0M1637.1 1896.2h0M1617.8 1726.7h0M1619.2 2009.2h0M1619.1 1897.8h0M1771.3 1796h0M1600.7 1793.3h0M1644.9 2037.2h0M1587.5 1999.3h0M1640 1742.7h0M1707.4 1729.3h0M1602.8 2009.3h0M1579.4 1973.6h0M1637.6 1761.1h0M1600 1995.6h0M1625.1 1788.7h0M1610 1769.2h0M1800.2 1786h0M1607.4 1794.5h0M1631.6 1923.2h0M1645 1829.6h0M1743.8 1738.5h0M1647.8 1722.1h0M1742.4 1713.1h0M1720.6 1737.2h0M1621.9 1796.2h0M1624.7 1736.6h0M1588.8 1961.9h0M1609.3 1910.1h0M1609.6 1971.5h0M1620.2 1914.7h0M1611.3 1823.3h0M1609 2029.5h0M1610.6 1966.2h0M1658.7 1909.2h0M1619.8 1726h0M1602.5 1779.7h0M1791.4 1792.1h0M1642.4 1936.2h0M1649.5 1921.9h0M1622.2 2003.1h0M1572.4 1985.5h0M1600.2 1782.3h0M1749.5 1713.9h0M1565.7 1976h0M1621.5 1838.7h0M1621 1782.4h0M1683.8 1724.4h0M1589.7 1984.8h0M1613.9 1982.1h0M1764.5 1779.7h0M1705.2 1712.9h0M1736.6 1744.5h0M1743.9 1729h0M1652.2 1756h0M1624.5 1926.9h0M1606 2016.4h0M1616.4 1836.4h0M1597.7 2003.7h0M1751.6 1748.1h0M1636.2 1741.6h0M1601.8 1928.2h0M1643.1 2035.1h0M1581.5 1960.4h0M1613.2 1922.7h0M1707.1 1744.4h0M1630.2 1884.8h0M1605.2 1997.6h0M1616.5 1974.6h0M1626.4 1851.9h0M1605.1 1761.9h0M1642.3 1877h0M1652.1 1763.3h0M1765.9 1756.2h0M1618.6 1734.7h0M1655.4 2023.7h0M1611 1781.3h0M1637.2 2055.4h0M1555.6 2074.6h0M1606.1 2107.8h0M1441.8 2071.7h0M1610 2070.2h0M1445.3 2064.3h0M1569.4 2069.7h0M1416.1 2084.8h0M1624.8 2079.3h0M1454.7 2092.6h0M1435 2067.8h0M1516.9 2065.5h0M1473.5 2076.5h0M1611.5 2063.2h0M1445.9 2100.8h0M1443.8 2098.8h0M1583.7 2117.3h0M1519.2 2074.3h0M1447.7 2089.1h0M1601.3 2096.4h0M1496.4 2098.4h0M1550 2089.7h0M1582 2084.2h0M1466.8 2062.4h0M1449 2099.9h0M1440.4 2103.5h0M1458.9 2091h0M1609.3 2113.9h0M1506.7 2074.9h0M1556.2 2077h0M1616.4 2088.5h0M1542.2 2081.3h0M1576.1 2077.5h0M1587.9 2075.9h0M1564.2 2084.7h0M1486.6 2073.6h0M1533.2 2079.3h0M1481.9 2067.9h0M1539.4 2088.8h0M1493.4 2090.9h0M1446.2 2061.5h0M1603.2 2088.9h0M1549.1 2071.6h0M1608.4 2076.2h0M1526.1 2077.4h0M1558.8 2093.1h0M1536.4 2066.5h0M1471.1 2090.8h0M1577.8 2069.1h0M1494.4 2074.5h0M1538.9 2082.7h0M1502.3 2090.8h0M1599.6 2072.2h0M1585.8 2119.6h0M1453 2068.9h0M1515.2 2082.2h0M1568.7 2077.8h0M1603.4 2107.9h0M1428.5 2101.5h0M1586.5 2091.4h0M1609.4 2089h0M1441.3 2092.2h0M1444.2 2063.9h0M1604.6 2120h0M1426.7 2081.8h0M1482.9 2088.8h0M1481.5 2086.9h0M1593.9 2084.2h0M1597 2108.8h0M1567.1 2105h0M1581 2092.1h0M1530.1 2069.8h0M1615 2113.8h0M1627.3 2083.1h0M1508.2 2082.6h0M1465.7 2089.9h0M1586.2 2078.1h0M1415.1 2069.6h0M1513.5 2084.5h0M1576.8 2080h0M1526.4 2083.1h0M1625.7 2092.4h0M1620 2110h0M1434.7 2086.4h0M1576.2 2118.8h0M1568 2108.9h0M1533.5 2086.4h0M1533.7 1177.1h0M1539.3 1150.8h0M1550.9 1135.8h0M1502.2 1184.7h0M1490.9 1228.6h0M1550.7 1231.1h0M1533.6 1185.2h0M1549 1241.6h0M1524.3 1175.3h0M1563.7 1260.4h0M1498.1 1230.5h0M1497.6 1174.9h0M1518.9 1200.1h0M1536.7 1243.8h0M1524.2 1160.4h0M1491.5 1207.6h0M1500.5 1144.8h0M1529.3 1141.1h0M1507.4 1201.4h0M1537.8 1198.3h0M1518.3 1218.8h0M1513.1 1141h0M1559.9 1182h0M1493.7 1245.5h0M1555.4 1198.4h0M1495.3 1153.6h0M1571.8 1252.9h0M1494.2 1187.7h0M1573.8 1248.9h0M1535 1122.2h0M1501.1 1134.4h0M1517.7 1240.7h0M1509.5 1236.9h0M1538.7 1200.7h0M1553.9 1204.1h0M1534.6 1200.6h0M1533.5 1130.5h0M1509.3 1142.1h0M1530.1 1232.1h0M1540.1 1228h0M1521.7 1132.7h0M1530.7 1245.3h0M1494.7 1224h0M1540.4 1256.6h0M1475.8 1122.3h0M1562.1 1173.5h0M1504.6 1213h0M1537.1 1243.9h0M1569.1 1237.5h0M1508.1 1206.7h0M1518 1212.3h0M1494.4 1203.5h0M1553.2 1243.8h0M1549.7 1247.2h0M1554.7 1192.6h0M1576.9 1257.1h0M1495.1 1129.6h0M1514.6 1227h0M1519.3 1151.8h0M1491.7 1213.3h0M1502.5 1220.9h0M1509.2 1209.5h0M1491.2 1206.8h0M1522.8 1207.7h0M1535.4 1130h0M1553.4 1223.4h0M1506 1131h0M1534.8 1257.5h0M1546.8 1238.3h0M1497.9 1157.3h0M1542.2 1164.1h0M1530.5 1128.8h0M1547.5 1227h0M1528.4 1120.5h0M1514.3 1155.9h0M1506.1 1224.4h0M1546.9 1212.2h0M1503.7 1132.7h0M1517.9 1250.9h0M1557.5 1173.9h0M1532.7 1260.3h0M1517.8 1196.2h0M1562.1 1260.4h0M1528.5 1194.6h0M1525.3 1259.3h0M1525.2 1208.2h0M1560.8 1252.7h0M1508.4 1175h0M1519.9 1133.2h0M1562.4 1219.4h0M1500.9 1224.9h0M1513.5 1143.5h0M1501.4 1128.9h0M1515.3 1241.1h0M1538.4 1232.2h0M1504 1186h0M1526 1245.8h0M1510 1151.7h0M1511.8 1200.2h0M1551.8 1245.7h0M1529.5 1250.9h0M1518.6 1145.6h0M1513.1 1148.2h0M1537.3 1209.4h0M1531.2 1255.1h0M1522 1248.5h0M1539.8 1130.8h0M1517.8 1118h0M1513 1125.4h0M1570.6 1226.2h0M1535.2 1159.2h0M1529 1176.1h0M1516.7 1256.6h0M1518.3 1165.4h0M1533.2 1240.1h0M1561.2 1196.6h0M1555.4 1205.9h0M1496.5 1246h0M1546.4 1170.7h0M1562.2 1234h0M1554.3 1199.6h0M1528.9 1217.3h0M1566.6 1193.4h0M1498 1169.6h0M1571.1 1255.2h0M1525.1 1133.8h0M1516 1136.7h0M1536.6 1219.6h0M1504.2 1192.9h0M1488.8 1140.7h0M1494 1179.5h0M1566.9 1181.7h0M1514.9 1181h0M1495.2 1237h0M1423.1 1143.8h0M1408.4 1223.7h0M1487.9 1156.7h0M1421 1235h0M1427.6 1191.4h0M1447.7 1258.4h0M1415.1 1249.9h0M1408.4 1180.2h0M1491.6 1248h0M1458.6 1177.7h0M1403.7 1123.6h0M1467.5 1213.4h0M1417.6 1215h0M1415.7 1183.4h0M1412.2 1113.8h0M1418.1 1149.5h0M1414.5 1171.1h0M1435 1124.2h0M1471.2 1240.1h0M1421.3 1218.2h0M1405.3 1105.5h0M1408.6 1253.2h0M1437.8 1174h0M1477.2 1191h0M1427 1118.1h0M1427.4 1116.5h0M1459.5 1190.7h0M1462.5 1209.4h0M1406.4 1101.5h0M1430.7 1154.1h0M1488.4 1193.9h0M1434.4 1192.2h0M1465.7 1236.9h0M1448.8 1168.4h0M1451.3 1225.1h0M1405.9 1210.9h0M1440.4 1186.8h0M1438 1226.3h0M1427.7 1109.8h0M1410 1243.2h0M1417.1 1258.2h0M1418.2 1137.5h0M1449.2 1225.2h0M1409.5 1220.1h0M1417.7 1138.7h0M1449.1 1238.5h0M1444.7 1131.7h0M1450.8 1142.3h0M1401.3 1154.9h0M1405.7 1258.6h0M1434.4 1186.9h0M1410.8 1238.5h0M1468.6 1226.2h0M1420.6 1193.6h0M1448 1130.4h0M1464.5 1226h0M1455.5 1216.3h0M1448.5 1183.9h0M1475.2 1234.5h0M1440.9 1121.9h0M1465.8 1160.6h0M1458.7 1141.6h0M1456.6 1250.6h0M1470.7 1171.8h0M1415.3 1099.7h0M1412.4 1245.6h0M1458.1 1137.5h0M1417.2 1172.1h0M1488.7 1198.6h0M1434.5 1246.3h0M1401 1099.1h0M1425.6 1203.5h0M1424.3 1184.2h0M1413.5 1243.5h0M1454.9 1236.6h0M1478.7 1188.1h0M1428.7 1126.3h0M1460.1 1221.9h0M1451.3 1220.8h0M1411.2 1175.5h0M1424.2 1169.3h0M1445.6 1145.9h0M1440.9 1132.8h0M1406.8 1209.1h0M1476.6 1224.3h0M1431.8 1147.7h0M1417.1 1240.2h0M1489.8 1185.5h0M1460.3 1209.8h0M1442.8 1257.5h0M1425.8 1213.8h0M1468.2 1239.8h0M1414.2 1218.5h0M1404.8 1139.2h0M1409.1 1227.2h0M1426.1 1176h0M1431.2 1234.8h0M1491.8 1250.8h0M1436.8 1201.3h0M1467 1177h0M1416.5 1213.9h0M1404.8 1258.3h0M1438.7 1130.9h0M1437.3 1127.4h0M1434.5 1252.7h0M1439.2 1192.8h0M1430.7 1155h0M1440 1201.4h0M1469.5 1219.2h0M1455.2 1213.9h0M1457 1229.2h0M1406.5 1099h0M622.3 2140.3h0M629.6 2234.2h0M641.6 2195.7h0M629.5 2231.6h0M634.4 2150.4h0M638.1 2243.2h0M655 2164.4h0M665.4 2174.4h0M613.3 2139.4h0M640.8 2140.4h0M643.5 2171.7h0M659.6 2167.3h0M677.2 2224.3h0M648.1 2143.8h0M664.3 2242.7h0M647.1 2140.5h0M600.3 2167h0M621.9 2246.4h0M616.7 2246.3h0M658.3 2227.9h0M649.7 2130.8h0M667.3 2197.4h0M646.1 2183.9h0M659.5 2256.9h0M637.4 2235.3h0M646.1 2129.1h0M650.1 2255.1h0M644.4 2244.8h0M618 2143.9h0M644.7 2197.1h0M631.8 2128.7h0M667.7 2205.2h0M648.5 2221.6h0M659.9 2240.5h0M649.2 2194.4h0M659.9 2160.7h0M652.8 2157.5h0M615 2116.7h0M631.3 2182.7h0M679.5 2190.4h0M603.8 2124.3h0M645.7 2233.1h0M637.8 2126.2h0M1487.1 2012.8h0M1531.5 1898.9h0M1447.6 2060.2h0M1466.7 1898.7h0M1494.5 1922.4h0M1582 2044.8h0M1573.9 1937.4h0M1465 2025.8h0M1496.4 1955.1h0M1575.2 1913.5h0M1583.8 1878.2h0M1478.9 1911.8h0M1411.2 1878.2h0M1500.8 2054.9h0M1566.5 2063h0M1469.7 1999h0M1452.9 2046.7h0M1504.5 1896.8h0M1532.6 1961.6h0M1597.7 1917.6h0M1488.9 2028.2h0M1585.5 1981.2h0M1473.1 2000.2h0M1563.8 1981h0M1624.9 1910.7h0M1474.2 1946.1h0M1485.4 2027.8h0M1542.8 1916.5h0M1487.3 2054.5h0M1583.6 1868.2h0M1417.6 1965.4h0M1550.5 1913.2h0M1609.8 1952.6h0M1547.8 1865.8h0M1554.6 1911.4h0M1393.4 1983.8h0M1396.3 1930h0M1626.6 2038.2h0M1408.7 1994.4h0M1449.3 1895.4h0M1459.4 1863.6h0M1595.2 1961.2h0M1392.6 2057.1h0M1622.6 1878.1h0M1504.5 1983.2h0M1496.7 1997.2h0M1603.5 2055.3h0M1602.1 1943.3h0M1525.2 1903.9h0M1399.5 1872.4h0M1406.6 1972.2h0M1601.6 1953.3h0M1623.2 2030.7h0M1585.2 1988.8h0M1618.8 1981.9h0M1548 2008h0M1423.4 1875.1h0M1415 2010h0M1422.1 2050.7h0M1562.2 1993.8h0M1546 1978.9h0M1510.8 1918.3h0M1568.4 1859.2h0M1391.7 2039.6h0M1423.4 1864.8h0M1492.8 1915h0M1485.2 1864.2h0M1471.4 1908h0M1623.8 1912.2h0M1518.5 1931.5h0M1611.5 1986.1h0M1559.1 1896.5h0M1438.8 1880.3h0M1498.7 2026.1h0M1577.8 2061.3h0M1534.8 1883.6h0M1496.7 1976.4h0M1554.7 2016.1h0M1519.9 2042.5h0M1464 1934.4h0M1401.7 2030.8h0M1392.4 1943.2h0M1567.4 2013.4h0M1620.6 1882.8h0M1606.6 1934.1h0M1431.2 2002.4h0M1518.7 2064h0M1609.1 1975h0M1498.7 2000.4h0M1566.8 1955.4h0M1489 2044.9h0M1614.1 2044.5h0M1606.8 1902.5h0M1437.6 1940.2h0M1488.5 2052.8h0M1392.2 1895.3h0M1567 2064.7h0M1437.1 1887.4h0M1437.4 1955.9h0M1411.4 2024.8h0M1554.8 1870.3h0M1424.2 2032.3h0M1562.5 1913.8h0M1392.4 1919.6h0M1579 2066.1h0M1538.5 1984h0M1595.7 1969h0M1597 1927.7h0M1405.7 1927.7h0M1625.7 1867h0M1536.5 2020.4h0M1410.7 1900.3h0M1450.7 2064.4h0M1508.3 1896.2h0M1593.1 2062h0M1598.8 1936.5h0M1475.8 2031.5h0M1437.9 1951.4h0M1459.8 1936h0M1567.9 1873.5h0M1413.4 1917.3h0M1466.8 2004.8h0M1517.1 1929.2h0M1538.3 1869.5h0M1425.2 1944.2h0M1495.9 1983.8h0M1569 1916.8h0M1609.6 1891h0M1598.7 1857.2h0M1622 2008.1h0M1482.8 1939.8h0M1540.6 1989.2h0M1437.8 1868.6h0M1421.7 2047.9h0M1480.3 1956.2h0M1456.2 1920.7h0M1532.3 1909.5h0M1584.9 1875.8h0M1505.9 1991.8h0M1425.3 2021.1h0M1506.4 1981.3h0M1392.5 1901.9h0M1567.9 2056.5h0M1617 1968.1h0M1422.9 1881h0M1610 1953.8h0M1610.6 1918.6h0M1490.4 1963.1h0M1618.9 1970.6h0M1458.9 1952.4h0M1500.4 1917.4h0M1394.7 1918.4h0M1613.5 2054.8h0M1414.1 1987.2h0M1618.3 1916.4h0M1470 1946.8h0M1464.9 1873.1h0M1511.1 1981.4h0M1543.6 1996.3h0M1451.1 1993.4h0M1492.6 2041.2h0M1473.3 2037.6h0M1425.8 1877.4h0M1491.7 2052.8h0M1479.7 1971.3h0M1598.9 2032.4h0M1391.3 2000.6h0M1556.9 1908.5h0M1535.1 2054.9h0M1423.8 1911.8h0M1466 1967.3h0M1506.8 1943.3h0M1509.4 1915.9h0M1512.5 2032.1h0M1511.3 2009.5h0M1512.2 2003.3h0M1520.9 2071.6h0M1402.1 1996.3h0M1553.3 2063.3h0M1538.1 1908.5h0M1429 2016.3h0M1467.7 1986.2h0M1437.1 1967.6h0M1474.7 2020.2h0M1436.9 2040.6h0M1599.4 2062.4h0M1575.9 1893.1h0M1517.9 1873.3h0M1431 1896.4h0M1491.3 1950.5h0M1447.5 2055.9h0M1471.5 1927.5h0M1534.6 2057.2h0M1423.1 1983.5h0M1534.8 1861.1h0M1563.9 2061.5h0M1460.9 1942.1h0M1517.3 1961.4h0M1519.7 2070.6h0M1512.4 1861.2h0M1482.6 1895.5h0M1473 1884.2h0M1407.2 1863.9h0M1458.6 2015h0M1601.3 1873.1h0M1616.9 1935h0M1579.2 1920.1h0M1528.7 1965.6h0M1550.2 2040.1h0M1450.5 2015.7h0M1595 1868.7h0M1505.2 1862h0M1482.4 1997.3h0M1511.2 2063.3h0M1480.4 2039.8h0M1605.2 1938.2h0M1433.2 1881.7h0M1573.6 2045h0M1605.3 1921.1h0M1463 1880.1h0M1398.1 2012.7h0M1508.7 2065.4h0M1564.2 2052.4h0M1603.2 1932.3h0M1620.6 2063.4h0M1552.1 2045.7h0M1605.6 1953.2h0M1517.9 1939.8h0M1565.9 2003h0M1446.3 1944h0M1439.8 2036.3h0M1519.2 1884.3h0M1574.2 2015.9h0M1407.4 1893.9h0M1582.5 1960.9h0M1462.8 2057h0M1441.5 2055.7h0M1498.5 2032.6h0M1463.6 1929.4h0M1615.3 1910.4h0M1456.8 2036.6h0M1526.4 2034.1h0M1537.8 1905.7h0M1398.7 1882.5h0M1502.7 1987.3h0M1497.4 1982h0M1444 1874.3h0M1497 2055.1h0M1447 1965.5h0M1505.5 2036.4h0M1515.6 1962.9h0M1596.6 1983.2h0M1496.3 1936.5h0M1429.7 2037.1h0M1466.9 1923.9h0M1413.2 1966.1h0M1593.1 2007.5h0M1504.5 1920.9h0M1421.2 1974.5h0M1625.2 1938h0M1553.5 1914.7h0M1525.1 1950.8h0M1503.2 1890h0M1474.3 1971.7h0M1568 2027.7h0M1400.2 2034.4h0M1585 1898.4h0M1395.8 1945.4h0M1511.2 1892.6h0M1435 2040.6h0M1494.4 1995.7h0M1615.6 1977h0M1521.5 1980.5h0M1548.7 1937.6h0M1412 2019.4h0M1572.2 1942.1h0M1485.6 1890h0M1576.7 2002.4h0M1536.2 2021.3h0M1468.9 2041.4h0M1431.1 1868.9h0M1559.8 2057.3h0M1580.3 1927h0M1432.8 1916.5h0M1479 2055.4h0M1450.2 1886.1h0M1454.3 1979.5h0M1570.5 1986.1h0M1431.7 2050.1h0M1498.6 2024.6h0M1591.5 2037.3h0M1612.1 1935.9h0M1409.6 1979.9h0M1413.3 1926.8h0M1623.2 1992.4h0M1437.5 1990.1h0M1450 1923.6h0M1457.1 1993.2h0M1447.7 2007.4h0M1506 1890.3h0M1537.4 2031.2h0M1624.8 1992.4h0M1623.8 1901.4h0M1541.4 1926.9h0M1544.3 2054.8h0M1487.3 1978.8h0M1578.7 1896.3h0M1542.3 1888.8h0M1560.7 2044.7h0M1462.6 1890.1h0M1456.4 1898.6h0M1522.1 1928.6h0M1524.6 1966.2h0M1516.7 1976.1h0M1439.2 1953.6h0M1568.9 1995.5h0M1574.6 1980.7h0M1402.9 2056.3h0M1441.3 1941.3h0M1521.1 1866.1h0M1537.8 1950.4h0M1408.3 2047h0M1581.9 2068.4h0M1486.6 1976.2h0M1519.9 1995.7h0M1590.7 1953.4h0M1433.9 2025.9h0M1581.7 1865.3h0M1523.4 2032.9h0M1611.2 1910.7h0M1432.8 1989h0M1401.6 2018.4h0M1568.7 1973.1h0M1501.3 1983.6h0M1393.7 1871h0M1433.6 1894.1h0M1489 2014.4h0M1398.8 1928.7h0M1541.5 1964h0M1583 2040h0M1508.2 1921.6h0M1467.4 1933.4h0M1471.2 1942.4h0M1500.9 2050.3h0M1530.1 1981.7h0M1487.2 1876.2h0M1553.4 2036.9h0M1408.8 2055h0M1589.9 1936.4h0M1477.6 1898.1h0M1508.4 1979.3h0M1483.6 1988.7h0M1502.8 2022.8h0M1486.3 2072.2h0M1562.7 2044.1h0M1494.4 2029.1h0M1453.8 2025.6h0M1545.6 1987.4h0M1550.4 1957.7h0M1543.4 2074.5h0M1606.7 1997.4h0M1458.6 1961.8h0M1608.9 2051.9h0M1596.9 2008.6h0M1601.6 1860h0M1406.1 1926.1h0M1538.4 1947.9h0M1443 2004h0M1515.7 1947.1h0M1568.8 2003.2h0M1566.7 1977.5h0M1587.3 1902.3h0M1426 1982h0M1481.1 2072.6h0M1524.4 1935.5h0M1411.7 1866.9h0M1524.1 1975.4h0M1397.4 2015.8h0M1553.1 1944h0M1469.5 2003.6h0M1609.5 1946.5h0M1418.4 2045.3h0M1449.8 2009.1h0M1619 1963h0M1498.3 1917.4h0M1525.9 1927.5h0M1418.9 2058.5h0M1535.7 1948.5h0M1558.6 1956.4h0M1449.8 1892.4h0M1397.1 1944.5h0M1443.3 1949.4h0M1396.6 1907.2h0M1489.4 1937.9h0M1462.6 1909.4h0M1452.4 2017.4h0M1497.6 2032.7h0M1622.8 2070.5h0M1546 2120.4h0M1148.5 2112.3h0M1201.5 2067.9h0M1101.2 2037.4h0M1180.4 2012h0M1352.9 2114.7h0M1232.1 2120.7h0M1214.8 2068h0M1150.8 2066.4h0M1155.7 2026.3h0M1119.7 2017.7h0M1172.5 2009h0M1231.7 2042.7h0M1207 2073.1h0M1232.6 2104.2h0M1136.7 2144.1h0M1107.9 2117.2h0M1383.7 2107.1h0M1202.7 2046.8h0M1370 2096.5h0M1106.2 2094.8h0M1557.4 2097.3h0M1352.3 2115.3h0M1195.4 2048.4h0M1470.1 2121.2h0M1540.2 2120.9h0M1306.9 2138.3h0M1508.9 2094.7h0M1194.7 2024.7h0M1187.4 2075.2h0M1117.7 2066.2h0M1338.8 2117.8h0M1238.4 2053.8h0M1441.1 2119.9h0M1142.6 2131.2h0M1135 2156.4h0M1139.5 2140.1h0M1263.6 2130.7h0M1455.2 2111.9h0M1311.6 2080.4h0M1350.1 2100.8h0M1283.5 2076.8h0M1349.7 2093.1h0M1212.1 2057.8h0M1104 2128.5h0M1197.1 2084.8h0M1448.6 2096.5h0M1396.7 2121.7h0M1215.7 2044.6h0M1304 2138.2h0M1285 2058.2h0M1218.6 2054.3h0M1428.7 2124.1h0M1165.2 2066.8h0M1395.4 2099.8h0M1264.7 2108.8h0M1147.1 2035.6h0M1398.4 2111.1h0M1485.7 2119.6h0M1165.2 2065.8h0M1478.4 1812.3h0M1411.1 1848.5h0M1434.5 1811.1h0M1462.9 1744.7h0M1401.2 1744.4h0M1453.8 1812.2h0M1568.9 1856.3h0M1424.7 1841.1h0M1435 1753.1h0M1387.2 1752.2h0M1563.5 1852.8h0M1391 1771.3h0M1511.8 1834.5h0M1487.9 1815.3h0M1418.1 1765.9h0M1407.9 1797.8h0M1606.4 1776.4h0M1403.7 1749h0M1578.2 1847.3h0M1489.7 1778.8h0M1604.5 1767.4h0M1420 1795.7h0M1463.6 1797.9h0M1536.8 1839.4h0M1526.1 1823.1h0M1453.9 1834.2h0M1524.8 1840.6h0M1504.4 1743.7h0M1458.8 1859.4h0M1525 1778.9h0M1594 1839.6h0M1403.9 1828.7h0M1578.3 1795.6h0M1538.1 1785.7h0M1500 1853h0M1466 1843.1h0M1555.7 1856.6h0M1520 1768h0M1579.8 1798.2h0M1411.2 1798h0M1512.9 1805.9h0M1442.7 1844.2h0M1443.8 1819.9h0M1435.2 1850.6h0M1514.5 1857.5h0M1514.9 1771.1h0M1501 1831.4h0M1553 1745.8h0M1468.8 1859.6h0M1538.1 1790.5h0M1508.6 1750.3h0M1408 1780.9h0M1500.2 1713.5h0M1591.7 1708.7h0M1635.4 1702.7h0M1476.7 1665.8h0M1707.2 1692.6h0M1710.5 1703.1h0M1569.3 1646.7h0M1563 1724.6h0M1578.3 1686.9h0M1659.4 1637.9h0M1733.2 1692.8h0M1509.7 1713.4h0M1670.1 1701.3h0M1654.7 1664.2h0M1551 1653.2h0M1648.7 1648h0M1675.8 1711.9h0M1466.5 1650.7h0M1583.9 1698.8h0M1555.5 1731h0M1654.5 1702.8h0M1578.8 1629h0M1587.1 1696.8h0M1577.9 1621.3h0M1510.3 1627.5h0M1689.1 1677.5h0M1480.7 1643h0M1650.9 1732.3h0M1642.3 1690h0"/>
<path class="pt" stroke="#ee7600" stroke-width="20.8" d="M1841.5 1940h0M1804 1951.5h0M1758.9 1960.8h0M1902.8 1945.7h0M1924.3 1950.4h0M1781.3 1965.4h0M1790.6 1961.9h0M1832.7 1966.1h0M1902.8 1959.6h0M1788.3 1979.3h0M1906.3 1978.1h0M1959.9 1990.9h0M1797.5 1994.3h0M1813.7 1992h0M1839.2 1987.4h0M1862.3 1985.1h0M1885.5 1992h0M1910.9 1994.3h0M1804.5 2016.3h0M1917.8 2011.7h0M1932.9 2033.7h0M1974.1 2041.8h0M1806.8 2042.9h0M1804.5 2067.2h0M1782 2075.3h0M1929.4 2070.7h0M1922.5 2054.5h0M1949.1 2084.6h0M1834.6 2096.1h0M1848.4 2093.8h0M1920.2 2096.1h0M1919 2108.8h0M1798.7 2111.2h0M1825.3 2115.8h0M1839.2 2115.8h0M1864.6 2121.6h0M1875 2126.2h0M1897 2100.8h0M1909.7 2128.5h0M1898.2 2142.4h0M1816 2159.3h0M1922.5 2157h0M1839.2 2075.3h0M1908.6 2082.2h0M1866.4 2065.9h0M1915.1 2038.8h0M1870.7 2091.1h0M1844.2 2079.4h0M1868.8 2073.3h0M1917.9 2015.8h0M1910.5 1990.8h0M1843.1 2023.8h0M1833.5 2038.4h0M1850.6 2072.4h0M1887.5 2020.8h0M1842.1 2051.1h0M1808.7 2039.2h0M1921 2025.4h0M1892.6 2044.8h0M1910.9 2015.3h0M1914.1 2005.6h0M1859.7 1989h0M1848.3 1986.9h0M1879.6 2019.7h0M1857.1 2075h0M1913.4 2058.3h0M1884.8 2008.6h0M1860.7 2052.4h0M1852.6 2041.5h0M1923.9 2054.7h0M1814.2 2040h0M1882.7 1995.4h0M1913.4 2047h0M1907.1 2051.3h0M1803.7 2034h0M1841.4 1985.2h0M1894.3 2096h0M1807.8 2023.1h0M1914.4 2013h0M1885.9 2062.3h0M1870.7 2042h0M1822.2 2054.2h0M1867.1 2047.5h0M1868.8 2101.7h0M1815.3 2060h0M1915.7 2085.7h0M1831.3 2043.5h0M1878.1 2048.9h0M1879 2098.3h0M1859.6 1992.9h0M1879.2 2056.2h0M1892.4 2071.3h0M1824 2008.9h0M1829.3 2074.2h0M1870.8 2023.6h0M1883.4 2025.7h0M1861.3 2094.7h0M1845.8 2087.9h0M1918.5 2039.4h0M1844.6 2032.2h0M1808.2 2034.4h0M1846 2102.6h0M1904.3 2030.8h0M1875.5 2008.1h0M1838.3 2010.4h0M1879.1 2106.8h0M1819.8 1995.5h0M1891.4 2111h0M1868.5 2030.4h0M1855.4 2064.4h0M1919.4 2033.1h0M1918.8 2036.1h0M1871.6 2004.6h0M1874.3 2011.4h0M1818.7 2044.2h0M1843.1 2047.9h0M1886.9 2036.9h0M1884.4 2099.8h0M1893.1 2104.2h0M1837.9 2069.4h0M1862.4 2114.4h0M1881.3 2024.7h0M1900.2 2002.8h0M1866.7 2110h0M1901.1 2053.6h0M1862.5 1994.4h0M1899.2 2068.5h0M1888.6 2058h0M1859.1 2052.5h0M1850.9 2005.7h0M1876.7 2030.3h0M1907.9 2086.1h0M1839 2098.9h0M1899.9 2079.8h0M1900.4 2102.7h0M1814.5 2048.7h0M1892.9 2111.5h0M1816 2051.9h0M1883.1 2072.9h0M1807.1 2035.6h0M1827.1 2037.9h0M1909.8 2014.9h0M1831.4 2056.1h0M1851.4 2049.3h0M1868.4 1985.9h0M1915.9 2082.7h0M1902.5 2098.7h0M1913.8 2005.1h0M1835.1 2083.3h0M1841.7 2095.4h0M1813.9 2055h0M1909.7 2005.3h0M1896.7 2017.2h0M1913.1 2018.7h0M1892.7 1995.7h0M1887.5 2089h0M1866.1 2114.8h0M1868.8 2064.9h0M1879.4 2028.3h0M1830.4 2053.3h0M1823.7 2062.9h0M1852.1 2078h0M1916.1 2028.4h0M1899.6 2100.6h0M1906.8 2072.1h0M1815.6 2066.9h0M1868.9 2079.1h0M1892.5 2057h0M1890.1 1996.2h0M1921.7 2023.2h0M1848.5 2092.7h0M1888.3 2074.9h0M1882.9 2091.9h0M1907.6 2000.5h0M1875.9 2093.5h0M1908.8 2027.1h0M1844.2 2081.9h0M1808.1 2014.9h0M1883.5 1998.9h0M1813.2 2038h0M1882.7 2078.8h0M1903.1 2063.6h0M1845.1 1982.5h0M1849.4 1987.1h0M1895.7 2048.1h0M1881.2 2047.7h0M1876.1 2043.9h0M1867.5 2043h0M1919.4 2072.6h0M1840.3 2074.1h0M1858.4 1990.4h0M1867.5 2028.9h0M1896.8 2050.1h0M1874 2010.2h0M1845.8 2002.8h0M1835.4 2073.9h0M1857.2 2079.2h0M1866.7 2011.6h0M1884 2027.3h0M1881.3 2052.1h0M1853.2 2037.2h0M1905.4 2010.6h0M1809.2 2027.8h0M1848.9 2080h0M1886.9 2040.8h0M1825.9 2068.3h0M1858.3 2078.7h0M1829.4 2046.2h0M1921.6 2005.1h0M1900.4 2104.9h0M1825.5 2070.9h0M1863.4 2099.5h0M1809.8 2010.2h0M1847.6 2006.8h0M1884.8 2088.3h0M1918.5 2007h0M1862.6 1983.9h0M1838.5 2063.9h0M1854.1 1986.9h0M1831.3 2044.9h0M1914 2053.4h0M1841.3 2083.5h0M1884.2 1998.7h0M1878.9 2066.1h0M1829.1 2011.8h0M1918.3 2078.1h0M1849 2010.2h0M1819.4 2039.2h0M1825 2049.1h0M1825.9 2072.4h0M1889.2 1999.4h0M1852.3 2032.4h0M1878.2 2121.8h0M1851.5 2104.5h0M1898.4 2081.7h0M1857.1 1987h0M1805.4 2062.6h0M1858.1 2060.9h0M1845.2 2036.6h0M1822.6 2023.6h0M1837.5 2084.6h0M1846 2003.5h0M1909.2 2074.6h0M1843.2 2070.3h0M1858.5 2059.2h0M1864.8 2010.5h0M1884.6 2031.7h0M1837.6 1999.7h0"/>
<path class="pt" stroke="#458b00" stroke-width="20.8" d="M518.6 2090.6h0M426.7 2113.3h0M497.3 2131.1h0M481.1 2136.9h0M432 2148.5h0M510.5 2153.1h0M533.1 2154.3h0M574.8 2158.9h0M470.7 2161.2h0M481.1 2164.7h0M477.6 2179.7h0M449.9 2187.8h0M491.5 2190.1h0M514.6 2190.1h0M526.2 2193.6h0M412.4 2189h0M404.7 2195.9h0M377 2193.1h0M564.4 2191.3h0M338.8 2204.5h0M417.5 2206.3h0M373.5 2213.3h0M473 2200.5h0M454.5 2202.8h0M530.8 2202.8h0M500.8 2212.1h0M516.9 2212.1h0M580.6 2216.3h0M445.2 2216.7h0M486.9 2216.7h0M396 2226.4h0M431.3 2230.6h0M459.1 2230.6h0M473 2232.9h0M496.1 2235.2h0M523.9 2228.3h0M535.5 2226h0M380.5 2236.4h0M382.8 2249.1h0M449.9 2244.5h0M486.9 2249.1h0M541.2 2246.8h0M564.4 2246.8h0M530.8 2256h0M361.9 2261.4h0M382.8 2261.8h0M396.6 2267.6h0M421.6 2265.3h0M454.5 2256h0M454.5 2267.6h0M486.9 2265.3h0M577.1 2265.3h0M544.7 2269.9h0M533.1 2273.4h0M417.5 2279.2h0M486.9 2279.2h0M444.1 2289.6h0M418.6 2290.8h0M496.1 2291.9h0M474.1 2296.5h0M486.9 2293.1h0M371.7 2300h0M397.8 2297.2h0M438.3 2300h0M429 2316.2h0M431.3 2306.9h0M452.7 2211.3h0M441.1 2202.1h0M476.8 2206.9h0M481.7 2212.7h0M499.3 2195.5h0M465.6 2218.5h0M495.7 2217.6h0M446.2 2210.3h0M472.3 2216.2h0M437.8 2218.3h0M447.4 2238.2h0M476.6 2240.2h0M441.9 2236.2h0M450.8 2194.9h0M499.5 2197.4h0M493.2 2189.2h0"/>
<path class="pt" stroke="#0000cd" stroke-width="20.8" d="M1127.2 144.9h0M1156.2 147.9h0M1161.9 147.4h0M1205.9 164.1h0M1153.8 167.6h0M1159.6 169.9h0M1232 175h0M1128.4 174.5h0M1138.8 182.6h0M1181.6 182.6h0M1187.4 186.1h0M1217.5 184.9h0M1204.7 189.6h0M1261.9 199.5h0M1174.7 201.1h0M1199 198.8h0M1230.7 207.4h0M1180.5 213.8h0M1196.6 217.3h0M1150.4 219.6h0M1047.4 224.3h0M1161.9 228.9h0M1241.8 228.9h0M1225.6 233.5h0M1175.8 238.1h0M1194.3 235.8h0M1210.5 238.1h0M1124.9 240.5h0M1078 242.1h0M1108.7 246.2h0M1138.8 245.1h0M1258 246.9h0M1233.7 245.1h0M1161.9 252h0M1182.8 254.3h0M1201.3 256.6h0M1219.8 256.6h0M1142.3 263.6h0M1258 263.6h0M1242.9 263.6h0M1099.5 268.2h0M1185.1 268.2h0M1203.6 272.8h0M1224.4 268.2h0M1092.5 280.9h0M1112.2 280.9h0M1166.6 282.1h0M1178.1 283.3h0M1254.5 283.9h0M1196.6 286.7h0M1217.5 284.4h0M1236 282.1h0M1273 297.1h0M1297.7 301.8h0M1145.7 302.9h0M1159.6 300.6h0M1175.8 300.6h0M1192 300.6h0M1208.2 300.6h0M1226.7 298.3h0M1240.6 293.7h0M1134.2 312.2h0M1150.4 314.5h0M1166.6 314.5h0M1185.1 314.5h0M1201.3 312.2h0M1261.4 314.5h0M1245.2 312.2h0M1215.2 326h0M1231.3 321.4h0M1119.1 328.4h0M1175.8 328.4h0M1192 326h0M1245.2 323.7h0M1224.4 333h0M1251 339.9h0M1145.7 345.7h0M1180.5 342.2h0M1196.6 346.9h0M1212.8 349.2h0M1236 344.6h0M1277.6 350.3h0M1270.7 352.7h0M1155 353.8h0M1171.2 356.1h0M1219.8 358.4h0M1134.2 366.5h0M1145.7 370h0M1178.1 367.7h0M1203.6 370h0M1299.1 377.6h0M1226.7 379.3h0M1259.1 378.1h0M1251 382.7h0M1182.8 379.3h0M1194.3 376.9h0M1207.1 388.5h0M1256.8 393.1h0M1178.1 409.3h0M1167.7 412.8h0M1185.1 419.7h0M1193.2 442.9h0M1209.3 266.7h0M1202.4 305.4h0M1198.8 305.5h0M1162.1 292.4h0M1219.6 328.3h0M1234.2 273.1h0M1173.2 286.6h0M1188.6 321h0M1188.5 232.9h0M1200.6 305.8h0M1236.2 338.1h0M1171.9 323.5h0M1228.1 295.7h0M1182.8 334.4h0M1193.4 277.6h0M1187.6 247.5h0M1170.7 246.6h0M1204.1 239.8h0M1214.9 285.4h0M1178.9 244.8h0M1173.5 223.4h0M1186.7 344.7h0M1240.5 328.9h0M1208.8 286.4h0M1251.9 276.5h0M1207.5 330.5h0M1194.1 273.1h0M1236.3 244.3h0M1172.2 341.6h0M1202.4 350.2h0M1163.5 263.8h0M1225.3 281.4h0M1232.7 314.7h0M1173.6 248.6h0M1176.1 300.3h0M1168.7 331.4h0M1177.7 231.8h0M1190 288.2h0M1171.3 336.9h0M1166.4 252.7h0M1237.8 328.7h0M1173.1 320h0M1177.4 239.3h0M1160.3 323.6h0M1244.7 322.5h0M1190.1 349.9h0M1228.8 274.9h0M1247.2 313.6h0M1205.9 242.3h0M1188.3 323.1h0M1178.7 306.8h0M1220.9 255.8h0M1206.8 226.9h0M1190.5 304.8h0"/>
</g>
<rect x="157.7" y="0.4" width="1946.8" height="2508.3" fill="none" stroke="#000" stroke-width="2.5"/>
<g stroke="#000" stroke-width="3.8">
<line x1="393.0" y1="2509.9" x2="393.0" y2="2519.8"/><line x1="798.4" y1="2509.9" x2="798.4" y2="2519.8"/><line x1="1203.8" y1="2509.9" x2="1203.8" y2="2519.8"/><line x1="1609.1" y1="2509.9" x2="1609.1" y2="2519.8"/><line x1="2014.4" y1="2509.9" x2="2014.4" y2="2519.8"/><line x1="145.9" y1="2348.3" x2="156.4" y2="2348.3"/><line x1="145.9" y1="1954.2" x2="156.4" y2="1954.2"/><line x1="145.9" y1="1560.1" x2="156.4" y2="1560.1"/><line x1="145.9" y1="1166.1" x2="156.4" y2="1166.1"/><line x1="145.9" y1="772.0" x2="156.4" y2="772.0"/><line x1="145.9" y1="378.0" x2="156.4" y2="378.0"/>
</g>
<g class="tick">
<text transform="translate(393.0 2553.1) scale(1 1.04)" text-anchor="middle">−30</text><text transform="translate(798.4 2553.1) scale(1 1.04)" text-anchor="middle">−20</text><text transform="translate(1203.8 2553.1) scale(1 1.04)" text-anchor="middle">−10</text><text transform="translate(1609.1 2553.1) scale(1 1.04)" text-anchor="middle">0</text><text transform="translate(2014.4 2553.1) scale(1 1.04)" text-anchor="middle">10</text><text transform="translate(138.6 2360.9) scale(1 1.04)" text-anchor="end">−10</text><text transform="translate(138.6 1966.8) scale(1 1.04)" text-anchor="end">0</text><text transform="translate(138.6 1572.7) scale(1 1.04)" text-anchor="end">10</text><text transform="translate(138.6 1178.7) scale(1 1.04)" text-anchor="end">20</text><text transform="translate(138.6 784.6) scale(1 1.04)" text-anchor="end">30</text><text transform="translate(138.6 390.6) scale(1 1.04)" text-anchor="end">40</text>
</g>
<text class="title" transform="translate(1130 2623.4) scale(1 1.04)" text-anchor="middle">PC1</text>
<text class="title" transform="translate(54.9 1253.3) rotate(-90) scale(1 1.04)" text-anchor="middle">PC2</text>
<g id="legend">
<circle cx="1727.7" cy="233.4" r="22.5" fill="#bebebe"/><text class="leg" transform="translate(1778.5 247.0) scale(1 1.04)">All samples</text>
<circle cx="1727.7" cy="297.7" r="22.5" fill="#ee7600"/><text class="leg" transform="translate(1778.5 311.3) scale(1 1.04)">EUR (CEU)</text>
<circle cx="1727.7" cy="362.1" r="22.5" fill="#458b00"/><text class="leg" transform="translate(1778.5 375.7) scale(1 1.04)">EAS (CHB)</text>
<circle cx="1727.7" cy="426.4" r="22.5" fill="#0000cd"/><text class="leg" transform="translate(1778.5 440.0) scale(1 1.04)">AFR (YRI)</text>
</g>
</svg>
</body></html>
